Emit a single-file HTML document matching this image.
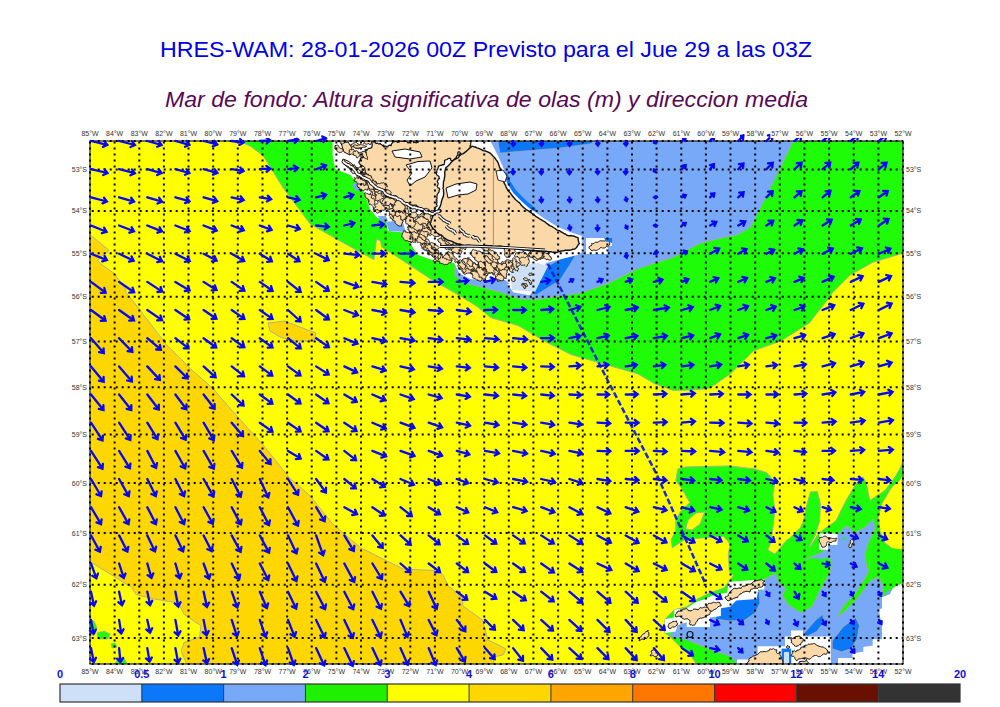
<!DOCTYPE html>
<html><head><meta charset="utf-8"><style>
html,body{margin:0;padding:0;background:#fff;width:1000px;height:707px;overflow:hidden}
svg{display:block}
</style></head><body>
<svg width="1000" height="707" viewBox="0 0 1000 707">
<defs><clipPath id="mc"><rect x="90.0" y="141.0" width="813.0" height="523.0"/></clipPath></defs>
<text x="160" y="56.6" textLength="652" lengthAdjust="spacingAndGlyphs" font-family="Liberation Sans, sans-serif" font-size="21.6" fill="#0000e8">HRES-WAM: 28-01-2026 00Z Previsto para el Jue 29 a las 03Z</text>
<text x="165" y="106.6" textLength="643" lengthAdjust="spacingAndGlyphs" font-family="Liberation Sans, sans-serif" font-style="italic" font-size="21.6" fill="#580858">Mar de fondo: Altura significativa de olas (m) y direccion media</text>
<g clip-path="url(#mc)">
<rect x="90.0" y="141.0" width="813.0" height="523.0" fill="#ffff00"/>
<polygon points="90.7,235.3 101.6,244.2 108.6,249.9 107.9,251.8 103.5,254.4 97.7,260.1 99.0,262.7 114.3,273.5 125.8,289.4 125.8,292.6 133.0,301.0 166.4,344.5 191.9,370.0 212.3,387.8 237.7,417.0 263.2,445.0 290.0,478.5 309.8,495.5 332.5,523.8 360.8,547.8 386.2,560.6 403.2,569.0 434.4,570.5 442.8,574.7 448.5,586.0 462.7,597.4 462.7,605.9 482.5,620.0 488.0,640.0 499.5,645.5 506.0,649.0 503.0,655.0 493.0,657.0 494.0,664.0 187.0,665.0 181.2,651.0 184.0,642.7 199.6,637.0 201.0,625.7 184.0,614.4 178.4,603.0 153.0,598.8 136.0,594.5 131.7,587.5 113.3,576.0 102.0,569.0 90.7,562.0 85.0,562.0 85.0,235.0" fill="#ffd700" stroke="#a8a8a8" stroke-width="0.9" stroke-linejoin="round"/><polygon points="268.0,323.0 285.0,321.0 300.0,327.0 316.0,333.0 314.0,341.0 295.0,341.0 280.0,337.0 270.0,331.0" fill="#ffd700" stroke="#a8a8a8" stroke-width="0.9" stroke-linejoin="round"/><polygon points="88.0,620.0 94.0,621.0 97.0,628.0 95.0,634.0 88.0,636.0" fill="#1efc08" stroke="#a8a8a8" stroke-width="0.8" stroke-linejoin="round"/><polygon points="97.0,633.0 104.0,631.0 110.0,634.0 108.0,639.0 98.0,639.0" fill="#1efc08" stroke="#a8a8a8" stroke-width="0.8" stroke-linejoin="round"/><polygon points="111.0,644.0 115.0,643.0 117.0,647.0 112.0,648.0" fill="#1efc08" stroke="#a8a8a8" stroke-width="0.8" stroke-linejoin="round"/><polygon points="115.0,664.0 118.0,658.0 124.0,658.0 128.0,665.0" fill="#1efc08" stroke="#a8a8a8" stroke-width="0.8" stroke-linejoin="round"/><polygon points="235.2,139.0 250.0,146.0 263.0,155.5 283.5,188.5 295.0,203.8 310.4,224.2 340.0,241.0 374.0,259.8 376.5,239.4 380.4,240.7 381.6,247.0 405.0,262.0 432.5,280.2 455.0,293.0 475.8,305.6 491.0,317.8 518.0,325.5 546.0,342.0 571.4,354.7 602.0,363.6 637.5,373.8 655.3,384.0 673.2,390.4 690.0,390.0 705.0,389.0 710.2,387.8 730.5,373.8 753.4,351.0 781.4,340.7 809.4,323.0 827.3,300.0 832.3,292.9 850.2,275.0 873.0,262.3 902.3,253.4 905.0,253.0 905.0,139.0" fill="#1efc08" stroke="#a8a8a8" stroke-width="0.9" stroke-linejoin="round"/><polygon points="455.0,139.0 792.9,139.0 792.9,141.5 778.9,170.7 756.0,216.5 750.9,226.7 738.2,234.4 715.3,239.4 700.0,243.3 673.0,257.3 637.5,268.7 609.5,282.7 581.5,292.9 538.3,299.3 520.0,299.0 500.0,292.0 465.0,283.0 455.0,276.0" fill="#78a8f8" stroke="#a8a8a8" stroke-width="0.9" stroke-linejoin="round"/><polygon points="497.5,139.0 594.0,139.0 592.0,143.5 560.0,148.0 530.0,150.5 500.0,153.0" fill="#0a78f8" stroke="#a8a8a8" stroke-width="0.6" stroke-linejoin="round"/><polygon points="545.0,268.0 577.0,249.0 574.0,258.0 560.0,280.0 536.0,295.0 533.0,293.0" fill="#0a78f8" stroke="#a8a8a8" stroke-width="0.6" stroke-linejoin="round"/><polygon points="332.6,139.0 332.6,155.0 335.2,169.0 350.5,175.0 363.2,190.3 370.0,209.0 376.8,217.5 386.0,220.9 387.8,231.0 406.5,232.7 409.9,243.0 417.5,254.8 432.0,260.0 454.2,262.9 459.6,273.7 470.4,279.0 505.5,281.8 513.6,292.6 529.8,295.3 535.2,287.2 546.0,262.9 578.4,254.8 583.0,251.0 582.0,236.0 570.0,232.0 558.0,227.0 545.0,219.0 532.0,210.0 523.0,202.0 515.0,194.0 509.0,186.0 506.0,177.0 503.0,167.0 499.0,158.0 495.0,150.0 492.0,144.1 489.3,139.0" fill="#ffffff"/><polygon points="509.0,266.0 538.0,263.0 548.0,266.0 535.0,292.0 512.0,290.0" fill="#cde0f8"/><polygon points="378.0,216.0 386.0,216.0 388.0,221.0 380.0,222.0" fill="#78a8f8"/><polygon points="352.0,185.0 360.0,181.0 364.0,189.0 356.0,191.0" fill="#78a8f8"/><polygon points="386.0,222.0 402.0,220.0 406.0,232.0 389.0,231.0" fill="#78a8f8"/><polygon points="407.0,232.0 418.0,232.0 420.0,240.0 410.0,242.0" fill="#78a8f8"/><polygon points="468.0,280.0 505.0,280.0 510.0,284.0 470.0,284.0" fill="#78a8f8"/><polygon points="372.0,141.0 372.9,141.1 373.5,141.9 374.3,142.2 375.1,142.4 375.6,143.2 376.6,143.4 377.5,143.1 378.3,143.8 379.4,144.0 380.2,143.3 380.8,144.2 381.7,144.7 382.6,145.6 383.8,145.1 383.3,146.3 384.2,147.2 384.7,146.1 385.9,146.2 386.8,146.6 387.8,147.0 388.0,145.9 389.0,145.3 390.1,145.1 391.1,145.7 391.3,144.6 391.7,143.6 392.5,142.9 392.5,141.7 393.5,141.9 394.5,141.6 395.6,141.5 396.6,141.4 397.4,142.4 398.6,142.1 399.6,141.6 399.8,140.5 400.7,140.8 401.2,141.4 402.1,141.2 403.0,141.5 403.9,141.2 404.4,140.3 405.4,140.5 406.2,141.0 406.9,141.6 407.4,142.4 408.3,143.0 409.2,142.3 410.5,141.8 410.6,140.5 411.8,140.3 412.9,140.2 413.5,141.4 413.7,142.6 415.0,142.0 416.2,142.9 417.1,142.3 418.1,142.4 418.1,141.3 419.1,140.7 420.0,140.1 419.7,139.0 420.6,138.6 421.0,137.7 421.0,136.4 421.9,135.5 421.5,134.3 421.0,133.2 421.7,132.2 422.9,132.1 424.1,132.0 425.0,131.2 425.9,130.3 427.1,130.6 427.9,129.8 428.8,129.2 430.0,128.9 431.1,129.4 431.3,130.8 432.7,131.1 433.7,131.6 434.2,132.7 435.2,132.3 436.3,132.3 436.4,133.3 436.9,134.3 438.0,134.1 438.8,135.1 440.0,134.6 441.2,135.0 441.8,136.2 442.9,136.7 443.2,135.5 444.0,134.7 444.6,133.5 445.9,133.4 446.8,133.0 447.7,133.0 448.5,132.4 449.4,132.0 450.1,132.9 450.8,133.8 451.9,133.6 452.9,133.2 453.9,132.5 455.1,132.8 455.6,133.9 456.8,134.1 457.7,133.4 458.9,133.4 458.9,132.3 459.8,131.5 459.5,132.8 460.6,133.7 459.5,134.5 459.5,135.8 460.5,136.4 461.2,137.1 462.5,137.0 463.3,138.0 464.7,138.1 465.7,139.0 466.9,138.5 467.6,137.3 468.2,138.4 469.4,138.7 469.6,139.9 470.0,141.0 470.9,141.7 470.9,142.9 470.5,143.9 470.7,145.0 470.0,145.9 470.3,147.0 470.1,148.1 470.2,149.1 469.1,149.7 469.1,150.9 468.3,151.8 467.1,151.8 466.4,152.8 465.6,153.7 464.6,154.8 463.2,154.4 461.9,154.4 460.7,154.0 460.2,152.8 459.4,151.8 458.1,151.9 457.7,153.2 457.7,154.3 458.0,155.4 457.1,155.8 456.4,156.4 456.4,157.5 455.5,158.1 454.3,159.2 454.6,160.7 453.2,160.4 451.9,160.8 450.5,160.0 450.6,158.4 449.3,158.3 448.0,158.6 447.1,159.5 445.8,159.8 444.5,160.6 444.7,162.1 444.3,163.4 444.0,164.8 442.5,164.6 441.3,165.4 440.3,165.3 439.6,165.9 438.5,166.2 438.3,167.2 437.9,168.0 438.0,168.9 437.1,169.4 437.0,170.4 436.6,171.3 436.9,172.3 436.2,173.0 436.4,174.1 436.8,174.9 437.5,175.5 438.4,176.0 439.0,176.7 439.1,177.7 439.5,178.6 438.3,178.8 438.1,180.0 437.4,180.8 437.2,181.8 437.9,182.6 438.2,183.5 438.0,184.4 437.7,185.2 437.1,186.1 437.5,187.0 438.1,187.9 439.2,188.2 439.8,189.3 439.0,190.3 439.1,191.9 438.1,193.1 437.2,194.3 437.1,195.8 436.8,197.2 437.0,198.7 436.7,199.6 436.0,200.1 436.9,200.6 436.8,201.6 437.0,202.9 436.3,204.0 437.1,205.1 436.9,206.5 435.6,206.9 434.5,207.9 434.6,209.3 434.5,210.7 433.0,211.0 431.6,210.6 430.5,211.6 430.0,213.0 428.5,212.7 427.2,213.6 426.7,212.8 425.8,212.8 425.1,213.3 424.4,213.6 423.1,212.8 422.4,211.6 421.6,211.5 420.8,211.4 420.7,210.5 420.0,210.0 419.9,209.0 420.4,208.1 419.3,207.9 418.8,207.0 418.0,206.8 417.5,206.1 416.6,205.8 416.2,205.1 414.6,205.0 413.1,205.4 411.6,205.2 410.0,205.0 409.6,204.1 409.4,203.2 408.4,203.7 407.5,203.1 406.4,203.4 406.2,204.4 405.0,204.7 404.4,203.8 403.7,202.4 402.7,201.3 401.2,201.0 400.0,200.0 399.0,200.3 398.0,200.4 396.8,200.3 396.5,199.1 396.4,198.0 397.1,197.2 396.1,196.6 396.0,195.5 395.2,195.8 394.3,196.0 393.5,196.4 392.9,197.1 392.6,196.2 391.7,195.8 391.1,194.8 390.0,195.0 389.1,195.1 388.5,194.4 387.5,194.6 387.0,193.7 386.9,192.9 386.3,192.2 385.7,191.6 385.8,190.7 384.9,190.7 384.2,191.1 383.4,190.9 382.6,190.8 382.2,190.0 381.4,189.7 380.7,189.4 380.0,189.0 380.0,188.0 379.1,187.5 379.7,186.8 379.9,185.9 379.1,185.9 378.2,185.8 377.8,185.0 377.2,184.4 375.9,183.5 375.0,182.2 373.5,182.4 372.0,183.0 372.5,182.4 373.1,181.8 373.0,180.9 372.5,180.2 371.2,179.4 370.9,177.9 370.2,176.6 368.7,176.2 367.4,175.8 366.0,176.0 365.9,174.6 364.7,173.9 365.8,172.8 365.2,171.4 365.1,170.0 364.7,168.6 363.5,167.8 362.0,168.0 362.6,166.8 362.1,165.6 360.9,165.1 360.0,164.3 359.3,163.2 358.8,162.1 359.5,161.1 360.0,160.0 360.6,159.2 360.4,158.3 361.2,157.6 362.2,157.9 362.8,157.3 363.7,157.4 363.9,156.6 364.4,155.9 364.0,155.0 364.4,154.1 365.2,153.6 365.9,153.1 366.3,152.3 365.9,151.4 365.7,150.6 365.0,150.0 366.1,149.6 366.9,150.4 367.2,149.4 368.1,148.8 368.9,148.3 369.7,148.3 370.6,148.2 371.3,147.7 372.0,147.0 371.9,146.1 372.2,145.3 372.3,144.4 371.9,143.6 371.7,142.7 372.3,141.9" fill="#fad8a8" stroke="#111111" stroke-width="1.2" stroke-linejoin="round"/><polygon points="392.0,151.0 405.0,149.0 420.0,152.0 422.0,157.0 410.0,159.0 395.0,157.0" fill="#ffffff" stroke="#111111" stroke-width="1.0" stroke-linejoin="round"/><polygon points="406.0,165.0 418.0,161.5 430.0,161.0 432.0,168.0 425.0,177.0 416.0,181.0 410.0,186.0 407.0,180.0 412.0,173.0" fill="#ffffff" stroke="#111111" stroke-width="1.0" stroke-linejoin="round"/><polygon points="343.0,159.0 348.0,161.0 356.0,167.0 363.0,172.0 362.0,175.0 354.0,172.0 346.0,166.0 342.0,162.0" fill="#fad8a8" stroke="#111111" stroke-width="1.0" stroke-linejoin="round"/><polygon points="341.0,143.0 348.0,142.0 352.0,148.0 350.0,155.0 344.0,152.0" fill="#fad8a8" stroke="#111111" stroke-width="1.0" stroke-linejoin="round"/><polygon points="371.2,178.8 371.2,179.9 370.7,180.8 370.4,181.9 369.4,182.4 368.6,182.9 367.9,183.5 367.3,182.7 366.3,182.7 365.8,183.6 364.8,183.5 363.9,183.8 363.1,183.3 362.4,183.0 361.7,182.9 360.9,182.5 360.9,181.7 360.1,181.5 359.7,180.8 359.5,180.1 359.2,179.4 359.3,178.2 360.4,177.7 359.6,176.8 360.2,175.7 361.1,175.5 361.4,174.6 361.0,173.8 361.5,173.0 362.3,172.9 363.0,173.3 363.7,172.8 364.4,172.6 365.2,172.3 365.8,172.9 366.1,173.7 367.0,173.8 367.7,174.5 368.6,174.2 368.4,175.1 369.0,175.9 370.2,175.9 371.1,176.6 371.3,177.7" fill="#fad8a8" stroke="#111111" stroke-width="0.9" stroke-linejoin="round"/><polygon points="416.6,240.0 415.4,240.2 414.2,239.8 413.8,238.7 413.0,237.7 412.2,236.6 411.0,236.0 410.6,234.7 409.6,233.7 409.5,232.4 410.0,231.1 409.6,229.9 408.8,228.9 409.3,228.2 409.3,227.4 409.9,226.8 410.7,226.6 411.1,227.4 411.8,227.9 412.7,228.3 413.5,227.8 413.1,228.7 413.7,229.4 414.2,230.1 414.9,230.6 415.8,230.9 415.8,231.8 416.4,232.3 417.1,232.8 416.9,233.5 416.9,234.3 417.2,235.2 416.6,235.8 416.7,237.2 415.5,237.9 416.6,238.7" fill="#fad8a8" stroke="#111111" stroke-width="0.9" stroke-linejoin="round"/><polygon points="438.4,252.8 437.9,253.5 437.4,254.3 436.5,254.8 436.6,255.9 435.4,255.4 434.2,255.5 433.2,256.2 432.0,256.3 431.6,255.0 430.3,254.5 429.1,254.9 427.9,254.6 427.4,253.6 427.5,252.6 428.5,252.2 429.1,251.4 430.0,251.1 430.5,250.3 431.1,249.6 431.9,249.1 433.1,248.9 434.2,249.1 435.5,248.9 436.3,250.0 436.7,250.8 436.9,251.7 437.9,251.9" fill="#fad8a8" stroke="#111111" stroke-width="0.9" stroke-linejoin="round"/><polygon points="447.6,246.5 446.4,247.0 445.3,246.4 444.0,246.1 443.3,247.2 442.1,247.0 441.1,246.4 441.5,245.1 440.7,244.1 440.7,242.9 439.6,242.5 440.1,241.6 440.3,240.7 440.2,239.6 441.1,239.0 442.2,238.9 442.6,237.9 443.7,238.7 444.7,238.0 445.1,239.0 445.8,239.8 445.4,240.9 446.1,241.8 447.2,241.8 448.1,242.3 448.4,243.4 448.7,244.5 448.5,245.7" fill="#fad8a8" stroke="#111111" stroke-width="0.9" stroke-linejoin="round"/><polygon points="383.3,196.1 383.8,197.4 383.0,198.5 381.7,198.6 380.9,199.7 380.2,200.3 379.2,200.0 378.4,200.5 378.3,201.5 377.4,201.1 376.8,200.3 375.9,200.4 375.1,201.0 374.4,200.3 373.9,199.6 372.9,199.7 372.1,200.2 371.6,199.5 370.8,199.2 371.1,198.3 370.3,197.7 369.9,196.5 369.8,195.3 369.9,194.0 370.5,193.0 371.3,192.4 371.3,191.5 371.9,190.6 372.9,190.8 373.5,191.5 374.3,192.1 375.2,192.2 376.1,191.7 376.9,191.8 377.6,192.2 378.0,192.9 378.3,193.7 379.1,193.8 379.7,193.1 380.6,193.2 381.1,192.5 381.1,193.4 381.9,193.7 381.4,194.3 381.1,194.9 381.3,195.7 381.8,196.2 382.6,196.5" fill="#fad8a8" stroke="#111111" stroke-width="0.9" stroke-linejoin="round"/><polygon points="389.6,197.3 388.9,197.6 388.1,197.4 387.3,197.8 386.6,197.2 386.3,196.0 385.1,195.8 384.1,196.0 383.1,195.5 382.4,194.8 382.0,193.8 382.1,192.8 381.9,191.8 382.5,191.1 382.4,190.3 383.3,190.2 383.7,189.4 384.8,189.0 385.8,189.6 387.0,189.5 388.0,190.0 388.7,190.2 389.4,190.6 390.0,191.0 390.6,191.5 390.9,192.2 391.2,192.9 390.7,193.6 390.9,194.4 390.0,194.7 389.5,195.5 389.0,196.4" fill="#fad8a8" stroke="#111111" stroke-width="0.9" stroke-linejoin="round"/><polygon points="455.3,245.7 454.2,245.9 453.6,244.9 452.4,244.6 452.3,243.5 452.1,242.2 452.7,241.1 451.5,240.8 450.7,239.8 450.5,238.7 449.5,238.1 449.0,237.2 449.0,236.1 449.2,234.8 449.6,233.6 449.3,232.3 448.7,231.1 449.4,230.3 450.4,230.4 451.3,230.1 452.1,230.7 452.8,231.2 453.3,231.9 453.6,232.9 454.3,233.7 453.7,234.4 453.1,235.2 453.3,236.2 454.2,236.6 454.3,237.4 454.6,238.3 453.9,239.1 454.2,240.2 455.2,240.6 455.6,241.5 454.5,242.2 454.2,243.5 454.5,244.7" fill="#fad8a8" stroke="#111111" stroke-width="0.9" stroke-linejoin="round"/><polygon points="367.8,177.2 366.7,177.4 365.7,177.9 364.8,177.8 364.0,177.7 363.2,177.2 362.4,177.0 361.5,176.8 361.1,176.1 360.8,175.4 360.3,174.8 361.0,173.9 360.5,172.8 361.6,173.1 362.4,172.3 363.1,173.1 364.0,173.5 364.7,173.2 365.4,173.1 366.2,173.3 366.3,174.2 367.6,174.3 368.6,175.0 368.1,176.1" fill="#fad8a8" stroke="#111111" stroke-width="0.9" stroke-linejoin="round"/><polygon points="404.2,213.9 403.9,212.7 403.0,211.9 402.2,210.9 400.9,211.1 399.8,210.3 398.9,209.3 398.8,208.4 398.0,208.1 397.7,207.3 398.3,206.6 398.1,205.7 398.7,205.0 398.3,204.1 398.3,203.3 399.2,203.1 399.8,202.5 400.2,203.4 401.0,203.7 401.8,204.2 402.3,204.9 403.1,204.8 403.9,205.1 404.0,205.9 404.2,206.7 403.9,207.3 403.5,207.9 403.5,208.7 403.9,209.3 404.6,210.3 405.0,211.5 404.9,212.8" fill="#fad8a8" stroke="#111111" stroke-width="0.9" stroke-linejoin="round"/><polygon points="407.0,212.7 405.8,212.6 405.0,213.5 403.9,213.6 402.9,213.3 402.5,212.2 401.9,211.2 400.7,210.5 399.6,211.3 398.3,210.9 397.1,210.1 397.0,208.8 397.3,207.4 397.1,206.1 398.1,205.3 399.3,204.9 399.8,203.7 400.5,203.9 401.2,204.2 401.7,203.7 402.4,203.4 403.7,203.6 404.8,204.4 405.6,204.3 406.3,204.6 406.6,205.4 407.5,205.5 407.9,206.3 407.2,207.0 407.3,207.8 407.9,208.4 406.9,209.2 406.1,210.3 406.6,211.5" fill="#fad8a8" stroke="#111111" stroke-width="0.9" stroke-linejoin="round"/><polygon points="514.5,252.6 513.7,253.0 512.9,252.5 512.1,253.0 512.2,253.9 511.2,254.2 510.2,254.0 509.6,253.0 508.5,253.2 507.5,252.9 506.6,252.3 506.7,251.3 506.3,250.3 506.4,249.1 507.4,248.8 506.8,248.0 506.7,247.1 507.8,247.6 509.1,247.5 509.4,246.8 509.9,246.3 510.6,246.5 511.3,246.4 512.4,247.1 513.5,247.7 514.3,248.6 514.9,249.8 514.8,250.6 515.3,251.3 514.8,252.0" fill="#fad8a8" stroke="#111111" stroke-width="0.9" stroke-linejoin="round"/><polygon points="479.9,276.7 479.4,275.8 478.6,275.2 478.5,274.3 478.1,273.4 477.2,274.0 476.3,274.3 475.5,273.5 474.4,273.6 474.1,272.7 473.8,271.8 473.0,271.2 472.5,270.4 471.4,269.8 470.6,270.7 469.9,269.9 468.9,269.6 469.1,268.4 469.7,267.3 469.0,266.3 468.9,265.1 467.7,264.8 466.4,264.8 466.2,263.5 465.3,262.6 466.3,262.6 467.0,262.0 467.3,261.0 468.3,260.7 468.7,261.7 469.5,262.4 470.5,263.1 470.3,264.3 471.2,265.0 472.4,264.6 473.4,264.5 474.4,264.7 474.9,265.7 474.7,266.7 475.5,267.5 475.8,268.5 476.2,269.5 476.9,270.3 477.8,270.7 478.7,271.3 479.0,272.2 478.4,272.9 479.2,273.2 479.6,273.9 480.4,274.4 480.7,275.2 480.2,275.9" fill="#fad8a8" stroke="#111111" stroke-width="0.9" stroke-linejoin="round"/><polygon points="387.5,186.6 386.6,186.3 385.8,186.9 385.5,187.7 385.4,188.5 384.8,189.1 384.7,189.9 383.9,190.0 383.2,190.3 382.0,190.9 380.6,190.6 379.3,190.8 378.2,191.7 377.5,191.8 376.8,191.8 376.0,192.0 375.3,191.6 374.7,191.1 374.2,190.6 374.0,189.9 373.7,189.2 373.0,188.6 372.7,187.8 372.1,187.1 372.0,186.2 371.1,186.2 370.3,185.6 369.5,185.6 368.6,185.5 369.0,184.6 368.9,183.6 368.6,182.6 368.3,181.7 368.8,182.7 370.0,182.7 371.0,182.8 372.0,182.4 373.0,182.8 373.8,181.9 374.6,181.4 375.5,181.2 375.7,182.2 376.4,182.8 377.0,183.6 377.9,184.0 378.7,183.4 379.7,183.7 380.6,183.3 381.4,183.0 382.5,183.0 383.4,182.7 384.3,183.3 385.4,183.2 385.8,184.2 386.7,184.7 387.1,185.6" fill="#fad8a8" stroke="#111111" stroke-width="0.9" stroke-linejoin="round"/><polygon points="406.6,216.9 405.7,217.1 405.4,217.9 404.8,217.5 404.1,217.3 404.3,218.6 403.5,219.7 402.8,219.8 402.1,220.2 401.9,221.0 401.0,221.1 400.4,220.5 399.5,220.7 398.8,220.3 398.8,219.4 399.3,218.2 398.5,217.1 398.4,215.9 397.7,214.9 397.3,213.8 397.5,212.6 397.2,211.9 397.4,211.1 398.0,210.7 398.7,210.5 399.6,209.5 401.0,209.1 402.1,209.8 403.3,210.3 404.5,210.4 405.4,211.0 406.3,211.8 406.7,212.8 406.5,213.8 406.4,214.9 406.2,215.9" fill="#fad8a8" stroke="#111111" stroke-width="0.9" stroke-linejoin="round"/><polygon points="422.8,226.8 422.6,227.5 422.7,228.3 422.2,228.7 421.7,229.3 421.2,230.1 420.3,230.1 419.6,229.8 418.9,229.4 419.0,230.5 418.1,231.0 417.1,231.5 416.3,230.9 415.4,231.1 414.5,231.0 414.4,229.9 413.4,229.7 412.6,229.1 411.7,229.5 411.1,228.9 410.6,228.2 410.4,227.1 409.3,227.0 408.3,226.9 407.6,227.5 407.9,226.8 407.9,226.1 408.6,225.7 409.4,225.9 408.4,224.9 408.8,223.5 409.1,222.7 409.4,221.9 410.2,221.8 411.1,221.8 411.7,221.1 412.5,220.9 413.0,221.7 414.0,221.5 414.6,220.7 415.6,220.3 416.5,220.9 417.6,220.9 418.6,220.9 419.5,221.3 420.5,221.7 420.8,222.7 422.0,223.3 421.9,224.7 422.5,225.6" fill="#fad8a8" stroke="#111111" stroke-width="0.9" stroke-linejoin="round"/><polygon points="458.1,250.3 456.7,250.5 455.8,251.4 454.6,250.9 453.3,250.8 452.4,251.0 451.7,250.3 451.0,249.7 450.1,250.1 449.3,249.7 448.5,249.3 447.7,248.9 447.5,248.0 446.8,247.3 446.1,246.6 445.1,246.7 444.2,246.5 443.8,245.6 443.3,244.7 443.7,243.8 444.2,242.9 445.2,242.6 446.0,242.1 446.7,241.2 447.8,241.4 449.0,241.5 450.0,242.1 451.2,242.5 452.2,241.7 453.1,242.2 454.0,241.9 455.0,242.0 455.7,242.6 455.6,243.6 455.6,244.7 456.6,245.1 457.5,245.7 458.2,246.8 458.8,247.9 458.4,249.1" fill="#fad8a8" stroke="#111111" stroke-width="0.9" stroke-linejoin="round"/><polygon points="506.7,271.6 506.7,272.8 505.7,273.5 504.6,273.6 503.5,273.8 502.7,273.5 502.5,272.7 502.8,271.9 502.2,271.3 501.4,271.5 500.6,271.7 500.0,271.2 499.4,270.7 499.8,270.0 499.7,269.3 499.0,269.0 498.7,268.3 499.8,267.7 500.4,266.5 501.5,266.0 501.5,264.8 502.4,264.0 502.3,262.9 502.9,263.2 503.4,263.7 504.1,263.5 504.8,263.2 505.4,264.3 506.3,265.2 506.5,266.4 507.7,266.8 508.6,267.5 508.5,268.7 508.2,269.6 507.3,270.0 507.1,270.8" fill="#fad8a8" stroke="#111111" stroke-width="0.9" stroke-linejoin="round"/><polygon points="396.0,209.0 395.3,208.0 394.6,206.9 393.4,206.8 392.1,207.2 392.0,206.3 391.3,205.8 391.5,204.8 390.7,204.3 389.9,204.3 389.1,204.1 388.2,204.4 387.5,203.9 387.1,203.0 386.7,202.1 385.7,202.0 384.7,202.1 384.3,201.4 384.1,200.6 384.0,199.7 383.4,199.1 384.0,198.4 384.9,198.0 385.6,198.5 386.5,198.4 386.8,199.2 387.4,199.8 388.0,200.5 388.9,200.4 389.0,201.3 389.9,201.5 389.9,202.7 390.6,203.7 391.8,204.2 391.8,205.6 392.9,205.8 394.0,205.8 395.2,205.8 396.1,206.4 396.1,207.3 396.9,207.8 396.1,208.2" fill="#fad8a8" stroke="#111111" stroke-width="0.9" stroke-linejoin="round"/><polygon points="375.6,198.8 375.1,199.6 375.0,200.5 374.2,201.0 373.7,201.6 372.4,201.7 371.8,202.9 370.8,202.2 369.6,202.2 368.4,201.8 368.0,200.6 368.2,199.4 367.4,198.4 368.5,198.0 369.3,197.3 369.8,196.2 369.7,195.1 370.5,195.5 371.5,195.6 371.9,194.7 372.7,194.2 373.8,193.7 374.9,193.2 375.4,193.8 375.3,194.6 376.0,194.6 376.7,194.9 376.1,196.0 375.0,196.6 376.0,197.5" fill="#fad8a8" stroke="#111111" stroke-width="0.9" stroke-linejoin="round"/><polygon points="465.4,249.9 464.7,249.6 464.4,248.9 463.7,248.6 463.0,249.0 461.9,249.2 461.2,248.4 460.8,247.5 459.9,247.1 460.0,246.1 459.3,245.4 459.7,244.5 459.2,243.6 460.3,243.2 460.7,242.1 460.8,243.2 461.4,244.1 462.6,244.0 463.5,244.8 464.5,245.4 465.5,245.7 466.2,246.7 466.3,247.8 465.7,248.8" fill="#fad8a8" stroke="#111111" stroke-width="0.9" stroke-linejoin="round"/><polygon points="376.8,187.5 377.2,188.3 376.6,188.9 375.9,189.2 375.2,189.3 374.2,189.1 373.3,188.8 372.7,187.8 371.6,187.9 370.7,187.6 370.5,186.7 369.7,186.4 369.2,185.7 369.4,184.4 370.6,184.0 370.9,183.1 371.8,183.0 372.6,183.2 373.3,183.6 373.9,184.3 374.8,184.1 374.8,185.0 375.7,185.4 376.4,186.4" fill="#fad8a8" stroke="#111111" stroke-width="0.9" stroke-linejoin="round"/><polygon points="436.9,228.7 436.1,229.2 435.2,228.8 434.4,228.5 433.5,228.2 432.9,229.1 433.3,230.1 432.7,231.1 431.6,230.9 430.9,230.0 430.5,228.9 429.3,228.7 428.2,229.1 427.1,229.3 426.3,228.6 425.3,229.2 424.4,228.6 424.2,227.8 424.3,227.0 424.1,226.1 423.1,225.9 422.7,225.2 422.6,224.4 422.0,223.7 421.1,223.7 421.3,222.7 421.9,221.9 422.7,221.2 422.9,220.1 423.9,220.3 424.5,219.5 424.7,220.4 425.7,220.6 426.5,220.7 427.1,221.1 427.9,221.2 428.5,220.8 429.0,221.3 429.4,221.9 430.0,222.3 430.7,222.6 431.5,222.5 432.0,223.2 432.5,223.8 433.3,223.6 433.3,224.6 432.8,225.4 433.8,225.8 434.1,226.8 434.4,227.7 435.3,228.0 436.3,227.9" fill="#fad8a8" stroke="#111111" stroke-width="0.9" stroke-linejoin="round"/><polygon points="414.6,221.3 413.5,221.8 412.2,221.4 411.7,222.5 411.5,223.7 410.7,223.3 409.9,223.1 409.7,224.2 408.7,224.4 408.5,223.7 407.8,223.3 407.6,222.4 406.8,222.3 406.3,221.3 406.5,220.3 405.7,219.7 404.8,219.5 405.0,218.6 405.1,217.6 404.9,216.7 404.2,216.1 405.5,215.9 406.5,216.8 407.2,216.9 407.8,217.3 408.0,216.5 408.8,216.4 409.6,217.1 410.7,217.0 411.4,217.7 412.3,218.0 412.9,218.9 413.1,220.0 414.1,220.4" fill="#fad8a8" stroke="#111111" stroke-width="0.9" stroke-linejoin="round"/><polygon points="448.7,224.1 448.5,224.9 448.1,225.5 447.4,225.9 446.8,226.4 445.9,226.9 445.0,227.0 444.1,227.4 443.1,227.6 442.2,227.6 441.8,226.7 441.4,225.9 440.5,225.6 440.2,224.5 440.5,223.3 441.3,222.7 442.2,223.0 442.4,222.0 442.9,221.3 444.1,221.5 444.7,222.6 445.6,221.8 446.8,221.8 447.2,222.4 447.6,223.1 447.9,223.8" fill="#fad8a8" stroke="#111111" stroke-width="0.9" stroke-linejoin="round"/><polygon points="492.2,271.5 491.5,271.3 490.9,270.8 490.1,270.8 489.5,271.4 489.4,270.4 490.0,269.8 489.6,269.0 489.7,268.1 489.0,267.7 488.4,267.1 487.7,266.6 487.5,265.8 488.1,264.9 487.7,263.9 488.2,263.1 488.9,262.4 489.7,261.9 489.7,261.0 490.4,260.5 490.7,259.6 491.7,260.5 492.6,261.6 492.9,262.4 493.8,262.5 493.7,263.2 493.9,264.0 493.8,265.0 494.7,265.6 494.1,266.2 493.6,267.0 494.4,267.5 494.9,268.2 494.0,268.9 494.3,269.9 493.3,270.8" fill="#fad8a8" stroke="#111111" stroke-width="0.9" stroke-linejoin="round"/><polygon points="498.9,262.4 498.0,263.0 496.9,262.7 496.3,263.7 495.2,263.6 493.8,263.6 492.4,263.7 491.6,263.6 491.0,263.0 490.6,262.2 490.9,261.4 490.0,260.8 489.5,259.7 489.2,258.5 489.8,257.5 490.1,256.6 491.0,256.1 490.6,255.1 491.3,254.3 492.0,254.0 492.8,254.1 493.5,254.6 493.4,255.4 494.6,255.5 495.7,255.2 496.4,256.3 496.7,257.4 498.1,257.4 498.9,258.5 498.0,259.3 497.6,260.5 497.6,261.8" fill="#fad8a8" stroke="#111111" stroke-width="0.9" stroke-linejoin="round"/><polygon points="381.5,211.7 380.4,212.1 379.3,211.9 378.6,212.8 377.6,213.2 376.6,212.7 376.0,211.8 375.0,210.9 373.8,211.2 374.1,210.1 373.2,209.2 373.5,208.2 373.4,207.1 374.0,206.4 374.6,205.7 375.4,205.0 376.5,205.2 377.5,204.7 378.6,205.2 379.0,203.9 380.3,203.8 381.5,204.4 381.6,205.7 381.7,207.0 382.9,207.6 382.4,208.7 381.5,209.4 381.2,210.5" fill="#fad8a8" stroke="#111111" stroke-width="0.9" stroke-linejoin="round"/><polygon points="453.5,233.7 452.7,233.3 451.9,233.0 450.9,232.9 450.6,231.9 449.8,232.3 449.0,231.8 448.4,231.3 448.1,230.5 447.5,229.8 446.7,229.4 447.2,228.6 447.1,227.7 446.0,228.0 445.1,227.4 444.5,226.5 444.5,225.4 444.3,224.3 445.1,223.6 444.4,222.9 444.2,221.9 445.5,222.1 446.8,222.4 448.1,222.4 448.8,223.5 449.8,224.0 450.5,225.0 451.4,225.9 452.0,227.1 451.9,228.5 450.9,229.5 452.0,230.1 453.3,229.9 454.4,230.6 454.8,231.8 454.5,233.0" fill="#fad8a8" stroke="#111111" stroke-width="0.9" stroke-linejoin="round"/><polygon points="449.4,249.6 448.5,249.3 447.7,248.8 447.0,249.4 446.0,249.5 445.5,248.9 445.2,248.1 444.3,247.8 444.2,246.9 443.3,247.2 442.7,246.5 442.0,246.0 441.4,245.5 440.8,244.6 441.2,243.6 440.4,243.0 439.6,242.4 438.6,242.0 438.6,240.9 437.6,240.4 437.8,239.3 438.7,239.0 439.5,238.7 440.4,238.2 441.4,238.3 441.6,239.1 442.3,239.7 442.6,240.5 443.4,240.8 444.2,240.4 444.9,240.1 445.6,240.7 446.5,240.5 447.3,241.4 447.6,242.4 447.2,243.5 446.3,244.1 446.2,245.4 447.2,246.0 448.3,246.0 449.3,246.1 449.3,247.1 448.8,247.9 449.1,248.8" fill="#fad8a8" stroke="#111111" stroke-width="0.9" stroke-linejoin="round"/><polygon points="488.6,250.4 487.6,250.6 486.7,250.9 485.6,251.2 484.9,250.3 484.0,250.3 483.3,249.6 483.2,248.7 482.6,248.1 481.7,248.3 481.0,247.6 480.1,247.3 479.8,246.4 478.9,245.8 478.2,244.9 478.2,243.7 478.4,242.6 477.3,242.1 476.3,242.7 475.4,242.0 474.6,241.3 475.6,241.0 476.5,241.4 477.3,241.1 478.2,240.9 479.4,240.6 480.5,240.6 481.4,241.7 482.8,241.4 484.0,240.9 485.3,241.0 486.1,242.1 487.2,242.8 488.0,242.8 488.8,243.0 489.5,243.6 489.3,244.5 488.6,244.9 488.2,245.7 488.4,246.5 488.9,247.2 488.7,248.2 489.4,248.9 488.7,249.5" fill="#fad8a8" stroke="#111111" stroke-width="0.9" stroke-linejoin="round"/><polygon points="385.9,206.2 386.7,206.6 386.6,207.5 386.2,208.2 385.6,208.7 384.9,209.7 383.8,210.4 382.5,210.2 381.1,210.3 380.4,210.6 379.7,210.8 378.9,210.8 378.4,210.1 377.6,210.0 377.2,209.2 376.6,210.0 375.7,209.8 374.3,209.6 373.0,209.2 373.7,208.1 374.4,207.0 374.4,206.3 374.5,205.5 374.2,204.8 373.3,204.6 374.1,204.4 374.8,204.5 375.5,204.1 376.2,204.0 377.1,203.7 377.7,203.1 378.1,202.1 377.5,201.3 378.0,200.6 378.9,200.6 379.5,201.2 380.3,201.2 380.8,202.0 380.7,202.9 381.5,203.4 382.4,203.2 382.2,203.9 382.2,204.7 382.6,205.4 383.3,205.7 384.6,206.3" fill="#fad8a8" stroke="#111111" stroke-width="0.9" stroke-linejoin="round"/><polygon points="428.5,216.5 428.1,217.6 426.9,217.6 426.0,218.3 425.0,217.7 424.5,217.2 423.9,216.8 423.1,216.8 422.4,216.8 421.6,216.8 420.8,216.8 420.0,217.4 420.2,218.3 419.4,218.0 418.7,217.5 418.4,216.7 417.5,216.4 417.0,215.5 417.6,214.7 418.5,214.7 419.5,215.0 420.6,214.8 420.9,213.7 422.2,213.5 422.9,214.6 424.0,214.2 425.1,214.8 425.5,215.8 426.4,216.4 427.5,216.0" fill="#fad8a8" stroke="#111111" stroke-width="0.9" stroke-linejoin="round"/><polygon points="526.0,266.5 525.0,265.5 524.0,264.6 523.5,265.3 522.7,265.3 522.0,265.3 521.3,265.3 520.7,264.6 520.8,263.7 521.0,262.8 520.8,262.0 520.3,261.1 519.3,260.7 519.1,259.6 519.7,258.8 518.9,258.0 519.1,256.9 519.5,256.0 520.3,255.4 520.4,254.4 520.3,253.5 520.0,252.5 519.0,252.2 519.3,252.8 519.9,253.3 520.5,253.7 521.3,253.5 522.1,252.4 523.4,251.8 523.5,252.8 524.3,253.3 524.4,254.2 524.5,255.0 525.5,255.2 526.3,254.8 527.0,255.4 527.9,255.5 528.0,256.4 528.0,257.3 528.6,258.3 527.9,259.2 529.1,259.5 529.2,260.7 529.4,261.7 528.9,262.7 528.3,263.8 527.4,264.5 527.4,265.3 527.3,266.0 526.7,266.4" fill="#fad8a8" stroke="#111111" stroke-width="0.9" stroke-linejoin="round"/><polygon points="437.9,226.9 437.8,227.9 436.8,228.2 436.4,229.0 437.0,229.8 436.2,229.9 435.5,229.5 434.8,229.2 434.1,229.0 433.3,228.6 432.6,228.2 431.9,228.8 431.1,229.1 429.7,228.9 429.1,227.6 427.8,227.5 426.6,227.8 427.1,227.2 426.9,226.4 426.5,225.8 426.3,225.1 427.7,225.3 428.6,224.4 429.3,224.6 430.1,224.4 430.5,223.8 430.8,223.2 431.5,222.9 432.3,222.9 433.1,222.7 433.8,222.4 434.0,223.2 434.1,224.1 435.1,224.1 435.7,224.8 436.4,225.2 436.9,225.8 437.3,226.4" fill="#fad8a8" stroke="#111111" stroke-width="0.9" stroke-linejoin="round"/><polygon points="432.5,224.7 431.7,224.0 430.9,223.6 429.9,223.5 428.9,223.3 428.0,222.6 428.3,221.5 427.9,220.5 427.0,220.0 426.0,219.7 425.7,218.7 425.0,217.9 424.1,217.7 423.6,216.5 424.1,215.3 424.8,214.3 425.3,213.3 424.9,212.1 425.0,210.9 424.5,209.6 423.3,209.2 424.4,208.6 425.6,208.4 426.9,208.5 427.9,209.2 429.0,209.3 429.6,210.2 429.5,211.2 430.0,212.1 430.1,213.2 431.2,213.5 432.0,213.8 432.9,214.0 433.7,214.7 433.9,215.6 433.5,216.6 434.1,217.5 435.0,218.2 435.0,219.4 434.7,220.4 433.8,221.1 433.6,222.0 433.2,222.9 432.3,223.6" fill="#fad8a8" stroke="#111111" stroke-width="0.9" stroke-linejoin="round"/><polygon points="520.3,264.6 519.8,265.2 519.1,265.5 518.4,265.9 518.1,266.6 516.9,266.1 515.8,266.7 514.6,266.4 513.8,265.5 512.8,266.0 511.8,266.5 510.6,266.3 509.5,266.5 508.3,266.6 507.2,267.2 506.6,266.0 505.3,265.8 504.4,264.8 503.2,265.1 501.9,265.2 501.3,264.2 501.2,263.4 501.7,262.8 501.7,261.9 502.5,261.5 503.5,262.1 504.5,261.4 505.3,262.0 506.4,262.0 507.6,262.1 508.2,261.1 509.2,260.9 510.1,260.7 511.3,260.7 512.5,260.8 513.7,260.6 514.9,260.4 515.8,261.3 517.1,261.2 517.4,261.9 517.9,262.3 518.7,262.7 519.3,262.1 519.2,262.8 519.4,263.5 519.9,264.0" fill="#fad8a8" stroke="#111111" stroke-width="0.9" stroke-linejoin="round"/><polygon points="445.7,231.1 444.5,231.5 443.2,231.6 442.3,232.7 442.5,234.0 441.6,233.9 440.7,233.7 439.8,233.4 438.9,233.2 438.5,232.5 438.4,231.7 437.9,231.0 437.3,230.4 437.2,229.6 437.5,228.8 438.0,228.1 437.9,227.3 439.1,227.8 440.0,227.0 440.4,226.0 441.0,225.1 441.9,225.8 443.0,225.5 443.3,226.7 444.5,227.0 444.8,228.2 446.1,228.8 445.8,229.5 445.1,229.8 445.0,230.6" fill="#fad8a8" stroke="#111111" stroke-width="0.9" stroke-linejoin="round"/><polygon points="457.1,236.7 456.2,237.6 454.9,237.1 454.3,235.9 453.7,234.6 453.2,233.9 452.4,234.0 451.6,233.7 451.0,234.1 451.0,233.3 450.4,232.7 449.6,232.5 449.3,231.7 448.8,231.1 448.9,230.3 448.5,229.6 447.8,229.3 448.5,228.7 449.3,229.2 449.8,228.7 450.3,228.1 451.3,229.0 452.1,230.1 452.8,229.8 453.3,229.1 454.2,229.2 454.8,229.9 455.1,230.6 455.1,231.4 455.9,231.5 456.4,232.2 457.0,232.7 457.8,233.0 458.1,233.8 458.0,234.6 457.9,235.8" fill="#fad8a8" stroke="#111111" stroke-width="0.9" stroke-linejoin="round"/><polygon points="453.7,249.6 452.4,249.7 451.2,249.2 450.6,248.1 449.5,247.4 449.1,246.1 449.0,244.7 448.3,244.5 447.6,244.8 447.2,244.1 446.4,244.0 445.2,243.4 445.3,242.1 444.6,241.2 444.4,240.1 445.2,239.3 446.0,238.5 446.4,237.7 447.2,237.7 447.7,238.3 448.5,238.3 448.5,239.0 448.7,239.7 449.3,240.1 449.9,240.4 450.4,241.7 450.8,242.9 451.4,243.6 452.3,243.5 452.3,244.2 452.3,245.0 452.7,246.2 452.7,247.4 453.3,248.5" fill="#fad8a8" stroke="#111111" stroke-width="0.9" stroke-linejoin="round"/><polygon points="508.3,256.9 507.7,257.5 506.8,257.4 506.1,257.0 505.7,256.3 505.1,255.6 504.4,255.0 504.7,254.2 504.8,253.2 504.8,252.4 504.8,251.6 504.7,250.7 504.1,250.1 504.5,249.0 504.7,247.9 503.8,247.0 504.2,245.8 504.5,245.0 504.5,244.2 505.2,243.8 506.0,243.5 506.0,244.5 506.2,245.3 505.7,246.1 505.5,247.0 505.7,248.0 506.5,248.7 507.5,248.2 508.5,248.8 509.5,249.2 510.0,250.2 510.1,251.4 509.2,252.1 509.5,253.1 509.1,254.0 509.4,255.0 510.5,255.3 510.2,256.1 509.9,256.8 509.1,256.9" fill="#fad8a8" stroke="#111111" stroke-width="0.9" stroke-linejoin="round"/><polygon points="402.8,215.9 402.9,216.6 402.5,217.2 401.8,217.7 401.9,218.5 401.1,218.8 400.5,218.2 399.7,218.1 399.1,218.6 398.0,219.1 397.1,218.4 396.0,218.8 395.8,219.9 394.8,219.7 394.0,219.0 393.4,220.0 392.3,220.2 392.2,219.3 391.8,218.5 391.0,218.0 390.1,218.2 390.3,217.5 390.3,216.7 389.7,216.1 389.2,215.5 389.5,214.5 390.4,214.1 390.3,213.2 390.0,212.2 390.8,211.9 391.5,212.2 391.9,213.1 392.8,213.1 393.1,212.4 393.2,211.6 393.7,211.0 394.5,210.9 395.3,211.1 396.1,210.9 396.8,211.4 397.4,211.9 398.1,211.2 399.0,211.5 399.8,211.4 400.5,211.9 401.5,212.6 402.4,213.4 402.4,214.7" fill="#fad8a8" stroke="#111111" stroke-width="0.9" stroke-linejoin="round"/><polygon points="398.9,214.2 398.2,214.7 397.4,214.3 397.3,213.5 396.7,213.1 395.4,213.0 394.3,213.7 394.2,212.5 393.4,211.6 392.3,211.3 391.3,210.7 390.7,209.5 389.4,209.5 388.4,209.0 387.3,209.4 387.1,208.6 387.0,207.9 386.3,207.7 385.6,207.5 384.5,206.9 383.5,206.2 383.7,205.5 384.1,204.9 385.1,205.5 386.2,205.6 387.3,204.8 388.5,205.4 389.2,206.2 389.4,207.3 389.7,208.4 390.6,209.0 391.7,208.4 392.9,208.7 393.4,209.8 394.6,210.1 394.5,211.0 395.0,211.7 395.3,212.5 395.8,213.1 396.7,213.0 397.5,213.3 398.2,213.6" fill="#fad8a8" stroke="#111111" stroke-width="0.9" stroke-linejoin="round"/><polygon points="498.8,274.8 497.7,274.3 497.7,273.2 496.8,273.0 496.0,272.4 496.1,271.6 496.4,271.0 496.1,270.3 496.0,269.5 495.3,269.1 495.2,268.3 494.4,268.5 493.6,268.1 493.4,267.0 493.2,265.9 494.0,265.2 494.5,264.2 495.5,263.6 496.7,263.7 497.0,264.8 496.8,265.9 497.9,266.3 498.7,267.1 499.4,267.6 500.2,267.6 500.8,268.2 500.9,269.1 500.8,269.8 500.3,270.5 500.5,271.2 500.6,272.0 500.9,273.0 500.5,273.9 499.8,274.7" fill="#fad8a8" stroke="#111111" stroke-width="0.9" stroke-linejoin="round"/><polygon points="440.6,232.7 439.3,233.1 438.0,232.6 437.2,231.7 436.7,230.5 435.9,229.5 435.0,228.7 434.8,227.9 434.0,227.6 434.7,227.1 434.6,226.3 433.9,225.8 433.1,226.2 432.9,225.5 432.3,225.0 432.4,223.7 431.8,222.5 431.5,221.6 432.0,220.7 431.9,219.8 431.2,219.1 430.6,218.4 430.4,217.6 430.7,216.6 430.0,215.9 431.3,216.1 432.5,215.9 433.5,216.3 434.4,215.7 435.5,216.2 435.4,217.4 436.2,217.9 436.7,218.7 436.7,219.6 436.5,220.5 436.5,221.8 435.4,222.6 435.5,223.8 436.6,224.6 436.9,225.8 438.1,225.9 439.3,226.1 439.7,227.2 439.8,228.1 440.6,228.5 440.6,229.4 440.0,230.0 440.3,231.3" fill="#fad8a8" stroke="#111111" stroke-width="0.9" stroke-linejoin="round"/><polygon points="402.4,222.3 402.0,221.6 401.7,220.8 400.9,220.5 400.1,220.9 399.3,220.6 398.8,220.0 398.3,220.8 397.4,220.9 397.4,219.9 396.4,219.5 395.4,219.4 394.9,218.6 394.7,217.5 395.4,216.7 394.7,216.0 394.0,215.3 393.9,214.4 393.7,213.5 393.3,212.7 392.5,212.2 392.8,211.3 392.4,210.4 392.1,209.5 391.3,209.0 392.3,209.4 393.3,208.9 394.4,209.3 395.3,208.6 396.1,208.4 396.8,208.1 397.5,208.4 398.1,208.8 399.0,208.8 399.4,209.5 399.3,210.4 399.9,211.0 400.5,211.8 401.6,211.8 402.0,212.8 401.5,213.7 401.8,214.6 402.6,215.1 402.7,216.0 402.4,216.8 402.8,217.5 403.2,218.2 402.8,218.9 402.3,219.6 402.1,220.9" fill="#fad8a8" stroke="#111111" stroke-width="0.9" stroke-linejoin="round"/><polygon points="452.2,259.8 451.8,261.0 451.3,262.3 450.0,262.8 448.7,262.8 448.2,263.6 447.6,264.4 446.6,264.5 445.7,264.3 444.9,265.0 443.9,264.5 443.2,264.0 442.4,263.6 441.5,263.7 441.0,263.0 440.3,263.2 439.6,263.5 439.6,262.8 439.7,262.0 439.5,261.1 438.5,261.0 437.4,261.1 436.2,261.3 435.2,261.9 434.0,262.2 433.5,261.6 433.3,260.9 433.6,260.2 434.1,259.6 435.2,258.9 435.6,257.6 436.5,258.2 437.6,258.3 438.9,258.2 439.3,257.0 439.9,256.3 440.6,255.6 441.3,255.0 441.7,254.1 442.5,254.3 442.8,255.1 442.2,255.7 442.5,256.5 443.8,256.8 445.0,257.1 445.6,256.7 446.4,256.9 446.9,256.4 447.0,255.7 448.1,256.6 449.4,256.3 450.0,256.8 450.4,257.5 449.9,258.1 449.8,258.9 451.1,259.0" fill="#fad8a8" stroke="#111111" stroke-width="0.9" stroke-linejoin="round"/><polygon points="472.1,238.1 471.4,239.3 470.2,240.0 469.3,240.8 468.2,241.5 466.9,241.5 466.0,240.4 464.8,239.7 464.7,238.4 463.5,238.8 462.4,238.1 462.1,237.3 462.8,236.8 463.5,236.4 463.8,235.7 465.0,235.5 465.2,234.4 466.3,234.4 467.1,235.0 468.3,235.0 468.9,236.0 470.0,236.3 471.0,235.7 470.4,236.4 470.7,237.3 471.4,237.8" fill="#fad8a8" stroke="#111111" stroke-width="0.9" stroke-linejoin="round"/><polygon points="367.7,183.1 366.7,183.2 366.3,184.0 365.6,183.3 364.7,183.4 363.3,183.1 361.9,183.1 361.2,181.9 360.3,180.8 359.5,180.8 358.9,180.2 358.4,179.6 358.7,178.8 359.4,177.6 359.5,176.3 359.7,175.4 360.2,174.7 361.0,174.6 361.9,174.6 362.2,173.8 363.0,173.7 363.7,174.0 364.4,174.3 364.9,175.4 365.8,176.3 366.0,177.5 367.3,177.9 368.0,176.8 369.3,177.2 370.1,177.7 370.3,178.8 370.1,179.7 370.1,180.6 369.2,180.9 368.5,181.5 368.2,182.4" fill="#fad8a8" stroke="#111111" stroke-width="0.9" stroke-linejoin="round"/><polygon points="415.7,238.5 414.6,237.9 413.8,237.1 412.5,236.8 411.9,235.7 412.0,235.0 412.3,234.3 412.6,233.5 412.2,232.9 411.3,233.2 410.7,232.5 410.2,232.0 409.7,231.5 408.9,230.8 409.2,229.8 408.4,229.6 407.6,229.3 408.3,228.8 408.2,227.9 408.1,227.1 408.7,226.4 409.4,226.0 410.2,226.3 411.1,226.2 411.8,226.7 412.3,227.5 413.2,228.0 414.3,228.4 414.4,229.5 415.2,229.6 416.0,229.9 416.7,230.4 417.1,231.2 417.5,232.1 418.2,232.8 417.6,233.5 417.2,234.4 416.5,235.3 416.5,236.5 415.7,237.3" fill="#fad8a8" stroke="#111111" stroke-width="0.9" stroke-linejoin="round"/><polygon points="480.4,271.9 479.4,271.5 478.4,271.5 477.7,272.2 477.3,273.2 476.1,273.0 475.4,273.9 474.5,273.3 474.0,272.5 473.1,272.1 472.4,271.4 472.6,270.3 471.8,269.6 472.3,268.7 472.6,267.8 473.2,266.9 472.8,265.9 473.8,266.4 474.6,267.3 475.8,267.2 476.9,266.8 477.8,267.2 478.4,268.0 479.3,268.1 480.2,268.5 479.8,269.3 480.2,270.2 479.8,271.1" fill="#fad8a8" stroke="#111111" stroke-width="0.9" stroke-linejoin="round"/><polygon points="400.5,213.5 399.6,213.8 399.5,214.7 399.6,215.5 398.9,216.1 397.8,216.1 396.7,215.9 395.6,216.5 395.5,217.8 394.4,217.4 393.4,217.7 393.2,216.5 392.0,216.2 392.1,215.0 391.4,214.1 390.0,214.3 389.3,213.2 389.4,212.4 389.4,211.5 388.4,211.4 387.9,210.6 388.3,209.9 388.9,209.5 389.5,209.3 390.2,209.1 390.9,208.8 391.6,208.6 392.4,208.5 393.0,209.1 393.7,209.6 393.8,210.5 394.2,211.1 394.8,211.6 395.6,211.9 396.4,211.6 397.1,211.0 397.9,211.3 398.5,211.9 399.4,212.2 400.1,212.7" fill="#fad8a8" stroke="#111111" stroke-width="0.9" stroke-linejoin="round"/><polygon points="438.8,236.7 437.8,236.2 436.8,236.7 435.8,236.3 434.8,236.9 434.6,236.2 434.0,235.8 433.3,235.5 432.7,235.1 432.0,234.4 431.1,234.6 430.6,235.3 430.0,235.9 429.7,235.2 429.4,234.5 428.6,234.7 427.9,234.2 427.4,232.9 427.6,231.5 428.4,231.1 429.0,230.6 429.2,229.7 430.0,229.2 431.1,229.2 432.3,229.3 433.3,228.9 434.5,228.7 434.6,229.6 435.2,230.3 435.9,231.1 436.9,230.7 437.4,231.4 437.9,232.0 438.4,232.7 439.3,232.8 439.3,233.8 438.7,234.7 439.2,235.7" fill="#fad8a8" stroke="#111111" stroke-width="0.9" stroke-linejoin="round"/><polygon points="499.6,259.1 498.9,258.9 498.2,258.9 497.6,259.3 497.3,260.0 496.6,259.2 495.6,259.4 495.6,258.4 494.9,257.7 494.2,257.2 493.6,256.6 493.1,255.9 492.2,255.7 491.4,255.3 490.6,255.0 489.7,255.1 488.9,254.7 489.1,253.8 488.9,252.8 488.7,251.7 487.7,251.4 488.2,250.4 488.7,249.3 489.2,250.1 490.2,249.9 491.0,250.0 491.5,250.8 492.4,250.4 493.1,251.0 494.1,251.2 494.3,252.2 495.3,252.2 496.3,252.4 496.6,253.3 497.1,254.2 497.9,254.9 497.7,256.0 498.6,256.3 499.5,256.6 499.7,257.9" fill="#fad8a8" stroke="#111111" stroke-width="0.9" stroke-linejoin="round"/><polygon points="488.9,268.8 487.8,269.2 486.8,269.9 486.8,271.1 486.8,272.3 485.7,272.2 484.6,272.1 483.5,271.7 482.4,272.1 481.4,271.4 480.6,270.5 479.3,270.9 478.3,269.9 479.1,269.0 479.9,268.2 479.2,267.1 479.5,265.9 480.2,266.1 480.7,266.8 481.5,266.7 482.0,266.0 482.6,264.9 483.2,263.8 483.7,263.2 484.5,263.2 485.1,262.8 485.9,262.7 485.7,263.7 486.3,264.4 487.1,264.8 488.0,264.7 488.7,265.5 489.0,266.6 489.1,267.7" fill="#fad8a8" stroke="#111111" stroke-width="0.9" stroke-linejoin="round"/><polygon points="470.5,242.3 470.2,243.3 469.5,244.0 468.3,243.7 467.0,243.9 466.2,243.7 465.6,243.2 465.0,243.7 464.4,244.2 463.5,243.6 462.4,243.6 461.3,244.1 460.3,243.2 460.2,242.1 459.3,241.3 459.5,240.5 460.3,240.0 461.1,240.1 461.9,240.2 462.6,240.7 463.3,240.1 463.8,240.8 464.6,240.7 465.6,241.3 466.7,241.1 467.8,241.7 468.8,241.0 469.4,242.0" fill="#fad8a8" stroke="#111111" stroke-width="0.9" stroke-linejoin="round"/><polygon points="527.9,255.4 527.4,256.2 526.5,256.5 526.0,257.2 525.2,257.7 524.4,257.8 523.9,257.2 523.1,257.0 522.5,257.4 521.7,257.1 521.1,257.5 520.6,258.1 519.8,258.2 519.0,258.1 518.4,257.6 517.6,257.1 517.6,256.2 517.2,257.0 516.3,256.8 515.6,257.2 514.9,257.1 514.8,256.4 514.5,255.8 514.9,255.1 515.4,254.6 515.6,253.3 516.8,252.7 518.1,253.1 519.2,252.3 520.0,252.8 520.7,252.3 521.5,252.8 522.3,252.5 522.9,251.6 524.0,251.7 524.6,252.5 525.4,253.0 526.4,253.4 526.4,254.4 527.1,254.9" fill="#fad8a8" stroke="#111111" stroke-width="0.9" stroke-linejoin="round"/><polygon points="457.8,242.8 456.6,243.1 455.8,242.3 454.8,242.6 453.8,242.9 453.1,243.8 452.3,244.6 451.1,244.6 450.1,244.1 449.2,243.6 448.8,242.6 447.7,242.5 447.1,241.7 446.1,241.3 446.0,240.3 445.2,239.8 444.6,239.2 443.6,238.5 442.6,239.2 441.6,238.7 441.4,237.6 441.7,236.9 441.4,236.2 441.7,235.4 442.6,235.4 443.5,234.6 444.7,235.0 445.0,236.2 446.0,236.8 446.9,237.2 447.9,237.0 448.9,236.8 449.7,237.6 449.8,238.9 450.9,239.7 452.0,238.9 453.3,239.3 454.2,238.3 455.5,238.4 456.5,239.1 457.2,240.1 457.5,240.9 457.0,241.6 457.6,242.1" fill="#fad8a8" stroke="#111111" stroke-width="0.9" stroke-linejoin="round"/><polygon points="492.9,268.0 492.1,268.1 491.2,268.2 490.5,268.4 489.6,268.5 490.0,267.2 489.8,266.0 488.6,265.7 487.7,264.7 487.0,264.4 486.2,264.4 486.4,263.6 486.0,262.9 484.9,263.4 483.6,263.5 482.6,262.7 481.5,261.8 481.5,260.5 481.2,259.1 481.6,257.8 481.7,256.4 482.0,257.4 482.8,257.9 483.3,258.6 483.8,259.4 484.8,259.7 485.8,259.9 486.7,259.5 487.4,258.7 487.4,259.7 487.0,260.7 487.7,261.5 488.6,262.0 489.6,262.7 489.3,263.9 490.4,263.6 491.4,264.2 491.2,265.3 491.0,266.5 491.6,267.7" fill="#fad8a8" stroke="#111111" stroke-width="0.9" stroke-linejoin="round"/><polygon points="499.3,281.0 498.2,281.4 497.1,280.8 497.3,279.5 496.2,278.8 495.2,278.2 495.5,277.1 495.7,276.1 495.3,275.2 494.2,274.5 493.0,275.2 492.8,274.1 492.2,273.1 491.3,272.7 490.8,271.9 491.2,271.0 490.9,270.0 491.6,269.4 492.0,268.6 491.9,267.7 491.9,266.8 492.8,266.7 493.6,267.0 494.0,266.3 494.4,265.5 495.4,265.7 496.0,266.5 495.6,267.5 496.1,268.4 496.1,269.4 496.5,270.3 497.3,271.2 498.4,270.7 498.0,271.4 498.0,272.1 498.6,272.6 499.2,273.0 498.8,273.6 498.1,273.9 498.4,274.6 498.4,275.3 499.1,275.5 499.8,275.7 500.5,275.6 501.2,276.0 501.3,276.6 501.6,277.3 501.1,278.0 501.5,278.7 501.8,279.8 500.9,280.4 500.1,280.5" fill="#fad8a8" stroke="#111111" stroke-width="0.9" stroke-linejoin="round"/><polygon points="491.7,268.1 490.8,267.7 489.8,267.6 489.1,268.3 488.0,268.5 487.3,268.9 486.5,268.5 485.7,268.2 485.0,268.7 484.4,267.9 484.7,267.0 484.2,266.2 483.3,266.2 482.9,265.1 483.2,264.0 482.4,263.1 482.9,261.9 483.8,262.0 484.4,261.5 484.9,260.8 484.7,259.9 484.3,259.4 483.7,259.0 483.6,258.3 483.5,257.6 484.5,257.4 485.2,258.0 486.1,258.2 486.9,257.8 487.0,258.8 487.8,259.3 488.7,259.8 488.7,260.8 489.3,261.8 490.5,262.2 490.7,263.4 491.3,264.3 490.7,265.2 491.1,266.3 490.9,267.4" fill="#fad8a8" stroke="#111111" stroke-width="0.9" stroke-linejoin="round"/><polygon points="363.1,179.9 361.9,180.1 361.3,179.1 361.0,178.1 361.4,177.1 360.6,177.5 359.7,177.7 358.9,177.7 358.1,177.3 357.1,177.0 356.9,175.9 357.4,174.9 356.7,174.1 356.2,173.1 355.1,173.0 354.3,173.5 353.3,173.6 352.4,173.3 352.1,172.4 351.4,172.0 350.9,171.2 351.4,170.5 351.8,169.8 351.9,169.0 352.2,168.2 352.2,167.0 352.0,165.9 353.4,165.9 354.0,164.7 354.8,165.3 355.1,166.4 356.0,167.1 355.8,168.2 356.9,168.4 357.8,167.7 358.7,168.5 359.8,168.3 359.7,169.5 360.1,170.5 361.5,170.6 362.0,171.8 362.4,173.0 361.9,174.2 362.6,174.1 363.3,174.2 363.7,174.7 364.2,175.3 363.2,176.2 362.8,177.4 363.0,178.7" fill="#fad8a8" stroke="#111111" stroke-width="0.9" stroke-linejoin="round"/><polygon points="375.1,195.9 374.3,196.0 373.7,195.5 372.9,195.3 372.5,194.6 372.7,193.4 372.2,192.2 371.9,191.5 371.5,191.0 370.8,191.0 370.1,191.0 369.2,190.3 369.0,189.2 369.1,188.1 370.0,187.4 370.9,187.0 371.9,187.3 372.7,187.8 373.6,187.9 373.5,188.8 373.9,189.6 374.0,190.4 374.2,191.2 374.4,192.0 375.0,192.6 374.6,193.4 374.7,194.3 375.3,195.0" fill="#fad8a8" stroke="#111111" stroke-width="0.9" stroke-linejoin="round"/><polygon points="418.2,217.0 417.3,217.4 416.5,216.7 415.7,217.2 415.5,218.2 414.5,218.1 413.7,218.8 413.4,217.7 412.3,217.5 411.5,216.9 410.5,216.7 409.6,216.2 409.1,215.3 409.4,214.7 410.1,214.3 410.5,213.7 410.8,213.1 411.6,212.5 412.5,212.8 413.1,212.2 414.0,212.1 415.0,212.1 416.0,212.5 416.4,213.5 417.2,214.2 417.4,215.0 417.2,215.8 418.1,216.1" fill="#fad8a8" stroke="#111111" stroke-width="0.9" stroke-linejoin="round"/><polygon points="440.7,257.9 439.8,258.9 438.6,258.4 438.6,259.6 437.7,260.4 436.8,260.5 436.1,260.1 435.5,259.4 435.5,258.6 435.2,257.8 435.3,256.9 434.4,257.0 433.8,256.3 433.8,255.5 433.0,255.1 433.1,254.3 432.9,253.6 432.1,253.0 432.2,252.0 431.3,251.7 430.5,252.1 431.6,251.9 432.1,250.9 433.2,251.2 434.1,250.5 435.3,250.8 435.7,251.9 436.8,251.9 437.8,251.6 438.7,252.4 438.9,253.6 439.9,254.1 440.9,254.6 441.1,255.4 441.1,256.3 440.3,257.0" fill="#fad8a8" stroke="#111111" stroke-width="0.9" stroke-linejoin="round"/><polygon points="503.6,280.3 502.8,280.7 501.9,280.7 501.1,280.8 500.2,280.6 499.6,280.1 498.7,280.0 497.9,279.8 497.1,279.7 496.7,278.8 495.8,278.4 495.6,277.4 496.3,276.7 497.0,276.0 497.7,275.4 497.0,274.6 497.5,273.6 498.1,274.5 499.2,274.3 500.1,274.7 501.0,274.7 501.9,275.1 502.9,275.3 503.6,275.9 504.3,276.7 504.5,277.7 503.8,278.4 503.4,279.3" fill="#fad8a8" stroke="#111111" stroke-width="0.9" stroke-linejoin="round"/><polygon points="493.7,259.7 493.0,260.2 492.4,260.8 491.8,261.4 490.9,261.5 490.3,260.5 490.3,259.4 489.3,259.0 488.2,259.0 487.2,259.0 486.2,259.0 485.3,258.5 484.9,257.5 484.0,258.2 482.9,257.7 482.0,257.3 481.2,256.6 480.3,256.2 479.9,255.2 479.1,254.5 479.2,253.5 480.4,253.6 481.0,252.6 482.1,252.6 483.1,252.7 484.2,252.7 485.1,253.3 486.2,253.5 487.2,253.2 487.8,253.9 488.7,253.8 489.5,253.7 490.4,253.6 490.6,254.6 491.5,254.8 492.2,255.4 492.0,256.4 492.5,257.3 492.3,258.3 492.8,259.2" fill="#fad8a8" stroke="#111111" stroke-width="0.9" stroke-linejoin="round"/><polygon points="401.5,226.1 400.3,226.0 399.0,226.1 398.0,225.4 397.0,224.8 396.5,224.2 395.9,223.9 395.4,223.3 394.9,222.8 395.4,221.9 394.9,221.1 394.1,220.9 393.3,220.4 392.9,219.3 393.4,218.2 393.5,217.0 393.1,215.9 394.4,215.6 395.1,214.5 395.2,213.3 395.0,212.1 395.9,212.2 396.3,213.0 396.7,213.8 397.6,214.0 398.5,213.5 399.3,214.3 400.2,214.7 400.2,215.7 400.6,216.7 401.6,217.2 401.1,218.1 400.8,219.2 401.5,219.9 402.5,220.1 403.0,220.9 403.2,221.8 402.0,222.5 402.0,223.8 401.3,224.9" fill="#fad8a8" stroke="#111111" stroke-width="0.9" stroke-linejoin="round"/><polygon points="395.9,202.9 395.7,203.9 394.9,204.7 393.8,204.7 393.1,205.6 392.8,204.5 391.8,204.2 391.0,203.4 390.0,203.5 389.9,204.7 389.0,205.4 387.9,205.6 386.9,205.5 386.4,204.8 385.6,204.5 385.0,204.0 384.2,203.9 383.4,204.3 382.6,203.7 382.0,203.1 381.5,202.5 382.3,201.8 382.2,200.7 383.3,200.3 383.4,199.2 384.6,198.7 385.6,197.8 386.8,197.2 388.2,197.5 389.0,197.8 389.4,198.6 390.3,198.7 391.1,198.4 392.1,198.7 392.9,198.1 393.0,199.1 393.9,199.5 394.9,200.0 395.3,201.0 395.7,201.9" fill="#fad8a8" stroke="#111111" stroke-width="0.9" stroke-linejoin="round"/><polygon points="551.6,259.0 551.1,259.5 550.7,260.1 549.9,260.0 549.2,260.1 548.3,259.9 547.9,259.2 546.9,259.1 546.5,260.0 546.1,259.2 545.4,258.6 544.6,258.3 543.8,257.9 542.8,258.5 541.8,257.8 541.5,258.7 540.7,259.4 539.7,259.2 539.4,258.3 538.6,257.7 538.8,256.7 538.0,256.5 537.2,256.9 536.4,257.3 535.6,256.8 536.3,256.3 536.2,255.4 536.6,254.7 537.4,254.7 538.5,254.2 539.4,253.4 539.7,254.2 540.5,254.3 541.4,254.4 541.8,253.7 542.7,252.8 543.7,252.3 544.8,252.8 545.9,253.1 546.8,253.3 547.2,254.0 547.6,253.3 548.4,253.1 548.4,253.8 548.3,254.5 548.9,254.9 549.4,255.5 549.8,256.6 551.0,256.9 551.2,258.0" fill="#fad8a8" stroke="#111111" stroke-width="0.9" stroke-linejoin="round"/><polygon points="438.3,258.2 437.4,258.1 436.7,257.6 436.1,258.4 435.3,258.7 434.9,257.9 434.0,257.8 433.4,257.3 433.0,256.6 432.9,255.5 432.9,254.4 432.1,253.6 431.2,253.0 430.7,251.9 429.6,251.4 428.3,251.1 427.3,251.8 426.8,250.7 425.8,250.2 424.7,250.1 423.7,249.7 422.6,249.1 421.9,248.1 422.1,246.9 422.5,245.7 423.1,244.8 422.7,243.8 423.3,243.1 424.3,242.8 425.3,242.9 426.4,242.9 426.9,243.9 428.0,244.3 429.1,244.5 430.3,244.6 431.2,245.4 431.2,246.7 431.7,247.8 431.9,249.0 432.6,250.1 432.7,251.3 433.7,252.1 434.8,252.7 436.0,253.1 437.2,253.3 437.6,254.1 438.5,254.1 438.7,254.9 438.4,255.6 437.9,256.3 437.5,256.9 438.2,257.4" fill="#fad8a8" stroke="#111111" stroke-width="0.9" stroke-linejoin="round"/><polygon points="415.3,242.7 414.6,242.1 413.6,242.2 412.7,241.8 411.9,242.4 410.6,242.5 410.0,241.2 410.4,240.1 409.9,239.0 409.0,238.5 409.0,237.4 409.1,236.4 409.5,235.6 410.7,235.0 411.9,234.2 412.9,234.2 413.9,234.1 414.8,234.7 415.1,235.7 416.1,236.3 416.0,237.5 416.4,238.5 416.2,239.5 415.4,240.0 414.9,240.9 415.5,241.7" fill="#fad8a8" stroke="#111111" stroke-width="0.9" stroke-linejoin="round"/><polygon points="485.5,276.3 484.9,275.3 483.7,275.3 483.1,276.3 482.0,276.5 481.3,276.9 480.5,276.7 480.5,275.8 479.7,275.4 478.8,275.5 478.4,274.8 478.2,274.1 478.2,273.4 478.1,272.2 477.9,271.0 478.9,270.3 480.1,269.8 480.7,269.2 481.4,268.8 481.9,268.1 482.1,267.3 483.1,267.6 483.8,268.4 484.6,268.9 485.3,269.7 486.0,269.5 486.8,269.7 486.7,270.5 487.4,271.0 488.0,272.2 487.9,273.5 487.6,274.5 487.5,275.6 486.4,275.6" fill="#fad8a8" stroke="#111111" stroke-width="0.9" stroke-linejoin="round"/><polygon points="460.2,254.7 459.5,253.8 458.5,253.0 457.5,253.9 456.2,253.4 455.4,253.0 454.9,252.3 454.0,252.2 453.2,251.9 452.2,251.4 451.4,250.7 451.7,249.7 451.9,248.7 452.6,248.1 453.4,248.3 453.3,247.3 454.1,246.8 453.3,246.4 453.4,245.6 453.4,244.8 453.2,244.1 453.1,243.0 453.5,242.0 454.7,242.1 455.5,241.3 454.7,242.1 455.2,243.1 455.5,244.1 456.5,244.3 457.3,243.6 458.4,243.8 458.7,244.8 459.5,245.4 458.9,246.2 459.1,247.2 459.9,247.8 460.4,248.6 459.9,249.6 460.6,250.4 461.5,250.8 462.3,251.2 461.5,252.0 461.1,252.9 461.0,254.0" fill="#fad8a8" stroke="#111111" stroke-width="0.9" stroke-linejoin="round"/><polygon points="409.1,215.1 408.2,214.7 407.3,214.8 406.3,215.0 406.1,216.0 405.6,215.2 404.9,214.5 404.0,214.7 403.1,214.8 402.8,213.8 401.9,213.8 401.9,213.0 401.9,212.2 401.6,211.4 401.4,210.6 401.9,209.9 402.5,209.3 403.3,208.7 404.3,208.7 405.3,208.6 406.2,208.9 407.4,209.0 408.3,209.7 408.4,210.8 408.8,211.9 408.6,212.7 409.2,213.4 409.2,214.2" fill="#fad8a8" stroke="#111111" stroke-width="0.9" stroke-linejoin="round"/><polygon points="448.2,233.4 448.1,234.1 448.1,234.8 447.5,235.1 446.9,235.5 445.8,236.1 444.6,236.6 444.3,235.8 443.5,235.5 442.9,234.9 442.4,234.3 441.4,234.6 441.2,235.7 440.4,235.2 439.4,235.4 439.7,234.6 439.5,233.9 439.0,233.2 438.1,233.3 438.8,232.8 438.8,231.9 438.0,231.7 437.8,230.8 438.8,230.2 439.7,229.6 440.5,228.6 439.9,227.4 441.1,227.6 442.2,227.5 443.2,226.8 444.0,226.0 445.2,226.2 445.7,227.4 446.7,228.1 446.8,229.3 447.3,230.3 447.8,231.2 448.0,232.3" fill="#fad8a8" stroke="#111111" stroke-width="0.9" stroke-linejoin="round"/><polygon points="414.5,226.4 413.5,226.7 412.9,227.6 412.0,228.0 410.9,227.9 410.3,227.2 410.1,226.4 409.6,225.7 408.7,225.3 408.3,224.6 407.6,224.0 406.6,224.1 406.0,223.3 405.6,222.2 405.8,221.1 405.6,219.9 406.6,219.0 406.6,218.0 406.9,217.1 407.3,216.1 407.6,215.2 408.2,215.7 408.9,215.9 409.3,216.6 410.0,216.9 410.6,217.6 411.4,217.4 412.2,217.5 412.9,217.4 412.9,218.5 413.9,219.0 413.4,219.9 413.6,220.8 413.6,221.9 414.6,222.3 415.5,222.5 416.2,223.0 415.6,223.7 415.2,224.6 414.7,225.4" fill="#fad8a8" stroke="#111111" stroke-width="0.9" stroke-linejoin="round"/><polygon points="375.7,185.9 374.6,186.2 373.6,187.0 373.7,188.2 373.7,189.4 372.8,189.2 372.2,189.9 371.7,189.2 370.8,189.3 370.0,189.4 369.4,188.9 369.2,188.1 368.4,187.8 368.4,186.7 368.0,185.7 367.7,184.7 367.4,183.7 367.6,183.0 367.2,182.3 366.3,182.3 366.0,181.6 366.7,180.6 367.3,179.5 368.1,179.7 369.0,179.7 369.3,179.0 369.9,178.3 370.5,178.9 370.8,179.7 371.5,179.3 372.4,179.4 373.5,180.3 374.2,181.5 375.4,182.0 376.8,182.1 376.4,183.0 376.0,183.9 375.9,184.9" fill="#fad8a8" stroke="#111111" stroke-width="0.9" stroke-linejoin="round"/><polygon points="491.0,270.2 490.3,270.7 489.7,271.2 488.9,271.9 489.4,272.8 488.5,273.0 487.8,273.4 487.2,272.7 486.3,272.8 485.2,273.4 484.1,273.0 482.7,272.8 482.4,271.5 481.3,271.4 480.2,271.0 479.7,272.2 478.5,272.4 478.2,271.5 477.3,271.1 477.5,270.2 477.0,269.4 476.1,269.6 475.2,269.4 474.2,269.3 473.8,268.3 472.8,267.4 472.1,266.3 472.2,264.9 473.1,263.8 473.9,264.4 474.9,264.7 475.9,265.1 477.0,264.9 477.9,264.1 479.0,264.3 479.6,263.3 480.7,263.3 481.7,262.9 482.7,262.7 483.6,263.5 484.7,262.9 485.7,263.6 485.6,264.7 485.9,265.9 487.1,266.1 487.0,267.0 487.7,267.5 488.5,267.5 489.0,268.2 489.7,268.6 489.8,269.4 490.6,269.6" fill="#fad8a8" stroke="#111111" stroke-width="0.9" stroke-linejoin="round"/><polygon points="455.8,223.4 456.0,224.4 455.3,224.9 455.4,225.8 455.0,226.5 453.9,226.7 453.3,225.8 452.7,226.6 451.9,227.1 451.1,227.3 450.3,227.2 449.5,227.1 448.8,227.6 447.9,227.7 447.1,227.2 446.5,227.8 445.9,228.5 445.5,227.5 445.6,226.5 444.7,226.1 443.7,226.0 442.5,226.1 442.1,227.2 441.3,226.6 440.4,226.3 439.8,225.5 440.1,224.7 440.8,224.2 441.5,223.8 440.8,223.5 440.1,223.2 439.8,222.5 439.6,221.8 440.2,221.2 440.9,220.8 441.8,221.2 442.6,220.8 443.4,220.7 444.1,220.2 445.0,220.3 445.6,219.7 446.4,219.9 447.1,220.4 448.1,220.5 448.6,219.6 449.3,219.1 450.1,219.5 451.0,219.5 451.5,220.2 452.1,219.4 453.2,219.3 453.5,220.3 454.6,220.5 454.8,221.5 455.6,221.8 455.2,222.7" fill="#fad8a8" stroke="#111111" stroke-width="0.9" stroke-linejoin="round"/><polygon points="478.7,243.2 477.6,243.0 476.9,242.0 475.7,241.9 474.9,242.8 474.0,242.3 473.3,241.4 472.2,241.8 471.2,241.2 472.1,240.5 472.5,239.4 472.0,238.4 471.9,237.3 471.9,236.3 472.7,235.6 473.6,235.0 474.6,235.3 475.6,235.4 476.4,236.1 477.3,235.4 478.4,235.6 478.4,236.7 479.1,237.5 478.2,238.3 478.6,239.4 478.3,240.5 479.0,241.3 478.3,242.2" fill="#fad8a8" stroke="#111111" stroke-width="0.9" stroke-linejoin="round"/><polygon points="429.8,222.8 428.5,222.4 427.5,223.3 427.3,224.5 426.4,225.3 426.1,224.3 425.6,223.4 424.6,223.4 423.5,223.3 422.6,223.3 421.9,223.9 420.9,224.0 420.4,224.9 419.7,224.6 419.1,224.1 418.7,223.4 417.9,223.1 417.7,222.2 417.0,221.5 416.1,221.1 415.2,221.5 415.0,220.2 416.1,219.5 417.1,218.9 417.8,218.1 418.5,217.6 419.3,217.9 419.8,217.3 419.8,216.5 421.1,216.1 422.4,216.0 422.8,216.8 423.0,217.7 424.0,217.7 424.8,218.2 425.8,218.6 426.1,219.6 426.9,219.0 427.9,219.0 428.3,220.0 428.8,220.9 429.6,221.7" fill="#fad8a8" stroke="#111111" stroke-width="0.9" stroke-linejoin="round"/><polygon points="484.8,258.9 484.1,259.4 483.4,259.9 482.5,259.9 481.8,260.4 480.4,260.3 479.1,260.0 478.2,259.8 477.5,260.4 477.2,259.6 476.4,259.2 477.1,258.2 476.5,257.2 475.5,256.9 474.8,256.1 474.3,255.2 473.3,255.0 474.0,254.2 473.9,253.2 475.2,253.2 476.4,253.9 477.5,253.2 478.7,252.9 479.3,252.1 480.4,252.1 481.4,252.3 481.8,253.2 482.4,254.1 481.8,255.0 482.7,255.2 483.4,255.9 484.1,256.6 483.8,257.5 484.6,258.0" fill="#fad8a8" stroke="#111111" stroke-width="0.9" stroke-linejoin="round"/><polygon points="486.6,263.6 485.3,264.0 484.2,263.4 483.0,263.1 481.7,263.3 480.4,263.2 479.1,263.7 478.7,263.0 478.6,262.3 478.0,261.7 477.2,261.9 477.0,261.2 476.4,260.6 475.9,260.0 475.0,260.2 474.7,259.5 474.7,258.8 474.6,258.0 475.3,257.5 474.1,257.4 472.9,257.2 472.3,256.2 471.8,255.1 471.0,255.1 470.6,254.4 470.5,253.7 470.8,253.0 471.1,251.8 471.9,250.9 472.4,249.8 473.5,249.2 474.4,250.1 475.6,250.1 476.1,250.8 476.9,250.7 477.6,251.1 478.3,251.0 479.1,251.0 479.8,251.1 480.2,251.9 481.0,251.9 481.9,252.8 483.2,252.6 484.4,253.2 484.3,254.5 484.8,255.8 486.1,256.1 486.5,257.4 485.8,258.5 486.2,259.2 486.1,260.0 486.6,260.7 487.4,260.9 486.9,261.6 487.4,262.4 487.2,263.1" fill="#fad8a8" stroke="#111111" stroke-width="0.9" stroke-linejoin="round"/><polygon points="506.4,278.4 505.1,278.4 503.9,278.0 503.9,277.2 503.8,276.5 503.1,276.1 502.4,276.1 501.8,275.3 501.7,274.3 501.0,273.8 500.1,273.5 500.1,272.5 499.1,272.0 499.7,271.1 499.2,270.2 498.4,269.1 498.4,267.8 498.5,266.5 498.2,265.2 499.0,264.1 500.3,263.7 500.4,264.4 500.8,265.1 501.5,265.5 502.4,265.5 503.0,265.8 503.7,266.2 504.1,266.9 504.0,267.7 504.6,268.6 504.5,269.7 505.5,269.6 506.5,270.1 507.1,270.8 507.1,271.8 507.1,272.8 506.5,273.6 506.6,274.4 505.9,274.8 506.4,275.3 506.7,276.0 506.0,277.2" fill="#fad8a8" stroke="#111111" stroke-width="0.9" stroke-linejoin="round"/><polygon points="480.0,272.6 479.7,273.4 479.9,274.3 479.8,275.1 479.6,275.9 478.5,276.4 477.7,277.3 476.6,276.9 475.5,276.3 474.9,275.3 473.7,275.3 472.8,274.8 471.8,274.5 472.5,273.8 473.1,273.0 472.9,272.0 472.7,271.0 473.5,270.6 474.1,270.0 475.0,270.4 475.8,269.9 476.9,269.8 477.4,270.8 478.2,270.3 479.1,269.9 478.9,270.6 479.4,271.3 479.4,272.1" fill="#fad8a8" stroke="#111111" stroke-width="0.9" stroke-linejoin="round"/><polygon points="496.7,270.6 496.2,269.5 495.0,268.9 493.8,268.6 492.6,268.7 491.6,268.4 490.5,268.3 490.6,267.1 490.0,266.1 489.0,265.9 488.4,265.1 488.0,264.1 486.9,264.0 486.8,262.8 486.6,261.6 486.1,260.4 485.3,259.5 484.6,258.8 484.5,257.9 485.1,257.2 485.0,256.2 486.1,255.5 487.1,256.2 488.1,256.8 488.3,257.9 489.1,258.5 489.5,259.4 490.5,259.6 490.8,260.6 491.7,260.9 492.4,261.6 492.4,262.5 492.2,263.4 492.7,264.1 492.7,265.0 493.6,265.0 494.1,265.8 494.8,266.2 495.3,266.9 495.2,267.7 494.9,268.5 494.9,269.3 495.2,270.0 495.9,270.4" fill="#fad8a8" stroke="#111111" stroke-width="0.9" stroke-linejoin="round"/><polygon points="430.8,233.5 429.6,233.7 428.7,234.6 427.4,234.8 426.7,235.9 425.8,236.0 425.0,235.6 424.5,236.2 424.0,236.9 423.2,236.6 422.6,236.1 421.8,235.8 421.1,236.3 420.5,235.8 420.3,235.0 419.5,235.3 418.7,235.1 417.6,234.4 416.7,233.3 417.2,232.3 418.2,231.9 418.1,230.9 417.9,229.9 418.6,230.4 419.0,231.2 419.7,230.6 420.6,230.7 421.4,230.5 422.0,230.0 422.4,229.3 422.5,228.5 423.4,228.4 424.2,228.7 425.1,228.4 425.7,227.7 426.6,227.8 427.4,228.2 427.8,229.0 428.5,229.5 429.1,230.0 429.9,229.9 430.2,230.6 431.1,230.7 431.1,231.5 430.8,232.1 431.1,232.8" fill="#fad8a8" stroke="#111111" stroke-width="0.9" stroke-linejoin="round"/><polygon points="544.5,256.2 544.0,256.9 543.1,256.7 543.0,257.5 542.9,258.2 541.5,257.9 540.3,258.5 539.4,259.2 538.3,259.1 537.7,260.0 537.0,260.8 535.9,260.5 535.2,259.9 534.2,259.4 533.3,259.1 533.2,258.4 533.0,257.6 532.3,257.4 531.7,257.2 530.5,256.5 529.2,256.8 528.8,256.2 528.1,255.8 528.3,255.1 528.3,254.3 528.4,253.5 529.0,252.8 530.0,252.7 530.3,251.8 531.1,251.4 532.0,251.3 532.7,251.7 533.4,252.3 534.4,251.7 535.4,252.3 536.3,251.9 537.3,251.7 537.3,253.0 538.5,253.5 539.7,253.6 540.8,253.4 541.1,254.7 542.1,255.5 543.3,255.9" fill="#fad8a8" stroke="#111111" stroke-width="0.9" stroke-linejoin="round"/><polygon points="428.3,250.7 427.3,250.4 426.4,249.8 425.2,249.9 424.3,249.1 423.8,248.5 424.0,247.6 423.1,248.0 422.5,247.3 421.4,246.5 420.8,245.3 420.8,244.6 420.9,243.9 421.1,243.2 421.1,242.5 420.5,242.0 420.1,241.4 419.9,240.6 420.2,239.8 421.0,239.1 421.6,238.2 422.7,238.0 423.5,237.4 423.9,238.2 424.7,238.4 425.3,238.9 426.1,239.0 427.0,239.1 427.9,239.0 428.2,239.8 428.8,240.5 429.5,241.3 429.9,242.2 429.4,243.2 429.6,244.3 429.9,245.2 430.1,246.2 430.5,247.3 431.6,247.6 431.3,248.8 430.6,249.8 429.4,250.0" fill="#fad8a8" stroke="#111111" stroke-width="0.9" stroke-linejoin="round"/><polygon points="513.1,272.9 512.3,272.0 511.1,272.1 510.3,271.3 509.4,270.7 509.6,269.7 510.0,268.7 509.1,267.9 509.0,266.8 507.8,266.9 506.7,266.7 506.0,265.8 505.6,264.7 505.3,263.5 505.7,262.4 506.1,261.2 505.9,260.0 507.0,260.0 508.1,259.9 509.2,260.1 510.2,260.6 510.4,261.7 511.3,262.4 512.5,263.2 512.5,264.6 511.3,265.2 510.8,266.4 511.1,267.6 511.7,268.6 512.8,269.3 514.0,268.9 513.3,269.8 512.5,270.6 512.9,271.7" fill="#fad8a8" stroke="#111111" stroke-width="0.9" stroke-linejoin="round"/><polygon points="477.0,246.2 476.1,245.5 475.0,246.1 474.1,246.6 473.7,247.6 473.7,246.5 472.8,246.0 471.9,245.7 471.0,245.4 470.1,245.5 469.3,245.4 468.4,245.6 467.6,245.8 466.8,245.3 465.8,245.0 465.3,244.1 464.8,243.3 463.9,243.2 463.3,242.4 463.3,241.5 463.4,240.5 464.4,240.2 465.4,240.6 465.4,241.7 466.2,242.5 466.3,241.5 467.3,241.1 468.2,241.2 469.0,240.6 469.4,241.3 470.1,241.6 470.3,242.3 470.9,242.9 471.5,243.2 472.3,243.4 473.0,243.1 473.8,243.3 474.9,243.7 476.0,244.1 476.1,244.8 475.8,245.5 476.2,246.1" fill="#fad8a8" stroke="#111111" stroke-width="0.9" stroke-linejoin="round"/><polygon points="472.4,274.1 471.8,273.6 471.1,273.6 470.3,273.6 469.9,272.9 468.5,273.1 467.1,273.2 465.9,273.6 465.2,274.6 464.2,274.0 463.2,273.3 463.3,272.2 462.5,271.4 462.3,270.3 461.3,269.9 460.4,269.7 460.0,268.9 459.2,268.8 458.4,268.6 458.5,267.8 458.1,267.0 457.9,266.3 457.9,265.5 458.5,264.5 457.8,263.6 458.4,262.7 457.9,261.8 458.9,262.4 459.2,263.5 460.3,263.8 461.3,263.1 462.5,263.7 462.5,265.0 463.6,264.9 464.7,264.7 465.4,265.6 465.6,266.7 465.9,267.8 466.6,268.7 467.8,268.7 468.8,269.4 469.9,268.9 471.0,269.6 471.1,270.3 471.6,270.9 471.0,271.4 470.7,272.1 471.3,273.3" fill="#fad8a8" stroke="#111111" stroke-width="0.9" stroke-linejoin="round"/><polygon points="431.1,230.4 430.0,229.7 429.3,228.6 429.7,227.5 428.8,226.8 428.2,226.1 427.7,225.3 427.9,224.3 428.3,223.3 428.4,222.2 427.9,221.3 428.7,222.3 430.0,222.2 430.6,222.8 430.6,223.6 431.2,224.1 431.9,224.3 432.3,225.5 433.2,226.2 432.8,227.3 432.2,228.3 431.9,229.5" fill="#fad8a8" stroke="#111111" stroke-width="0.9" stroke-linejoin="round"/><polygon points="542.2,256.0 541.9,257.0 540.9,257.4 540.0,258.0 539.2,258.4 538.4,259.0 537.4,258.8 536.4,258.6 536.0,257.6 535.4,257.1 534.5,256.7 533.5,256.4 532.8,257.3 532.1,256.9 531.3,257.3 530.4,257.3 529.9,256.5 529.3,255.9 529.5,255.1 528.8,254.5 529.1,253.6 529.6,252.8 530.5,252.4 530.6,251.4 530.2,250.5 531.1,250.4 531.6,251.2 532.4,251.2 533.2,251.1 533.8,250.6 534.3,250.0 535.2,249.6 535.1,248.6 536.3,248.2 537.5,247.9 538.7,248.0 539.9,248.2 540.5,249.4 540.8,250.7 542.0,251.1 543.3,251.6 543.5,252.4 544.3,252.6 543.9,253.3 544.1,254.1 543.4,254.8 542.5,254.4 542.2,255.2" fill="#fad8a8" stroke="#111111" stroke-width="0.9" stroke-linejoin="round"/><polygon points="481.9,278.7 482.1,279.7 481.4,280.4 480.8,281.2 479.8,281.0 478.6,280.9 478.0,279.8 476.8,280.3 475.9,279.3 475.2,278.5 474.0,278.4 473.1,277.9 472.3,277.2 472.7,276.5 472.8,275.8 472.8,275.1 472.5,274.5 472.3,273.8 471.8,273.2 471.1,272.9 470.4,272.7 471.2,271.9 472.2,271.2 473.3,271.5 474.4,271.0 475.4,271.7 476.4,272.0 477.4,271.4 478.2,272.1 479.1,272.6 479.1,273.6 480.1,273.5 480.9,273.9 481.0,274.8 481.4,275.7 481.9,276.5 481.4,277.3 482.0,277.9" fill="#fad8a8" stroke="#111111" stroke-width="0.9" stroke-linejoin="round"/><polygon points="367.6,190.2 366.4,189.8 365.2,189.3 364.1,190.1 363.2,191.0 362.3,190.2 361.5,189.2 360.6,189.4 360.5,190.2 359.8,189.9 359.0,189.9 359.8,188.7 359.2,187.5 357.8,187.2 357.3,185.9 356.9,184.9 357.6,184.1 358.1,183.3 359.1,183.3 358.8,182.3 359.2,181.4 358.1,181.5 357.6,180.5 358.5,179.7 359.5,179.6 360.4,178.7 359.9,177.6 360.4,178.2 361.2,178.4 362.0,178.3 362.8,178.3 363.2,179.0 364.0,179.2 364.5,179.8 365.0,180.3 365.7,180.8 365.9,181.6 366.6,182.2 366.3,183.1 365.9,184.0 366.3,184.9 367.3,184.8 367.9,185.7 368.5,186.7 368.3,188.0 367.7,189.0" fill="#fad8a8" stroke="#111111" stroke-width="0.9" stroke-linejoin="round"/><polygon points="405.7,218.2 404.3,218.0 403.1,217.2 402.3,216.4 402.5,215.3 401.4,215.3 400.7,214.3 401.2,213.5 400.9,212.6 401.0,211.8 400.9,211.0 401.5,210.5 402.2,210.1 402.4,209.4 402.7,208.7 403.4,209.6 404.5,210.1 405.5,211.0 405.3,212.4 406.1,212.4 406.5,213.1 407.1,213.7 407.9,213.5 408.7,214.0 408.6,215.0 408.0,215.5 407.8,216.4 406.9,216.4 406.6,217.2 406.1,217.7" fill="#fad8a8" stroke="#111111" stroke-width="0.9" stroke-linejoin="round"/><polygon points="375.7,207.3 374.6,208.1 373.3,207.6 372.9,206.3 372.0,205.3 371.3,204.8 370.8,204.2 369.8,204.0 369.3,204.8 369.1,203.6 368.6,202.5 369.2,201.3 368.7,200.0 368.1,199.0 366.9,198.8 366.4,197.8 365.4,197.3 365.2,196.2 365.1,195.1 364.8,194.1 364.5,193.0 365.2,192.8 365.9,192.9 366.5,193.4 367.2,193.5 368.1,193.8 368.9,194.3 369.8,194.6 370.7,194.4 371.4,195.3 372.1,196.0 371.3,196.8 371.4,198.0 372.4,198.5 373.4,198.0 374.1,198.8 374.4,199.8 374.9,200.6 374.5,201.5 374.9,202.4 374.5,203.3 374.2,204.4 374.9,205.4 375.7,206.2" fill="#fad8a8" stroke="#111111" stroke-width="0.9" stroke-linejoin="round"/><polygon points="373.6,179.9 373.2,180.8 372.2,180.8 372.1,181.8 371.2,182.1 370.3,182.7 369.5,182.0 368.5,182.3 367.8,181.5 367.4,180.5 366.3,180.3 365.4,180.8 364.4,180.7 363.4,180.8 362.5,181.0 361.8,180.5 361.0,179.8 360.2,179.3 359.5,178.7 359.0,177.8 359.3,176.9 359.3,175.9 359.5,175.0 360.6,174.9 361.1,174.0 362.0,173.5 362.8,174.1 363.1,175.0 363.9,175.3 364.8,175.0 365.2,174.1 366.2,173.9 366.9,174.6 368.2,174.9 369.4,175.5 370.2,176.0 371.0,175.6 371.3,176.3 371.6,177.0 371.6,178.0 372.3,178.6 372.7,179.5" fill="#fad8a8" stroke="#111111" stroke-width="0.9" stroke-linejoin="round"/><polygon points="517.7,271.3 516.6,270.5 515.3,270.3 515.2,269.4 514.3,269.0 514.5,268.1 513.9,267.4 513.7,266.3 512.8,265.9 512.9,265.0 513.2,264.1 512.7,263.2 512.1,262.2 512.6,261.2 512.8,260.1 512.9,259.4 512.7,258.6 513.3,258.2 513.8,257.6 514.2,258.3 514.8,258.9 515.6,259.2 516.3,259.6 516.0,260.5 515.6,261.3 515.8,262.3 516.6,262.8 516.9,263.6 516.4,264.2 516.3,264.9 516.1,265.6 516.7,266.4 516.2,267.2 517.0,267.6 517.8,267.8 518.5,268.5 518.4,269.5 517.6,270.2" fill="#fad8a8" stroke="#111111" stroke-width="0.9" stroke-linejoin="round"/><polygon points="427.4,236.8 426.6,236.8 426.0,237.5 425.2,237.3 424.5,237.6 423.7,238.3 422.7,238.5 422.3,237.4 421.1,237.3 420.2,236.7 420.2,235.7 419.5,234.9 419.5,233.9 420.1,232.8 419.6,231.8 420.8,231.8 421.4,230.8 422.5,230.6 423.1,231.5 424.1,232.0 425.0,231.5 426.1,231.7 427.1,231.6 428.3,232.3 428.0,233.5 427.5,234.3 427.7,235.2 427.5,236.0" fill="#fad8a8" stroke="#111111" stroke-width="0.9" stroke-linejoin="round"/><polygon points="453.3,233.4 452.7,233.0 452.0,232.7 451.9,231.9 451.3,231.4 451.3,230.1 451.0,228.9 450.6,227.6 449.7,226.6 450.3,225.5 450.4,224.3 449.7,223.3 449.3,222.1 450.0,221.0 450.6,219.9 451.2,220.4 451.5,221.2 451.3,222.0 451.8,222.8 451.1,223.6 451.3,224.6 451.7,225.5 452.7,225.8 453.3,226.5 454.2,226.4 454.4,227.2 454.9,227.8 454.6,228.8 455.3,229.6 454.9,230.6 453.8,230.5 453.6,231.3 453.3,231.9 452.9,232.7" fill="#fad8a8" stroke="#111111" stroke-width="0.9" stroke-linejoin="round"/><polygon points="366.1,183.7 365.4,184.2 365.3,185.1 364.7,185.8 363.8,185.6 363.8,184.7 363.6,183.7 362.5,184.1 361.7,183.2 360.9,183.6 360.4,184.4 359.5,184.0 358.6,184.0 357.9,183.8 357.3,183.3 356.7,182.7 356.8,181.8 356.1,181.6 355.4,181.5 354.8,181.1 354.0,181.1 354.1,180.0 355.2,179.5 354.9,178.5 354.4,177.6 355.0,178.2 355.8,178.4 356.5,177.8 357.5,178.1 358.3,178.5 359.1,177.9 360.0,177.9 360.5,178.7 361.2,179.1 362.1,179.0 362.1,179.9 363.0,180.3 363.8,180.6 364.4,181.1 365.1,180.7 365.9,180.6 365.5,181.3 365.5,182.1 365.8,182.9" fill="#fad8a8" stroke="#111111" stroke-width="0.9" stroke-linejoin="round"/><polygon points="402.5,212.5 401.9,211.9 401.5,211.1 400.7,210.9 399.8,211.2 399.3,211.8 398.5,211.8 397.7,212.1 397.0,211.9 396.1,211.8 395.1,211.5 394.7,210.7 394.2,209.9 393.4,209.3 392.7,208.6 393.1,207.7 392.8,206.7 393.7,206.3 393.7,205.3 394.5,204.8 395.3,205.2 394.8,204.5 394.3,203.8 394.5,203.0 395.0,202.3 396.1,201.8 396.2,200.7 396.6,199.6 397.7,199.2 398.2,199.9 399.0,199.6 399.7,199.8 400.4,200.0 401.1,200.0 401.9,200.0 402.8,200.2 403.0,201.1 402.2,201.9 402.6,203.0 402.7,204.0 403.6,204.5 404.2,205.3 404.9,205.8 405.3,206.7 405.2,207.7 404.9,208.3 404.9,209.1 404.6,209.8 404.1,210.2 403.2,210.4 403.1,211.3 402.8,211.9" fill="#fad8a8" stroke="#111111" stroke-width="0.9" stroke-linejoin="round"/><polygon points="405.1,219.2 403.9,219.8 402.5,220.1 401.4,219.8 400.8,218.7 400.9,217.7 400.9,216.6 400.2,215.6 399.0,215.6 398.2,216.4 397.1,216.5 396.0,216.0 395.1,215.1 395.5,213.9 395.6,212.7 396.6,212.0 396.6,210.8 397.7,211.6 398.8,212.4 399.5,212.9 400.4,212.5 400.7,211.8 401.1,211.0 402.0,212.0 402.6,213.1 404.0,213.1 405.2,212.5 405.8,213.5 405.4,214.7 406.0,215.6 406.4,216.7 405.8,217.1 405.3,217.7 405.0,218.4" fill="#fad8a8" stroke="#111111" stroke-width="0.9" stroke-linejoin="round"/><polygon points="506.6,265.9 505.9,266.7 506.2,267.8 505.1,267.5 504.5,268.5 503.9,269.3 503.0,269.5 501.9,269.6 501.5,270.5 500.5,270.5 499.8,269.7 499.4,268.8 498.4,268.5 497.6,267.7 497.4,266.5 496.3,267.1 495.1,266.6 494.7,267.7 493.6,268.2 492.4,268.6 491.5,267.7 492.5,267.4 493.4,266.8 493.1,265.8 493.4,264.7 494.0,265.4 494.9,265.2 495.7,264.9 496.3,265.5 497.0,265.0 497.0,264.1 497.7,263.9 498.4,263.4 499.4,263.6 500.4,263.7 501.6,264.0 501.9,265.2 502.4,264.1 502.9,263.1 504.1,263.4 505.2,263.0 505.8,263.8 506.6,264.1 506.4,265.0" fill="#fad8a8" stroke="#111111" stroke-width="0.9" stroke-linejoin="round"/><polygon points="452.1,258.2 451.9,259.1 451.2,259.4 451.1,260.2 451.4,260.9 450.2,260.0 448.9,260.4 448.5,259.8 447.9,259.4 447.2,259.4 446.5,259.6 446.6,258.9 446.0,258.3 445.3,258.7 444.6,258.3 443.5,257.8 442.3,257.7 443.1,257.4 443.3,256.6 443.8,256.0 444.2,255.5 445.3,254.9 445.3,253.8 446.3,253.6 447.3,253.6 448.1,254.1 448.0,255.1 448.8,255.3 449.5,255.8 450.3,255.9 451.1,256.0 452.0,256.2 452.5,255.5 452.5,256.4 453.2,257.0 452.4,257.4" fill="#fad8a8" stroke="#111111" stroke-width="0.9" stroke-linejoin="round"/><polygon points="482.9,267.8 482.5,268.6 482.2,269.5 481.5,270.1 480.9,270.8 480.0,270.4 479.2,270.9 478.5,270.3 478.2,269.4 477.4,269.6 476.7,270.1 476.0,269.8 475.2,269.8 474.7,269.1 474.2,268.4 473.3,268.2 472.9,267.4 471.9,267.8 471.1,267.1 470.0,267.1 469.6,268.1 470.0,267.0 471.1,266.5 470.1,265.8 470.2,264.5 471.0,264.7 471.8,264.7 472.6,265.1 473.2,265.7 473.6,264.8 474.5,264.8 475.1,264.2 475.8,263.7 475.9,264.5 476.6,264.9 477.3,264.4 478.1,264.9 479.4,264.7 480.7,265.0 481.4,265.7 482.5,265.9 483.3,266.7" fill="#fad8a8" stroke="#111111" stroke-width="0.9" stroke-linejoin="round"/><polygon points="413.0,240.4 412.6,241.5 411.4,241.9 410.3,241.6 409.2,241.5 408.2,241.4 407.6,240.7 406.6,240.5 405.9,241.1 405.2,240.6 404.6,240.0 404.0,239.5 403.6,238.8 403.5,238.0 402.9,237.4 402.4,236.8 401.5,236.9 401.8,235.6 402.4,234.3 402.3,233.3 403.1,232.7 403.8,231.9 403.4,230.9 404.2,230.8 405.0,230.9 405.9,231.4 405.8,232.4 406.6,232.1 407.3,232.5 408.1,232.6 408.7,232.1 409.5,232.6 410.4,232.3 411.2,232.6 411.9,233.2 412.7,233.8 412.6,234.7 412.9,235.6 413.2,236.4 412.2,237.2 412.6,238.3 412.3,239.5" fill="#fad8a8" stroke="#111111" stroke-width="0.9" stroke-linejoin="round"/><polygon points="427.3,242.2 426.4,243.0 426.0,244.1 425.0,243.2 423.8,243.6 423.0,243.7 422.5,243.0 421.9,243.4 421.5,244.0 421.2,242.7 420.0,242.2 419.5,241.4 419.5,240.5 418.7,240.2 418.2,239.4 417.3,238.7 417.3,237.6 417.3,236.6 417.9,235.7 418.4,235.1 419.2,235.0 419.8,234.5 420.2,233.9 420.9,234.0 421.5,234.5 422.2,234.8 422.7,235.4 423.9,236.0 425.1,236.2 424.7,236.9 425.1,237.6 426.0,237.8 426.2,238.6 425.6,239.5 425.7,240.7 426.2,241.7" fill="#fad8a8" stroke="#111111" stroke-width="0.9" stroke-linejoin="round"/><polygon points="478.1,267.8 477.3,267.9 476.6,268.4 476.2,269.1 476.1,270.0 475.3,269.9 474.5,269.9 474.0,269.1 473.1,269.2 471.9,268.8 471.0,269.8 469.7,270.2 468.8,269.2 468.2,268.4 467.7,267.4 466.9,266.7 466.4,265.7 465.9,265.0 465.7,264.1 465.2,263.4 464.5,262.9 464.3,261.9 463.8,261.1 462.8,261.0 461.8,260.8 462.2,259.9 462.9,259.0 463.9,258.8 464.8,258.3 466.2,258.6 467.5,259.0 468.1,259.6 468.9,259.5 469.6,259.4 470.3,259.2 470.6,259.9 471.2,260.3 471.6,261.0 472.2,261.5 472.8,261.9 473.4,262.3 474.1,262.6 474.8,262.8 475.0,263.6 475.3,264.3 476.0,264.6 476.6,265.2 476.6,266.0 477.0,266.7 477.6,267.2" fill="#fad8a8" stroke="#111111" stroke-width="0.9" stroke-linejoin="round"/><polygon points="434.7,245.6 434.8,246.9 433.7,247.7 432.7,247.8 431.8,247.8 430.9,248.5 430.8,249.5 430.8,248.4 429.8,247.9 428.9,248.5 427.8,248.1 427.0,247.3 426.1,246.5 425.7,247.2 424.8,247.1 424.1,246.9 423.7,246.2 424.1,245.2 424.5,244.1 425.5,244.2 426.6,244.1 427.6,243.8 428.5,243.3 428.6,244.3 429.4,244.8 430.4,244.5 431.2,245.0 432.0,244.8 432.8,244.5 433.6,244.1 434.0,243.3 435.0,244.2" fill="#fad8a8" stroke="#111111" stroke-width="0.9" stroke-linejoin="round"/><polygon points="491.3,272.6 490.5,273.1 489.6,273.2 488.7,273.7 487.8,273.9 486.8,273.5 486.2,272.5 486.6,271.4 485.9,270.4 484.7,270.0 483.9,271.0 482.9,270.4 481.9,270.2 481.3,269.5 480.5,269.7 479.9,269.2 479.2,269.0 478.3,268.7 478.1,267.8 478.1,267.0 478.0,266.2 478.8,265.8 478.7,264.9 479.3,264.4 480.1,264.4 480.8,264.7 481.5,264.4 481.9,265.0 482.4,265.5 482.5,264.6 483.4,264.3 484.2,264.1 484.8,264.6 485.5,265.2 486.4,265.0 487.3,265.0 487.7,265.8 487.7,266.7 487.3,267.5 487.7,268.5 488.6,268.8 488.4,270.1 489.3,271.2 490.0,270.8 490.8,271.2 491.3,271.8" fill="#fad8a8" stroke="#111111" stroke-width="0.9" stroke-linejoin="round"/><polygon points="418.8,237.0 418.5,237.8 417.8,238.3 417.3,239.1 416.4,239.1 415.3,239.0 414.8,238.0 413.8,238.0 412.9,238.5 413.0,237.4 411.9,237.0 411.0,236.7 410.1,237.0 410.1,235.8 410.8,234.7 411.3,234.0 412.2,234.1 412.7,233.5 413.5,233.4 414.1,234.1 414.7,234.7 415.6,234.7 416.5,234.7 417.1,235.5 417.1,236.4 417.9,236.8" fill="#fad8a8" stroke="#111111" stroke-width="0.9" stroke-linejoin="round"/><polygon points="424.0,243.3 423.1,243.2 422.4,243.7 422.5,244.7 421.7,245.2 422.1,244.3 421.6,243.5 420.8,243.1 420.0,242.8 419.4,242.2 418.6,242.4 417.8,242.3 417.1,242.5 417.0,241.3 416.8,240.1 416.2,239.6 415.4,239.5 415.7,238.8 415.4,238.0 415.9,237.3 416.5,236.7 417.3,236.3 417.6,235.4 418.4,235.6 419.0,236.1 419.0,236.8 419.1,237.6 419.7,236.9 420.5,237.1 420.9,237.8 421.7,238.0 421.9,239.2 423.0,239.8 423.9,240.4 425.0,240.7 425.2,241.4 424.9,242.1 424.6,242.8" fill="#fad8a8" stroke="#111111" stroke-width="0.9" stroke-linejoin="round"/><polygon points="458.3,262.8 457.2,262.7 456.9,261.7 456.1,262.1 455.3,262.5 454.9,261.8 454.6,261.1 454.9,260.5 455.5,260.0 454.5,259.3 453.4,258.8 452.5,258.2 451.5,257.9 450.4,258.3 449.4,257.6 449.8,256.4 449.1,255.3 448.7,254.1 447.7,253.4 447.6,252.2 448.1,251.1 448.8,251.6 448.9,252.5 449.8,252.5 450.4,253.1 451.2,252.6 452.2,252.9 452.6,253.7 453.1,254.5 453.4,255.4 453.4,256.3 454.4,256.5 454.9,257.4 455.5,258.1 456.1,258.7 457.0,258.8 457.6,259.6 458.3,260.3 457.9,261.2 457.6,262.1" fill="#fad8a8" stroke="#111111" stroke-width="0.9" stroke-linejoin="round"/><polygon points="417.5,239.0 416.5,239.1 415.7,238.5 414.9,238.9 414.2,239.5 413.3,239.1 413.0,238.1 412.7,237.2 412.6,236.3 412.0,235.5 412.4,234.5 411.7,233.8 411.6,232.9 412.2,232.3 412.9,231.9 413.7,231.8 414.5,231.5 414.9,232.4 415.9,232.7 416.8,233.3 417.7,232.8 418.6,233.4 418.5,234.4 418.8,235.3 418.8,236.2 417.8,236.3 417.5,237.3 417.7,238.2" fill="#fad8a8" stroke="#111111" stroke-width="0.9" stroke-linejoin="round"/><polygon points="487.8,268.0 487.1,267.3 486.1,267.6 485.2,267.9 485.1,268.9 484.3,268.7 483.6,268.4 483.0,268.9 482.2,269.0 481.4,268.7 480.5,268.7 479.7,268.2 479.8,267.2 479.4,266.2 478.4,266.0 479.0,265.1 478.6,264.1 478.4,263.0 478.5,261.9 479.8,261.8 480.8,261.1 481.8,261.7 482.6,262.6 483.6,262.4 484.3,263.2 484.6,264.1 484.3,265.0 485.0,265.5 485.8,265.0 486.6,264.7 487.2,265.3 487.5,266.0 487.3,266.7 487.6,267.3" fill="#fad8a8" stroke="#111111" stroke-width="0.9" stroke-linejoin="round"/><polygon points="494.5,273.8 493.4,273.2 492.4,272.5 491.2,272.6 490.1,273.2 489.4,272.8 488.5,272.8 488.1,272.1 487.3,271.8 486.5,271.3 486.6,270.3 486.5,269.4 485.7,269.0 485.2,268.0 485.2,266.9 485.7,265.9 485.3,264.8 485.3,263.6 484.8,262.6 485.8,262.1 486.5,261.2 487.4,261.4 487.5,262.3 488.3,262.5 488.6,263.3 489.4,263.1 490.3,263.2 490.6,264.1 491.2,264.7 492.0,265.2 492.9,264.9 493.4,265.6 493.8,266.4 493.6,267.2 493.8,267.9 493.9,268.8 494.6,269.3 493.8,270.3 493.9,271.5 494.9,272.5" fill="#fad8a8" stroke="#111111" stroke-width="0.9" stroke-linejoin="round"/><polygon points="438.0,249.2 437.0,249.6 436.0,249.6 435.7,249.0 435.6,248.2 435.2,247.6 434.5,247.2 433.6,247.3 433.1,246.5 432.5,247.0 431.8,247.4 430.8,246.7 430.4,245.6 430.3,244.5 429.7,243.5 430.8,243.2 431.6,242.4 432.5,242.9 433.5,243.2 434.4,243.6 435.1,244.3 436.2,245.1 437.3,245.9 438.4,246.6 439.4,247.5 438.5,248.2" fill="#fad8a8" stroke="#111111" stroke-width="0.9" stroke-linejoin="round"/><polygon points="438.3,253.8 437.5,252.8 436.2,252.5 435.0,252.8 433.9,253.4 433.1,253.3 432.5,252.9 431.7,252.5 431.0,252.9 430.7,252.1 430.2,251.5 429.8,250.7 428.9,250.7 428.7,250.0 428.2,249.4 427.7,248.9 427.7,248.1 426.9,248.4 426.2,247.9 425.7,247.4 425.1,247.0 425.4,245.6 426.7,245.2 427.4,245.6 428.1,245.1 428.7,244.6 429.4,244.6 430.2,244.7 431.0,245.0 431.6,245.7 431.4,246.6 431.2,247.8 431.7,248.9 433.0,249.0 433.7,250.2 434.7,250.8 435.8,251.3 436.8,250.6 437.9,250.2 438.7,250.9 438.6,251.9 437.9,252.8" fill="#fad8a8" stroke="#111111" stroke-width="0.9" stroke-linejoin="round"/><polygon points="498.1,264.4 497.5,265.1 496.6,265.3 496.7,266.1 496.6,267.0 495.7,267.4 494.8,267.9 493.6,268.0 493.0,267.0 491.9,266.3 491.0,265.4 491.3,264.7 491.3,263.9 490.4,263.9 490.1,263.1 490.9,263.3 491.8,263.2 492.2,262.3 493.1,262.1 493.8,261.9 494.6,262.0 495.3,262.6 496.1,262.3 496.3,263.2 497.1,263.3 497.5,264.0" fill="#fad8a8" stroke="#111111" stroke-width="0.9" stroke-linejoin="round"/><polygon points="485.9,271.0 484.5,271.2 483.7,272.3 482.4,272.6 481.1,272.1 480.1,271.2 478.7,271.3 477.3,271.4 476.0,271.0 475.3,270.9 474.5,270.8 474.0,270.3 473.8,269.5 474.1,268.5 474.1,267.4 475.5,267.6 476.7,268.3 477.3,267.8 477.6,267.2 478.4,267.6 479.1,267.1 479.6,268.0 479.7,269.0 480.6,269.4 481.6,269.5 482.5,269.5 483.4,269.6 484.0,268.7 485.1,268.9 486.0,269.7" fill="#fad8a8" stroke="#111111" stroke-width="0.9" stroke-linejoin="round"/><polygon points="478.3,271.4 477.6,271.4 476.9,271.6 476.1,271.3 475.9,270.5 474.9,269.9 474.6,268.8 474.0,267.9 473.7,267.0 472.4,266.6 472.1,265.3 472.9,264.3 472.7,263.1 473.8,263.1 474.9,263.1 475.3,263.7 475.7,264.5 476.6,264.4 477.1,265.2 477.5,266.3 478.5,266.7 478.0,267.7 478.6,268.6 478.4,269.4 478.9,270.1 478.4,270.6" fill="#fad8a8" stroke="#111111" stroke-width="0.9" stroke-linejoin="round"/><polygon points="471.2,266.5 470.4,266.6 469.7,266.5 469.7,265.6 469.0,265.2 468.3,264.3 467.2,263.9 466.9,262.8 467.1,261.7 468.2,261.2 468.1,259.9 468.3,258.6 467.2,258.0 468.2,258.0 469.2,257.7 469.1,258.7 469.7,259.5 470.3,260.2 471.0,260.7 472.2,261.2 472.8,262.3 472.7,263.4 472.6,264.6 472.3,265.8" fill="#fad8a8" stroke="#111111" stroke-width="0.9" stroke-linejoin="round"/><polygon points="485.8,280.6 485.5,279.4 484.5,278.7 483.2,279.2 482.2,278.3 481.8,277.3 480.9,276.8 480.0,277.5 479.0,277.0 479.1,276.1 479.0,275.2 478.8,274.4 478.3,273.6 477.7,273.1 477.5,272.3 477.2,271.6 476.9,270.9 476.7,270.0 476.0,269.5 476.5,268.8 476.7,267.9 477.5,267.7 478.2,267.2 478.7,268.0 479.6,268.3 480.0,267.5 480.9,267.5 481.8,267.5 482.1,268.3 481.7,269.0 482.0,269.8 482.6,270.3 483.2,270.6 484.3,270.6 484.9,271.5 484.5,272.6 485.3,273.5 485.5,274.4 486.2,275.1 485.9,276.0 486.2,276.9 485.7,277.7 485.4,278.7 485.5,279.7" fill="#fad8a8" stroke="#111111" stroke-width="0.9" stroke-linejoin="round"/><polygon points="464.8,273.1 464.3,272.5 463.8,271.8 463.0,272.0 462.2,272.1 462.0,271.2 462.3,270.3 463.1,269.7 462.9,268.7 461.9,268.3 460.9,268.2 460.9,267.2 460.5,266.2 459.6,265.8 458.7,265.3 458.3,264.4 458.7,263.4 458.2,262.6 458.4,261.7 458.9,261.0 459.1,260.1 460.0,260.3 460.6,259.6 461.1,260.2 461.7,260.7 461.8,262.0 463.0,262.6 463.4,263.9 464.6,264.4 465.0,265.1 465.6,265.8 465.5,266.7 465.0,267.5 464.7,268.3 464.8,269.2 465.8,269.5 466.1,270.5 465.9,271.2 465.3,271.7 464.6,272.3" fill="#fad8a8" stroke="#111111" stroke-width="0.9" stroke-linejoin="round"/><polygon points="528.5,280.0 527.7,280.1 527.1,280.4 525.9,280.8 524.7,280.2 524.0,279.9 523.5,279.2 523.6,278.5 524.2,277.8 525.1,278.0 526.5,278.1 527.6,278.9 527.9,279.6" fill="#fad8a8" stroke="#111111" stroke-width="0.9" stroke-linejoin="round"/><polygon points="525.2,288.6 523.9,288.2 523.6,286.9 522.5,286.2 521.7,285.1 521.8,283.8 523.0,284.0 523.5,284.8 524.5,285.0 525.5,285.8 525.3,287.1 525.5,287.9" fill="#fad8a8" stroke="#111111" stroke-width="0.9" stroke-linejoin="round"/><polygon points="527.5,286.2 526.8,286.5 526.1,286.2 525.4,285.2 524.1,285.1 523.9,283.9 522.8,283.5 523.8,283.1 524.4,283.7 525.3,283.5 526.4,283.6 526.8,284.8 527.5,285.3" fill="#fad8a8" stroke="#111111" stroke-width="0.9" stroke-linejoin="round"/><polygon points="532.7,274.3 532.2,275.2 531.1,274.9 530.2,275.5 529.3,275.5 528.9,274.7 528.9,273.9 529.5,273.3 530.3,273.3 531.2,272.9 532.0,273.5" fill="#fad8a8" stroke="#111111" stroke-width="0.9" stroke-linejoin="round"/><polygon points="531.3,284.5 529.9,284.2 530.1,282.8 528.8,282.1 528.3,281.3 528.3,280.3 529.0,279.4 530.0,280.0 530.6,281.0 531.6,281.9 531.8,283.2" fill="#fad8a8" stroke="#111111" stroke-width="0.9" stroke-linejoin="round"/><polygon points="514.8,281.2 513.9,281.4 512.9,281.3 512.0,280.8 511.2,280.0 511.7,279.2 511.5,278.2 512.4,277.7 512.6,276.7 513.6,277.1 514.5,277.5 514.5,278.5 515.0,279.3 515.1,280.2" fill="#fad8a8" stroke="#111111" stroke-width="0.9" stroke-linejoin="round"/><polygon points="355.5,151.7 355.4,152.4 355.5,153.1 355.5,153.9 354.8,154.3 354.0,154.7 353.1,155.0 352.6,154.2 351.6,154.0 350.9,154.3 350.1,154.2 349.5,153.8 349.0,153.2 349.0,152.3 349.7,151.9 349.6,151.0 348.8,150.7 349.6,150.3 349.9,149.4 350.7,149.4 351.5,149.8 352.7,149.5 354.0,149.7 354.9,150.6" fill="#fad8a8" stroke="#111111" stroke-width="0.9" stroke-linejoin="round"/><polygon points="365.0,155.3 364.7,156.2 363.8,156.3 362.5,156.4 361.3,156.8 360.3,156.1 359.1,155.7 358.5,155.0 357.8,154.4 357.1,153.7 356.1,153.5 356.6,152.7 356.2,151.8 357.2,152.2 358.3,152.4 359.4,152.7 360.4,152.3 361.0,152.8 361.6,153.1 362.3,153.6 362.2,154.5 363.0,154.5 363.5,154.0 364.3,153.9 364.9,153.6 364.7,154.5" fill="#fad8a8" stroke="#111111" stroke-width="0.9" stroke-linejoin="round"/><polygon points="342.2,151.5 341.4,152.2 340.2,152.4 339.2,152.6 338.4,152.0 337.5,151.6 336.8,150.8 336.8,149.9 336.0,149.4 335.2,149.0 334.8,148.2 334.9,147.3 335.7,147.0 334.9,146.6 334.9,145.7 336.2,145.3 337.4,145.1 338.1,145.4 338.7,145.8 338.8,146.5 339.0,147.1 339.8,148.1 341.0,148.4 342.0,149.0 343.2,149.3 343.2,150.6" fill="#fad8a8" stroke="#111111" stroke-width="0.9" stroke-linejoin="round"/><polygon points="371.5,142.5 371.0,143.5 370.7,144.6 369.3,144.6 368.8,143.4 367.8,143.8 366.8,144.4 366.1,144.0 365.3,143.9 364.5,143.3 363.7,143.7 364.1,142.8 364.5,141.9 365.3,140.8 366.5,140.3 367.6,140.2 368.6,140.6 369.6,140.7 370.6,140.4 371.5,141.3" fill="#fad8a8" stroke="#111111" stroke-width="0.9" stroke-linejoin="round"/><polygon points="345.1,141.2 344.2,141.9 344.6,143.0 343.7,142.9 343.2,143.5 342.5,144.0 341.7,144.0 341.0,143.5 341.1,142.7 340.3,142.9 339.7,142.3 340.1,141.3 339.7,140.4 339.8,139.7 340.3,139.1 340.9,138.7 341.7,138.9 342.3,138.2 343.1,138.6 343.9,139.0 344.1,139.8 344.7,140.4" fill="#fad8a8" stroke="#111111" stroke-width="0.9" stroke-linejoin="round"/><polygon points="361.4,146.1 360.6,146.6 360.7,147.5 360.3,148.2 359.6,148.5 358.5,148.8 357.5,148.3 356.5,148.6 355.5,148.3 354.7,148.0 354.2,147.3 353.5,146.7 352.6,147.0 352.2,146.3 351.5,145.8 350.8,145.2 351.1,144.3 352.4,144.3 353.1,143.2 354.2,142.9 355.2,142.4 356.3,142.4 357.1,143.1 357.8,144.0 358.9,144.2 358.9,145.2 359.7,145.8 360.4,146.5" fill="#fad8a8" stroke="#111111" stroke-width="0.9" stroke-linejoin="round"/><polygon points="364.6,168.6 363.4,169.3 363.6,170.7 362.7,170.5 361.9,171.1 361.1,171.3 360.2,171.0 359.6,170.4 359.1,169.7 358.2,169.2 357.3,169.7 357.9,168.7 358.5,167.7 359.5,167.2 360.4,166.4 361.2,166.6 362.1,166.3 363.0,166.2 363.9,166.4 364.6,167.3" fill="#fad8a8" stroke="#111111" stroke-width="0.9" stroke-linejoin="round"/><polygon points="359.0,156.3 358.2,157.4 357.0,158.1 356.2,157.2 356.3,156.1 355.3,155.4 354.2,155.4 353.5,154.7 353.9,153.9 353.4,153.3 353.1,152.5 353.7,151.3 355.0,151.1 355.9,151.3 356.5,150.6 357.1,151.1 357.9,151.4 358.1,152.3 358.3,153.2 359.2,153.5 359.8,154.2 359.8,155.4" fill="#fad8a8" stroke="#111111" stroke-width="0.9" stroke-linejoin="round"/><polygon points="367.6,159.5 366.6,158.8 365.4,158.4 364.4,158.0 363.6,157.1 363.3,156.0 362.2,155.5 362.6,154.7 362.6,153.8 361.9,153.1 361.8,152.2 362.2,151.4 363.1,151.4 364.1,151.6 365.1,151.3 365.2,152.3 365.9,153.1 366.6,154.1 366.6,155.2 366.8,156.4 367.7,157.1 367.2,158.3" fill="#fad8a8" stroke="#111111" stroke-width="0.9" stroke-linejoin="round"/><polygon points="366.5,146.1 365.8,147.0 364.7,147.3 363.6,147.3 362.6,147.2 361.7,148.1 360.6,148.8 360.1,148.2 359.6,147.7 358.9,148.0 358.2,148.2 356.9,148.0 355.7,148.0 354.6,147.4 353.5,146.9 353.4,145.6 354.5,145.0 355.7,144.9 356.7,145.6 358.0,145.5 358.8,144.6 359.8,145.1 360.6,144.3 361.5,144.7 362.4,144.9 363.5,145.1 364.4,145.6 365.4,146.0" fill="#fad8a8" stroke="#111111" stroke-width="0.9" stroke-linejoin="round"/><polygon points="506.9,172.2 510.3,181.3 516.0,190.3 525.0,199.4 534.1,207.3 538.0,212.0 531.4,210.0 522.3,202.1 513.3,193.0 507.6,184.0 504.2,174.9" fill="#0a78f8"/><polygon points="471.9,146.2 473.6,146.7 475.4,147.0 477.0,147.8 478.7,148.4 481.0,149.3 483.0,150.6 485.4,151.0 487.7,151.8 489.7,152.9 491.4,154.3 492.8,156.0 494.5,157.5 495.8,159.4 497.2,161.2 498.3,163.2 499.0,165.4 499.4,166.8 500.1,168.1 500.5,169.6 501.1,170.9 501.7,172.3 502.2,173.7 502.5,175.2 502.4,176.7 502.7,179.1 503.6,181.5 504.5,183.7 505.8,185.8 506.1,187.1 506.8,188.3 507.4,189.5 508.2,190.6 509.0,191.7 510.0,192.6 510.8,193.7 511.5,194.8 512.5,196.0 513.5,197.3 514.6,198.5 515.6,199.7 516.9,200.7 518.1,201.8 519.4,202.7 520.5,203.9 521.2,205.2 522.4,206.3 523.4,207.4 524.6,208.3 525.8,209.3 527.1,210.1 528.4,210.8 529.6,211.8 531.4,212.8 532.9,214.2 534.6,215.3 536.1,216.7 537.9,217.6 539.6,218.8 541.4,219.8 543.1,220.9 544.9,221.8 546.5,223.2 548.1,224.4 549.7,225.6 551.7,226.4 553.4,227.5 555.2,228.5 556.7,229.9 558.2,230.4 559.8,230.8 561.0,231.9 562.5,232.5 563.8,233.3 565.3,234.0 566.5,235.0 568.0,235.6 569.3,235.7 570.7,235.5 571.9,235.9 573.3,236.0 574.5,236.3 575.7,237.0 577.0,237.4 578.2,237.8 578.1,239.3 578.4,240.7 578.7,242.2 579.3,243.5 578.1,244.9 577.3,246.5 576.1,247.9 574.8,249.1 572.5,249.3 570.3,250.2 568.0,250.1 565.6,250.2 563.4,250.8 561.1,251.0 558.9,251.7 556.7,252.5 555.2,252.2 553.6,252.2 552.0,252.0 550.5,251.6 548.9,251.7 547.4,251.5 545.8,251.2 544.3,251.1 542.7,251.5 541.2,251.5 539.6,251.4 538.0,251.5 536.5,251.1 534.9,250.8 533.3,250.8 531.8,250.3 530.1,250.7 528.4,250.6 526.7,250.0 525.0,249.9 523.2,250.0 521.5,249.8 519.8,249.5 518.2,248.9 516.5,248.8 514.8,248.7 513.1,248.3 511.5,247.7 509.8,247.6 508.1,246.9 506.4,247.0 504.7,246.9 503.4,246.7 502.2,246.4 500.9,246.1 499.6,245.9 498.4,246.3 497.1,246.4 495.8,246.4 494.5,246.5 493.2,246.2 492.0,245.8 490.7,245.6 489.4,245.6 488.1,245.6 486.8,245.5 485.6,245.7 484.3,246.0 482.5,246.3 480.7,246.3 478.9,246.4 477.1,246.1 475.3,246.3 473.6,246.0 471.8,245.8 470.0,245.5 468.5,245.3 466.9,245.3 465.4,245.6 463.9,245.5 462.4,245.2 461.0,244.5 459.5,244.3 458.0,244.0 456.4,243.5 455.0,242.9 453.5,242.2 452.0,241.4 450.5,240.8 448.9,240.5 447.3,240.0 446.0,239.0 444.7,238.2 443.5,237.2 442.4,236.1 441.4,235.0 439.8,234.6 438.5,233.9 437.2,233.0 436.0,232.0 435.5,230.8 434.7,229.8 433.7,229.1 432.9,228.1 432.1,227.1 431.5,226.0 430.8,224.9 430.0,224.0 430.9,222.0 431.3,219.9 432.2,218.0 433.0,216.0 433.8,214.2 435.1,212.7 436.5,211.2 438.0,210.0 438.8,208.5 439.9,207.1 440.4,205.5 441.0,203.9 441.4,201.6 442.1,199.3 443.1,197.1 443.6,194.8 443.7,193.1 443.5,191.4 443.5,189.7 443.0,188.1 443.4,186.4 443.3,184.7 443.4,183.0 443.6,181.3 444.2,179.7 444.4,177.9 444.8,176.3 444.9,174.5 444.7,172.8 444.9,171.1 445.4,169.4 445.8,167.7 447.7,166.2 449.5,164.6 450.9,162.7 452.6,160.9 453.7,160.0 455.0,159.4 456.3,158.6 457.7,158.2 458.6,157.1 459.4,155.8 460.4,154.8 461.7,154.1 463.3,153.6 464.6,152.6 465.9,151.7 467.1,150.5 468.3,149.4 469.4,148.3 470.8,147.4" fill="#fad8a8" stroke="#111111" stroke-width="1.4" stroke-linejoin="round"/><polygon points="446.0,188.0 456.0,184.0 470.0,182.0 477.0,184.0 476.0,190.0 468.0,194.0 458.0,195.0 448.0,198.0" fill="#ffffff" stroke="#111111" stroke-width="1.0" stroke-linejoin="round"/><polygon points="496.0,171.0 503.0,170.0 507.0,176.0 505.0,182.0 498.0,180.0" fill="#ffffff" stroke="#111111" stroke-width="0.9" stroke-linejoin="round"/><polyline points="438.0,216.0 439.0,215.9 440.0,216.1 440.3,217.2 441.2,217.9 441.8,218.5 442.5,219.1 443.3,219.7 443.6,220.6 444.6,220.5 445.4,221.1 446.3,221.4 446.9,222.1 447.8,222.6 448.9,222.4 449.4,223.2 450.0,224.0" fill="none" stroke="#111" stroke-width="3.2" stroke-linejoin="round"/><polyline points="438.0,216.0 439.0,215.9 440.0,216.1 440.3,217.2 441.2,217.9 441.8,218.5 442.5,219.1 443.3,219.7 443.6,220.6 444.6,220.5 445.4,221.1 446.3,221.4 446.9,222.1 447.8,222.6 448.9,222.4 449.4,223.2 450.0,224.0" fill="none" stroke="#fff" stroke-width="1.4" stroke-linejoin="round"/><polyline points="446.0,226.0 446.6,226.6 447.1,227.3 447.8,227.8 448.2,228.6 449.0,228.7 449.7,229.3 450.5,229.8 451.4,229.5 452.2,230.0 452.5,231.0 453.4,231.0 454.3,231.2 454.3,232.1 455.1,232.6 455.3,233.5 456.0,234.0" fill="none" stroke="#111" stroke-width="3.2" stroke-linejoin="round"/><polyline points="446.0,226.0 446.6,226.6 447.1,227.3 447.8,227.8 448.2,228.6 449.0,228.7 449.7,229.3 450.5,229.8 451.4,229.5 452.2,230.0 452.5,231.0 453.4,231.0 454.3,231.2 454.3,232.1 455.1,232.6 455.3,233.5 456.0,234.0" fill="none" stroke="#fff" stroke-width="1.4" stroke-linejoin="round"/><polyline points="460.0,229.0 460.5,229.6 460.9,230.3 461.6,230.7 462.0,231.4 462.8,231.7 463.6,232.1 463.9,232.9 464.1,233.7 464.7,234.5 465.6,234.5 466.4,234.9 466.8,235.7 467.7,235.5 468.4,236.1 469.2,235.8 470.0,236.0" fill="none" stroke="#111" stroke-width="3.2" stroke-linejoin="round"/><polyline points="460.0,229.0 460.5,229.6 460.9,230.3 461.6,230.7 462.0,231.4 462.8,231.7 463.6,232.1 463.9,232.9 464.1,233.7 464.7,234.5 465.6,234.5 466.4,234.9 466.8,235.7 467.7,235.5 468.4,236.1 469.2,235.8 470.0,236.0" fill="none" stroke="#fff" stroke-width="1.4" stroke-linejoin="round"/><polyline points="472.0,236.0 472.5,236.7 473.3,236.7 473.4,237.5 474.0,238.0 475.4,237.6 476.9,237.8 477.8,238.8 478.4,239.9 479.3,240.9 480.0,242.0" fill="none" stroke="#111" stroke-width="3.2" stroke-linejoin="round"/><polyline points="472.0,236.0 472.5,236.7 473.3,236.7 473.4,237.5 474.0,238.0 475.4,237.6 476.9,237.8 477.8,238.8 478.4,239.9 479.3,240.9 480.0,242.0" fill="none" stroke="#fff" stroke-width="1.4" stroke-linejoin="round"/><polyline points="343.0,161.0 344.0,162.5 345.5,163.6 346.9,164.6 348.7,165.0 349.8,166.4 351.5,167.1 353.0,168.0 354.0,169.5 355.3,170.7 356.1,172.3 357.1,173.9 358.8,174.7 360.5,175.3 361.7,176.7 363.3,177.6 365.0,178.0 365.7,178.8 366.7,179.0 367.6,179.6 368.7,179.7 369.2,180.5 369.9,181.3 370.6,182.1 370.8,183.1 372.5,184.1 373.8,185.6 375.3,186.8 376.8,188.0 378.7,188.6 380.4,189.4 382.3,189.9 384.0,191.0 384.4,191.9 384.8,192.9 385.5,193.7 386.4,194.2 387.2,194.8 388.2,195.2 389.1,195.5 390.0,196.0 391.4,196.4 392.7,196.7 394.0,197.4 395.5,197.4 396.7,198.1 397.8,199.1 399.2,199.4 400.5,199.9 401.8,200.7 402.5,202.0 403.7,202.7 404.9,203.5 406.3,203.9 407.8,204.0 408.6,205.3 410.0,206.0 411.4,206.6 412.6,207.6 414.1,207.2 415.6,207.7 417.0,208.1 418.5,208.4 419.9,208.8 421.4,208.9 422.6,209.8 423.9,210.5 424.8,211.8 426.2,212.5 427.7,212.2 429.2,212.7 430.6,213.4 432.0,214.0 433.3,213.9 434.3,213.2 435.3,212.5 436.2,211.6 437.4,211.7 438.6,211.5 439.7,210.9 441.0,211.0" fill="none" stroke="#111" stroke-width="3.6" stroke-linejoin="round"/><polyline points="343.0,161.0 344.0,162.5 345.5,163.6 346.9,164.6 348.7,165.0 349.8,166.4 351.5,167.1 353.0,168.0 354.0,169.5 355.3,170.7 356.1,172.3 357.1,173.9 358.8,174.7 360.5,175.3 361.7,176.7 363.3,177.6 365.0,178.0 365.7,178.8 366.7,179.0 367.6,179.6 368.7,179.7 369.2,180.5 369.9,181.3 370.6,182.1 370.8,183.1 372.5,184.1 373.8,185.6 375.3,186.8 376.8,188.0 378.7,188.6 380.4,189.4 382.3,189.9 384.0,191.0 384.4,191.9 384.8,192.9 385.5,193.7 386.4,194.2 387.2,194.8 388.2,195.2 389.1,195.5 390.0,196.0 391.4,196.4 392.7,196.7 394.0,197.4 395.5,197.4 396.7,198.1 397.8,199.1 399.2,199.4 400.5,199.9 401.8,200.7 402.5,202.0 403.7,202.7 404.9,203.5 406.3,203.9 407.8,204.0 408.6,205.3 410.0,206.0 411.4,206.6 412.6,207.6 414.1,207.2 415.6,207.7 417.0,208.1 418.5,208.4 419.9,208.8 421.4,208.9 422.6,209.8 423.9,210.5 424.8,211.8 426.2,212.5 427.7,212.2 429.2,212.7 430.6,213.4 432.0,214.0 433.3,213.9 434.3,213.2 435.3,212.5 436.2,211.6 437.4,211.7 438.6,211.5 439.7,210.9 441.0,211.0" fill="none" stroke="#fff" stroke-width="1.8" stroke-linejoin="round"/><polyline points="440,246.5 470,246 505,247.5 545,250" fill="none" stroke="#111" stroke-width="3"/><polyline points="440,246.5 470,246 505,247.5 545,250" fill="none" stroke="#fff" stroke-width="1.2"/><line x1="493.4" y1="158" x2="493.4" y2="247" stroke="#8a7a6a" stroke-width="0.8"/><polygon points="586.0,238.0 612.0,238.0 612.0,246.0 608.0,246.0 608.0,254.0 586.0,254.0" fill="#ffffff"/><polygon points="589.0,247.0 589.9,245.9 591.3,245.9 591.8,244.6 591.6,243.3 592.8,243.8 594.1,243.5 594.9,242.5 596.0,242.0 597.1,242.5 598.1,241.9 599.1,241.5 599.9,240.8 600.9,240.8 602.0,241.0 603.0,240.9 604.0,241.0 604.9,240.9 605.9,240.8 606.8,241.0 607.8,240.9 608.5,240.1 609.5,240.2 610.1,239.4 611.0,239.0 610.3,240.1 609.9,241.4 609.4,242.7 610.0,244.0 609.2,245.2 608.3,246.4 607.6,246.7 606.8,246.5 606.0,246.7 605.6,247.4 604.3,248.0 602.8,248.0 602.0,248.1 601.4,247.4 600.6,247.4 600.0,248.0 599.5,249.0 598.4,249.5 597.4,250.0 596.3,250.4 595.1,250.5 594.0,249.8 593.0,250.3 592.0,251.0 591.0,250.2 590.4,249.1 589.2,248.4" fill="#fad8a8" stroke="#111111" stroke-width="0.9" stroke-linejoin="round"/><polygon points="604.0,238.0 612.0,238.0 612.0,243.0 606.0,241.0" fill="#0a78f8"/><polygon points="677.8,468.9 685.7,466.9 729.3,465.9 755.0,468.9 767.0,472.8 774.9,482.7 772.9,494.6 774.9,510.4 772.9,528.3 770.9,542.1 767.9,550.0 774.9,554.0 786.7,540.1 790.0,537.9 800.2,527.7 803.6,521.0 807.0,504.0 810.4,492.0 817.2,491.2 820.5,504.0 819.7,521.0 815.5,534.5 810.4,544.7 809.5,548.0 818.9,532.8 835.8,521.0 846.0,500.5 856.2,483.6 863.0,476.8 866.4,483.6 869.8,500.5 885.0,490.4 895.2,476.8 900.3,468.0 904.0,458.0 905.0,458.0 905.0,666.0 697.6,666.0 691.3,656.4 680.4,647.1 669.6,636.2 664.9,633.1 664.9,619.1 671.9,548.1 670.9,540.1 675.8,530.2 675.8,520.3 679.8,512.4 689.7,502.5 681.8,488.7 675.8,480.7" fill="#1efc08"/><polyline points="677.8,468.9 685.7,466.9 729.3,465.9 755.0,468.9 767.0,472.8 774.9,482.7 772.9,494.6 774.9,510.4 772.9,528.3 770.9,542.1 767.9,550.0 774.9,554.0 786.7,540.1 790.0,537.9 800.2,527.7 803.6,521.0 807.0,504.0 810.4,492.0 817.2,491.2 820.5,504.0 819.7,521.0 815.5,534.5 810.4,544.7 809.5,548.0 818.9,532.8 835.8,521.0 846.0,500.5 856.2,483.6 863.0,476.8 866.4,483.6 869.8,500.5 885.0,490.4 895.2,476.8 900.3,468.0 904.0,458.0" fill="none" stroke="#a8a8a8" stroke-width="0.9" stroke-linejoin="round"/><polygon points="677.8,468.9 685.7,466.9 729.3,465.9 755.0,468.9 767.0,472.8 774.9,482.7 772.9,494.6 774.9,510.4 772.9,528.3 770.9,542.1 767.9,550.0 774.9,554.0 786.7,540.1 790.0,537.9 800.2,527.7 803.6,521.0 807.0,504.0 810.4,492.0 817.2,491.2 820.5,504.0 819.7,521.0 815.5,534.5 810.4,544.7 809.5,548.0 818.9,532.8 835.8,521.0 846.0,500.5 856.2,483.6 863.0,476.8 866.4,483.6 869.8,500.5 885.0,490.4 895.2,476.8 900.3,468.0 904.0,458.0 905.0,458.0 905.0,666.0 697.6,666.0 691.3,656.4 680.4,647.1 669.6,636.2 664.9,633.1 664.9,619.1 671.9,548.1 670.9,540.1 675.8,530.2 675.8,520.3 679.8,512.4 689.7,502.5 681.8,488.7 675.8,480.7" fill="none"/><polyline points="697.6,666.0 691.3,656.4 680.4,647.1 669.6,636.2 664.9,633.1 664.9,619.1" fill="none" stroke="#a8a8a8" stroke-width="0.9" stroke-linejoin="round"/><polygon points="670.9,540.1 675.8,530.2 675.8,520.3 679.8,512.4 689.7,502.5 681.8,488.7 675.8,480.7 677.8,468.9" fill="none"/><polyline points="670.9,540.1 675.8,530.2 675.8,520.3 679.8,512.4 689.7,502.5 681.8,488.7 675.8,480.7 677.8,468.9" fill="none" stroke="#a8a8a8" stroke-width="0.9" stroke-linejoin="round"/><polygon points="704.6,512.0 700.0,524.0 692.0,530.0 685.7,529.0 688.0,520.0 696.0,513.0" fill="#ffff00" stroke="#a8a8a8" stroke-width="0.9" stroke-linejoin="round"/><polygon points="905.0,470.0 900.0,480.0 891.8,487.0 881.6,504.0 878.3,517.5 880.0,531.0 885.0,543.0 891.8,548.0 905.0,549.8" fill="#ffff00"/><polyline points="900.0,480.0 891.8,487.0 881.6,504.0 878.3,517.5 880.0,531.0 885.0,543.0 891.8,548.0" fill="none" stroke="#a8a8a8" stroke-width="0.9" stroke-linejoin="round"/><polygon points="671.9,548.1 683.8,540.1 699.6,538.2 723.4,536.2 730.3,544.1 728.3,554.0 729.3,571.8 733.3,575.6 724.0,588.0 710.0,592.7 697.6,598.9 686.7,606.7 674.2,609.8 664.9,619.1 658.0,619.0 658.0,548.0" fill="#ffff00"/><polyline points="671.9,548.1 683.8,540.1 699.6,538.2 723.4,536.2 730.3,544.1 728.3,554.0 729.3,571.8 733.3,575.6 724.0,588.0 710.0,592.7 697.6,598.9 686.7,606.7 674.2,609.8 664.9,619.1" fill="none" stroke="#a8a8a8" stroke-width="0.9" stroke-linejoin="round"/><polygon points="669.5,636.0 677.3,625.3 686.7,622.2 710.0,617.6 720.9,608.2 736.4,600.4 756.7,598.9 764.4,579.4 778.8,571.8 795.0,566.0 805.0,560.0 812.0,556.6 824.0,551.5 829.0,544.7 846.0,526.0 849.4,527.7 854.5,532.8 864.7,527.7 873.2,519.2 874.9,529.4 868.0,543.0 864.7,554.9 866.4,565.0 869.8,575.2 878.3,578.6 883.0,585.0 905.0,583.0 905.0,666.0 740.0,666.0 730.0,656.0 712.0,650.0 690.0,641.0" fill="#78a8f8"/><polyline points="669.5,636.0 677.3,625.3 686.7,622.2 710.0,617.6 720.9,608.2 736.4,600.4 756.7,598.9 764.4,579.4 778.8,571.8 795.0,566.0 805.0,560.0 812.0,556.6 824.0,551.5 829.0,544.7 846.0,526.0 849.4,527.7 854.5,532.8 864.7,527.7 873.2,519.2 874.9,529.4 868.0,543.0 864.7,554.9 866.4,565.0 869.8,575.2 878.3,578.6 883.0,585.0 905.0,583.0 905.0,666.0 740.0,666.0 730.0,656.0 712.0,650.0 690.0,641.0" fill="none" stroke="#a8a8a8" stroke-width="0.9" stroke-linejoin="round"/><polygon points="774.7,572.4 779.3,583.3 785.6,588.0 782.4,595.8 788.7,605.1 801.1,612.9 812.0,606.7 819.8,591.1 829.1,574.0 832.2,563.1 829.0,558.0 820.0,559.0 812.0,558.0 800.0,562.0 785.0,566.0" fill="#1efc08"/><polyline points="774.7,572.4 779.3,583.3 785.6,588.0 782.4,595.8 788.7,605.1 801.1,612.9 812.0,606.7 819.8,591.1 829.1,574.0 832.2,563.1 829.0,558.0" fill="none" stroke="#a8a8a8" stroke-width="0.9" stroke-linejoin="round"/><polygon points="836.9,617.6 843.1,606.7 857.1,591.1 866.4,575.6 869.6,567.8 869.6,560.0 905.0,560.0 905.0,583.3 894.4,588.0 888.2,591.1 882.0,597.3 883.6,580.2 877.3,577.1 869.6,581.8 857.1,598.9 844.7,611.3" fill="#1efc08"/><polyline points="836.9,617.6 843.1,606.7 857.1,591.1 866.4,575.6 869.6,567.8 869.6,560.0" fill="none" stroke="#a8a8a8" stroke-width="0.9" stroke-linejoin="round"/><polygon points="882.0,597.3 883.6,580.2 877.3,577.1 869.6,581.8 857.1,598.9 844.7,611.3 836.9,617.6" fill="none"/><polyline points="882.0,597.3 883.6,580.2 877.3,577.1 869.6,581.8 857.1,598.9 844.7,611.3 836.9,617.6" fill="none" stroke="#a8a8a8" stroke-width="0.9" stroke-linejoin="round"/><polygon points="720.9,608.2 730.0,600.0 750.0,592.0 759.0,591.0 760.0,603.0 755.0,613.0 745.0,620.0 730.0,621.0 715.0,619.0" fill="#0a78f8" stroke="#a8a8a8" stroke-width="0.8" stroke-linejoin="round"/><polygon points="804.2,633.1 816.7,619.1 822.9,614.4 823.7,622.2 816.7,631.6 807.3,636.2" fill="#0a78f8" stroke="#a8a8a8" stroke-width="0.8" stroke-linejoin="round"/><polygon points="832.2,640.9 843.1,626.9 855.6,617.6 859.4,625.3 857.1,639.3 850.9,648.7 841.6,651.8 832.2,648.7" fill="#0a78f8" stroke="#a8a8a8" stroke-width="0.8" stroke-linejoin="round"/><polygon points="905.0,583.3 902.2,583.3 892.9,588.0 889.8,594.2 882.0,597.3 882.0,608.2 878.9,609.8 880.4,619.1 882.0,622.2 882.0,639.3 872.7,639.3 872.7,645.6 863.3,647.1 863.3,651.8 852.4,653.3 852.4,658.0 838.4,659.6 838.4,666.0 905.0,666.0" fill="#ffffff"/><polygon points="728.7,581.8 764.4,579.4 764.4,589.6 758.2,589.6 756.7,598.9 736.4,600.4 730.2,606.7 720.9,608.2 720.9,616.0 710.0,617.6 710.0,626.9 686.7,626.9 686.7,622.2 677.3,625.3 675.8,631.6 664.9,633.1 664.9,619.1 674.2,617.6 674.2,609.8 686.7,608.2 696.0,602.0 705.3,598.9 711.6,595.8 717.8,594.2 727.1,592.7" fill="#ffffff"/><polygon points="737.0,659.4 757.6,659.4 757.6,646.2 785.0,646.2 785.0,636.6 791.0,636.6 791.0,630.6 803.0,630.6 803.0,636.6 830.8,636.6 830.8,666.0 737.0,666.0" fill="#ffffff"/><polygon points="819.0,533.6 837.5,533.6 837.5,545.0 828.0,545.0 828.0,549.8 819.0,549.8" fill="#ffffff"/><polygon points="819.5,537.5 821.0,537.3 822.4,537.4 823.6,536.4 825.0,536.0 826.4,536.5 827.2,537.6 828.6,537.8 830.0,538.0 830.9,537.9 831.7,538.4 832.6,538.5 833.5,538.4 834.4,538.7 835.2,538.5 836.1,538.1 837.0,538.5 836.0,539.6 836.0,541.0 834.9,541.1 833.9,541.1 832.8,541.4 832.1,542.2 831.0,542.5 829.9,542.4 828.8,542.3 828.0,541.5 827.2,542.5 826.5,543.5 826.5,544.8 826.0,546.0 825.2,546.8 824.1,547.0 823.1,547.3 822.0,547.0 821.4,545.7 820.9,544.4 820.4,543.1 819.5,542.0 819.4,540.8 818.7,539.8 819.6,538.8" fill="#fad8a8" stroke="#111111" stroke-width="0.9" stroke-linejoin="round"/><polygon points="848.5,546.0 849.1,545.3 849.1,544.3 849.9,544.0 850.5,543.3 850.4,542.5 850.4,541.6 850.4,540.7 851.0,540.0 851.6,539.4 852.0,538.6 852.9,538.5 853.6,538.0 853.6,539.3 853.9,540.6 853.6,541.8 853.0,543.0 852.0,544.0 851.7,545.5 851.3,546.8 850.5,548.0 849.2,547.3" fill="#fad8a8" stroke="#111111" stroke-width="0.9" stroke-linejoin="round"/><polygon points="843.0,537.0 846.0,537.0 846.0,540.0 843.0,540.0" fill="#1efc08"/><polygon points="838.0,658.0 850.0,658.0 850.0,666.0 838.0,666.0" fill="#ffffff"/><polygon points="781.6,648.6 791.2,648.6 791.2,666.0 781.6,666.0" fill="#0a78f8"/><polygon points="784.0,652.0 789.0,652.0 789.0,666.0 784.0,666.0" fill="#cde0f8"/><polygon points="668.0,626.0 668.5,625.4 668.6,624.6 669.1,624.0 669.3,623.3 670.0,623.1 670.8,623.0 671.5,622.7 672.0,622.0 673.2,621.3 674.5,621.6 675.7,621.2 677.0,621.0 676.5,621.7 676.7,622.5 677.3,623.0 677.6,623.7 677.0,625.0 676.0,626.0 675.3,626.7 674.4,626.9 673.5,627.1 672.6,626.7 672.0,627.3 671.5,628.0 670.5,628.2 670.0,629.0 669.6,628.1 668.6,627.8 668.3,626.9" fill="#fad8a8" stroke="#111111" stroke-width="1.0" stroke-linejoin="round"/><polygon points="677.0,612.0 678.1,611.8 678.6,610.8 679.6,611.2 680.6,610.8 681.5,610.4 682.3,609.8 683.0,609.2 684.0,609.0 684.9,609.0 685.7,608.7 686.5,608.7 687.3,609.2 688.1,609.7 688.2,610.7 689.1,610.6 690.0,611.0 691.1,610.6 692.2,610.5 693.0,609.7 693.8,609.0 694.9,609.2 696.0,609.1 697.0,609.5 698.0,610.0 698.5,609.2 699.2,608.7 699.7,607.9 700.6,607.6 701.5,607.9 702.4,607.9 703.3,607.6 704.0,607.0 704.8,607.0 705.6,607.2 706.4,607.3 707.2,607.6 707.9,607.3 708.5,606.7 709.1,606.0 710.0,606.0 710.5,607.0 711.1,608.0 711.7,608.9 712.0,610.0 711.7,611.2 710.6,611.6 710.2,612.6 710.0,613.7 709.4,614.7 708.2,615.0 707.1,615.4 706.0,615.0 705.5,615.8 705.3,616.8 704.4,617.1 703.7,617.8 702.7,617.8 701.8,618.2 700.9,618.1 700.0,618.0 699.2,618.7 698.2,619.0 697.5,619.9 697.5,621.0 696.6,621.5 696.0,622.3 695.9,623.4 695.0,624.0 694.7,624.7 694.2,625.3 693.4,625.1 692.7,625.5 691.5,624.8 690.0,625.0 689.9,624.1 689.4,623.3 689.9,622.6 690.0,621.7 690.0,620.8 689.4,620.0 688.5,619.8 688.0,619.0 687.2,618.7 686.4,618.8 685.5,618.8 684.8,619.5 684.2,618.9 683.4,618.8 682.5,618.7 682.0,618.0 681.4,617.3 681.0,616.5 680.0,616.7 679.2,616.1 678.4,616.2 677.6,616.5 676.8,616.9 676.0,617.0 675.4,615.7 675.4,614.3 676.6,613.4" fill="#fad8a8" stroke="#111111" stroke-width="1.0" stroke-linejoin="round"/><polygon points="706.0,606.0 706.5,605.2 707.4,604.9 708.1,604.3 708.5,603.4 709.4,603.3 710.3,603.4 711.2,603.3 712.0,603.0 712.9,602.6 713.7,602.1 714.6,602.5 715.5,602.7 716.5,602.9 717.3,602.4 718.2,602.4 719.0,602.0 719.9,602.8 720.2,603.9 721.0,604.8 721.0,606.0 720.2,606.0 719.4,606.1 718.8,606.4 718.0,606.7 717.7,607.4 717.0,607.9 716.5,608.4 716.0,609.0 715.1,609.2 714.2,609.7 713.4,610.1 712.7,610.7 711.7,611.2 710.7,610.8 709.8,610.6 709.0,610.0 708.4,608.9 707.9,607.7 707.2,606.6" fill="#fad8a8" stroke="#111111" stroke-width="1.0" stroke-linejoin="round"/><polygon points="725.0,597.0 726.0,596.8 726.7,596.2 727.7,596.1 728.6,595.6 728.2,594.5 728.8,593.6 729.5,592.9 730.0,592.0 731.0,591.5 731.3,590.4 732.3,590.1 732.9,589.2 733.8,588.3 734.9,588.3 736.1,588.4 737.0,589.0 737.8,588.2 738.9,587.9 740.1,587.9 741.0,588.6 741.5,587.7 742.0,586.8 742.9,586.1 744.0,586.0 745.1,586.0 746.1,585.5 746.9,584.8 747.9,584.1 749.0,584.2 750.1,584.2 751.2,583.9 752.0,583.0 752.9,582.3 753.6,581.5 754.9,581.4 755.6,580.5 756.7,580.5 757.8,580.5 758.9,580.0 760.0,580.0 761.3,579.6 762.6,580.0 763.6,581.1 765.0,581.0 764.3,581.3 763.6,581.7 763.2,582.3 763.0,583.1 763.3,584.6 763.0,586.0 762.3,586.6 761.4,587.1 760.5,587.3 759.5,587.1 758.5,587.3 757.9,588.2 756.9,588.5 756.0,588.0 755.1,588.5 754.1,588.2 753.2,588.6 752.4,589.1 751.2,589.0 750.5,589.9 750.2,591.0 750.0,592.0 748.9,591.8 748.0,591.3 746.9,591.3 745.9,591.4 744.9,591.8 743.9,592.0 742.8,592.2 742.0,593.0 741.2,593.9 740.0,593.9 739.4,594.8 738.6,595.7 737.8,596.6 737.3,597.7 736.1,597.4 735.0,598.0 734.1,598.2 733.2,598.6 732.4,599.2 731.4,599.3 730.6,599.8 729.8,600.4 728.9,600.6 728.0,601.0 727.1,600.1 726.3,599.2 725.4,598.2" fill="#fad8a8" stroke="#111111" stroke-width="1.0" stroke-linejoin="round"/><polygon points="742.0,666.0 742.9,665.8 743.8,666.1 744.6,665.6 745.5,665.4 746.4,665.0 747.0,664.2 747.0,663.2 747.8,662.6 748.1,661.6 749.0,661.1 749.0,660.1 748.8,659.2 749.5,658.6 750.0,657.8 751.0,657.7 751.6,657.0 752.4,656.4 753.4,656.0 754.4,655.9 755.3,655.5 756.2,655.0 757.2,654.7 758.0,654.0 758.8,653.4 759.3,652.8 759.8,652.2 760.5,651.7 761.3,651.8 762.8,651.8 764.3,651.5 765.1,651.5 765.8,651.8 766.5,651.4 767.3,651.2 768.0,650.8 768.9,650.7 769.6,650.1 769.6,649.2 770.6,648.9 771.6,649.4 772.5,649.1 773.3,648.4 774.0,649.1 774.8,649.6 775.8,649.9 776.8,649.8 776.8,650.9 776.2,651.8 776.7,652.7 777.4,653.5 778.4,653.6 779.4,654.0 780.2,654.7 780.4,655.8 781.3,656.9 781.1,658.4 782.2,659.3 782.5,660.7 782.7,661.5 782.5,662.3 783.2,662.7 783.3,663.6 782.7,664.0 782.3,664.7 781.9,665.3 781.6,666.0 780.4,665.4 779.0,665.7 778.0,664.9 776.7,664.5 775.5,663.7 774.1,663.9 772.7,664.2 771.7,665.2 770.5,664.8 769.2,665.1 768.0,664.9 766.8,665.0 765.3,665.1 764.3,666.2 762.9,666.0 761.8,665.1 760.6,665.6 759.4,666.3 758.2,665.9 756.9,665.6 755.7,665.1 754.4,664.9 753.2,665.5 751.9,665.7 750.8,664.9 749.5,664.5 748.0,664.6 746.9,665.5 745.6,666.0 744.6,667.0 743.2,666.9" fill="#fad8a8" stroke="#111111" stroke-width="1.0" stroke-linejoin="round"/><polygon points="790.0,637.8 790.8,638.0 791.7,637.8 792.3,638.4 793.2,638.3 794.0,637.9 794.5,637.1 795.2,636.7 796.0,636.5 797.0,636.6 798.0,636.2 799.1,636.0 800.0,636.5 800.8,637.2 801.4,638.0 802.5,638.2 803.2,639.0 803.1,639.8 802.9,640.6 802.3,641.2 802.2,642.1 801.7,642.8 800.9,643.2 800.4,644.1 800.8,645.0 799.4,644.7 798.3,645.6 797.0,645.9 796.0,646.8 795.4,646.1 794.6,646.0 794.4,645.1 793.7,644.6 792.9,644.3 792.6,643.5 792.0,642.8 791.2,642.6 791.7,641.3 791.2,640.0 791.2,638.6" fill="#fad8a8" stroke="#111111" stroke-width="1.0" stroke-linejoin="round"/><polygon points="792.4,651.0 793.5,651.2 794.3,650.5 794.9,651.4 795.9,651.7 796.7,651.1 797.0,650.1 798.0,650.3 798.9,649.9 799.7,649.3 800.6,649.0 800.8,648.1 801.1,647.2 802.0,647.2 802.8,646.9 803.7,646.8 804.4,646.2 804.9,645.5 805.7,645.2 806.5,645.2 807.3,645.2 807.9,644.5 808.6,644.1 809.4,644.4 810.3,644.3 811.0,643.7 811.8,643.9 812.7,643.9 813.5,643.6 814.3,643.4 815.2,643.7 815.6,644.5 816.4,645.0 817.7,645.7 819.1,646.2 820.5,646.6 821.9,647.1 822.7,646.9 823.5,647.2 824.2,647.5 824.7,648.2 825.4,648.3 826.1,648.7 826.5,649.5 827.2,649.8 827.7,651.1 827.3,652.4 826.9,653.6 826.0,654.6 825.3,654.0 824.3,653.9 823.4,653.9 822.7,654.7 822.1,655.2 821.4,655.6 820.8,656.2 820.1,656.7 819.3,656.6 818.5,656.6 817.8,656.3 817.1,655.8 816.4,655.4 815.6,655.5 814.8,655.5 814.0,655.8 813.0,656.2 812.3,656.9 811.5,657.6 810.8,658.3 810.0,659.1 808.8,659.1 807.8,658.6 806.8,658.2 805.5,658.0 804.3,658.3 803.0,658.3 801.7,658.4 800.5,658.9 799.1,658.7 797.8,659.4 797.2,660.6 796.1,660.3 795.4,659.5 794.9,658.5 794.8,657.5 794.1,656.7 793.2,656.1 792.1,656.4 791.2,655.8 791.6,654.6 792.4,653.5 792.8,652.3" fill="#fad8a8" stroke="#111111" stroke-width="1.0" stroke-linejoin="round"/><polygon points="798.4,666.0 798.4,665.0 798.2,663.9 799.1,663.2 799.0,662.0 800.0,661.6 801.0,661.6 802.0,661.1 803.1,661.3 804.3,661.6 805.4,661.3 805.9,660.2 806.8,659.4 806.6,660.4 807.2,661.3 807.9,662.0 808.3,662.9 809.2,663.3 809.6,664.2 809.9,665.2 810.4,666.0 809.5,666.0 808.7,665.8 807.9,665.4 807.6,664.5 806.8,664.8 806.0,665.1 805.1,665.1 804.4,664.5 803.8,665.1 803.2,665.6 802.3,665.5 801.6,665.9 800.8,666.1 800.0,666.4 799.2,666.3" fill="#fad8a8" stroke="#111111" stroke-width="1.0" stroke-linejoin="round"/><polygon points="786.4,647.5 786.8,646.3 788.0,645.6 788.8,646.6 790.0,647.0 788.9,647.5 788.5,648.6 787.4,648.2" fill="#fad8a8" stroke="#111111" stroke-width="1.0" stroke-linejoin="round"/><polygon points="639.0,641.0 639.3,640.0 639.5,639.0 639.5,637.9 640.2,637.1 641.3,636.6 641.6,635.5 642.4,634.8 643.0,634.0 643.8,633.7 644.6,633.4 644.9,632.6 645.5,632.0 646.2,631.5 647.1,631.4 647.8,630.9 648.0,630.0 647.9,630.8 647.9,631.7 648.5,632.4 649.0,633.0 648.7,634.2 649.1,635.4 648.2,636.2 647.7,637.4 646.9,638.3 645.7,638.5 644.7,639.0 644.0,640.0 643.5,639.5 642.8,639.1 642.0,639.2 641.3,639.3 640.2,640.2" fill="#fad8a8" stroke="#111111" stroke-width="1.0" stroke-linejoin="round"/><polygon points="650.0,656.0 650.7,654.8 651.6,653.7 651.7,652.3 651.0,651.0 651.9,650.5 652.9,650.0 653.9,649.8 655.0,650.0 656.1,650.7 656.4,652.1 657.3,653.0 658.0,654.0 658.0,655.0 657.3,655.7 656.4,656.1 656.0,657.0 655.2,656.7 654.3,656.6 653.8,655.9 653.2,655.3 652.4,655.4 651.6,655.8 650.8,655.7" fill="#fad8a8" stroke="#111111" stroke-width="1.0" stroke-linejoin="round"/><circle cx="690" cy="634.5" r="3" fill="none" stroke="#111" stroke-width="1.2"/><polyline points="548,264 566.5,300 607.5,380 657,475 706,585" fill="none" stroke="#1a2ad8" stroke-width="2.5" stroke-dasharray="6 2.5"/>
<g stroke="#000" stroke-width="2" stroke-dasharray="2 4" stroke-dashoffset="-0.6"><line x1="114.6" y1="141.0" x2="114.6" y2="664.0"/><line x1="139.3" y1="141.0" x2="139.3" y2="664.0"/><line x1="163.9" y1="141.0" x2="163.9" y2="664.0"/><line x1="188.5" y1="141.0" x2="188.5" y2="664.0"/><line x1="213.2" y1="141.0" x2="213.2" y2="664.0"/><line x1="237.8" y1="141.0" x2="237.8" y2="664.0"/><line x1="262.5" y1="141.0" x2="262.5" y2="664.0"/><line x1="287.1" y1="141.0" x2="287.1" y2="664.0"/><line x1="311.7" y1="141.0" x2="311.7" y2="664.0"/><line x1="336.4" y1="141.0" x2="336.4" y2="664.0"/><line x1="361.0" y1="141.0" x2="361.0" y2="664.0"/><line x1="385.6" y1="141.0" x2="385.6" y2="664.0"/><line x1="410.3" y1="141.0" x2="410.3" y2="664.0"/><line x1="434.9" y1="141.0" x2="434.9" y2="664.0"/><line x1="459.5" y1="141.0" x2="459.5" y2="664.0"/><line x1="484.2" y1="141.0" x2="484.2" y2="664.0"/><line x1="508.8" y1="141.0" x2="508.8" y2="664.0"/><line x1="533.4" y1="141.0" x2="533.4" y2="664.0"/><line x1="558.1" y1="141.0" x2="558.1" y2="664.0"/><line x1="582.7" y1="141.0" x2="582.7" y2="664.0"/><line x1="607.4" y1="141.0" x2="607.4" y2="664.0"/><line x1="632.0" y1="141.0" x2="632.0" y2="664.0"/><line x1="656.6" y1="141.0" x2="656.6" y2="664.0"/><line x1="681.3" y1="141.0" x2="681.3" y2="664.0"/><line x1="705.9" y1="141.0" x2="705.9" y2="664.0"/><line x1="730.5" y1="141.0" x2="730.5" y2="664.0"/><line x1="755.2" y1="141.0" x2="755.2" y2="664.0"/><line x1="779.8" y1="141.0" x2="779.8" y2="664.0"/><line x1="804.4" y1="141.0" x2="804.4" y2="664.0"/><line x1="829.1" y1="141.0" x2="829.1" y2="664.0"/><line x1="853.7" y1="141.0" x2="853.7" y2="664.0"/><line x1="878.4" y1="141.0" x2="878.4" y2="664.0"/></g><g stroke="#000" stroke-width="2" stroke-dasharray="2 4" stroke-dashoffset="-1.7"><line x1="90.0" y1="169.5" x2="903.0" y2="169.5"/><line x1="90.0" y1="210.9" x2="903.0" y2="210.9"/><line x1="90.0" y1="253.3" x2="903.0" y2="253.3"/><line x1="90.0" y1="296.8" x2="903.0" y2="296.8"/><line x1="90.0" y1="341.5" x2="903.0" y2="341.5"/><line x1="90.0" y1="387.3" x2="903.0" y2="387.3"/><line x1="90.0" y1="434.5" x2="903.0" y2="434.5"/><line x1="90.0" y1="483.0" x2="903.0" y2="483.0"/><line x1="90.0" y1="533.1" x2="903.0" y2="533.1"/><line x1="90.0" y1="584.7" x2="903.0" y2="584.7"/><line x1="90.0" y1="638.1" x2="903.0" y2="638.1"/></g>
</g>
<rect x="90.0" y="141.0" width="813.0" height="523.0" fill="none" stroke="#222" stroke-width="1.2"/>
<g stroke="#000" stroke-width="2" stroke-dasharray="2 4" stroke-dashoffset="-1.7"><line x1="90.0" y1="141.0" x2="903.0" y2="141.0"/><line x1="90.0" y1="664.0" x2="903.0" y2="664.0"/></g><g stroke="#000" stroke-width="2" stroke-dasharray="2 4" stroke-dashoffset="-0.6"><line x1="90.0" y1="141.0" x2="90.0" y2="664.0"/><line x1="903.0" y1="141.0" x2="903.0" y2="664.0"/></g>
<path d="M91.0 141.0L107.3 144.9M104.3 141.1L107.3 144.9L103.0 146.9M119.1 141.0L134.9 145.0M132.0 141.2L134.9 145.0L130.5 147.0M147.3 141.0L161.6 145.0M158.8 141.1L161.6 145.0L157.2 146.8M175.4 141.0L189.4 144.8M186.5 141.0L189.4 144.8L185.0 146.7M203.6 141.0L217.2 144.5M214.3 140.7L217.2 144.5L212.8 146.4M231.7 141.0L243.5 142.5M240.1 139.1L243.5 142.5L239.4 144.9M259.8 141.0L270.3 140.3M266.3 137.6L270.3 140.3L266.7 143.5M288.0 141.0L298.1 139.5M293.9 137.1L298.1 139.5L294.8 143.0M316.1 141.0L326.2 138.2M321.8 136.4L326.2 138.2L323.4 142.1M513.1 141.0L513.3 145.9M515.0 143.5L513.3 145.9L511.4 143.7M541.2 141.0L541.5 145.8M543.2 143.4L541.5 145.8L539.6 143.6M569.4 141.0L569.6 145.8M571.3 143.4L569.6 145.8L567.7 143.6M597.5 141.0L597.9 145.6M599.4 143.2L597.9 145.6L596.1 143.6M625.7 141.0L626.0 145.6M627.5 143.3L626.0 145.6L624.1 143.5M653.8 141.0L655.5 143.2M655.5 141.5L655.5 143.2L653.9 142.8M681.9 141.0L685.7 137.6M682.6 137.8L685.7 137.6L685.2 140.6M710.1 141.0L714.0 136.2M710.4 137.0L714.0 136.2L713.9 139.9M738.2 141.0L743.4 135.5M738.9 136.2L743.4 135.5L743.0 140.0M766.4 141.0L772.7 134.8M767.9 135.3L772.7 134.8L772.1 139.5M794.5 141.0L801.5 134.8M796.8 135.1L801.5 134.8L800.7 139.5M822.6 141.0L830.2 134.6M825.4 134.8L830.2 134.6L829.2 139.3M850.8 141.0L858.4 134.7M853.6 134.8L858.4 134.7L857.4 139.4M878.9 141.0L886.6 134.6M881.8 134.8L886.6 134.6L885.5 139.3M91.0 169.2L107.5 173.0M104.5 169.2L107.5 173.0L103.2 175.0M119.1 169.2L134.8 173.2M131.9 169.4L134.8 173.2L130.4 175.2M147.3 169.2L161.5 173.1M158.7 169.3L161.5 173.1L157.1 175.0M175.4 169.2L189.4 173.0M186.5 169.1L189.4 173.0L185.0 174.8M203.6 169.2L217.4 172.9M214.6 169.1L217.4 172.9L213.0 174.8M231.7 169.2L243.6 171.0M240.3 167.5L243.6 171.0L239.4 173.3M259.8 169.2L270.3 168.7M266.4 165.9L270.3 168.7L266.6 171.8M288.0 169.2L298.0 167.9M293.8 165.4L298.0 167.9L294.6 171.3M316.1 169.2L326.1 165.4M321.5 164.0L326.1 165.4L323.6 169.5M513.1 169.2L513.1 174.2M514.9 171.8L513.1 174.2L511.3 171.8M541.2 169.2L541.3 174.1M543.1 171.8L541.3 174.1L539.4 171.8M569.4 169.2L569.4 174.2M571.2 171.8L569.4 174.2L567.5 171.8M597.5 169.2L597.7 174.0M599.4 171.7L597.7 174.0L595.8 171.8M625.7 169.2L625.7 174.2M627.5 171.8L625.7 174.2L623.8 171.8M653.8 169.2L655.2 171.8M655.5 170.0L655.2 171.8L653.6 171.1M681.9 169.2L685.7 165.2M682.5 165.7L685.7 165.2L685.4 168.5M710.1 169.2L713.9 164.2M710.2 165.1L713.9 164.2L713.9 167.9M738.2 169.2L743.5 163.5M738.9 164.2L743.5 163.5L743.1 168.1M766.4 169.2L772.8 162.8M768.0 163.4L772.8 162.8L772.2 167.5M794.5 169.2L801.6 162.8M796.8 163.1L801.6 162.8L800.8 167.6M822.6 169.2L830.2 162.8M825.4 162.9L830.2 162.8L829.3 167.5M850.8 169.2L858.4 162.8M853.6 162.9L858.4 162.8L857.4 167.5M878.9 169.2L886.5 162.8M881.7 162.9L886.5 162.8L885.5 167.5M91.0 197.3L106.9 201.5M104.0 197.7L106.9 201.5L102.5 203.4M119.1 197.3L134.0 201.6M131.2 197.8L134.0 201.6L129.6 203.4M147.3 197.3L162.0 201.7M159.2 197.8L162.0 201.7L157.5 203.5M175.4 197.3L189.4 201.2M186.6 197.4L189.4 201.2L185.0 203.1M203.6 197.3L217.2 201.2M214.4 197.3L217.2 201.2L212.8 203.0M231.7 197.3L243.7 200.1M240.6 196.3L243.7 200.1L239.3 202.1M259.8 197.3L271.1 199.1M267.8 195.6L271.1 199.1L266.9 201.4M288.0 197.3L299.5 199.8M296.4 196.1L299.5 199.8L295.2 201.9M316.1 197.3L326.1 194.8M321.7 192.9L326.1 194.8L323.2 198.6M344.3 197.3L353.3 194.8M348.8 193.0L353.3 194.8L350.4 198.7M541.2 197.3L541.4 202.2M543.1 199.8L541.4 202.2L539.5 200.0M569.4 197.3L569.8 202.0M571.3 199.6L569.8 202.0L567.9 199.9M597.5 197.3L597.9 201.9M599.4 199.6L597.9 201.9L596.0 199.9M625.7 197.3L626.6 201.0M627.5 198.9L626.6 201.0L624.8 199.6M653.8 197.3L656.8 197.3M655.4 196.2L656.8 197.3L655.4 198.4M681.9 197.3L685.8 195.1M683.1 194.7L685.8 195.1L684.8 197.6M710.1 197.3L714.3 193.4M710.8 193.7L714.3 193.4L713.8 196.8M738.2 197.3L743.6 192.3M739.2 192.7L743.6 192.3L742.9 196.7M766.4 197.3L772.7 191.2M768.0 191.7L772.7 191.2L772.1 196.0M794.5 197.3L801.6 191.2M796.8 191.4L801.6 191.2L800.7 195.9M822.6 197.3L830.4 191.0M825.6 191.1L830.4 191.0L829.3 195.7M850.8 197.3L859.4 191.1M854.6 190.9L859.4 191.1L858.0 195.7M878.9 197.3L887.8 191.0M883.1 190.8L887.8 191.0L886.5 195.6M91.0 225.5L106.5 231.8M104.1 227.6L106.5 231.8L101.9 233.1M119.1 225.5L134.0 231.3M131.6 227.2L134.0 231.3L129.4 232.7M147.3 225.5L162.0 231.4M159.6 227.2L162.0 231.4L157.4 232.7M175.4 225.5L189.6 231.0M187.1 226.8L189.6 231.0L185.0 232.4M203.6 225.5L216.7 230.6M214.3 226.5L216.7 230.6L212.2 232.0M231.7 225.5L243.8 230.3M241.4 226.2L243.8 230.3L239.2 231.7M259.8 225.5L271.6 229.8M269.0 225.7L271.6 229.8L267.0 231.3M288.0 225.5L299.8 228.9M297.0 225.0L299.8 228.9L295.4 230.7M316.1 225.5L328.8 226.8M325.4 223.5L328.8 226.8L324.8 229.4M344.3 225.5L354.3 223.0M349.9 221.1L354.3 223.0L351.3 226.8M372.4 225.5L383.9 224.2M379.8 221.7L383.9 224.2L380.5 227.6M569.4 225.5L570.2 229.6M571.3 227.4L570.2 229.6L568.3 228.0M597.5 225.5L597.5 230.5M599.4 228.1L597.5 230.5L595.7 228.1M625.7 225.5L627.2 228.5M627.6 226.5L627.2 228.5L625.4 227.6M653.8 225.5L656.8 225.5M655.4 224.4L656.8 225.5L655.4 226.6M681.9 225.5L685.7 223.0M683.0 222.8L685.7 223.0L684.9 225.6M710.1 225.5L716.3 222.0M712.1 221.4L716.3 222.0L714.6 226.0M738.2 225.5L745.3 221.4M740.5 220.8L745.3 221.4L743.5 225.9M766.4 225.5L773.3 220.9M768.5 220.6L773.3 220.9L771.7 225.5M794.5 225.5L802.2 220.3M797.4 220.0L802.2 220.3L800.7 224.8M822.6 225.5L831.7 219.8M826.9 219.3L831.7 219.8L830.0 224.3M850.8 225.5L860.7 219.4M855.9 218.9L860.7 219.4L859.0 223.9M878.9 225.5L888.5 219.1M883.7 218.7L888.5 219.1L887.0 223.7M91.0 253.7L106.9 260.1M104.5 255.9L106.9 260.1L102.3 261.4M119.1 253.7L133.7 260.7M131.6 256.4L133.7 260.7L129.1 261.7M147.3 253.7L162.0 261.2M159.9 256.8L162.0 261.2L157.3 262.1M175.4 253.7L189.7 261.0M187.7 256.6L189.7 261.0L184.9 261.9M203.6 253.7L216.6 260.6M214.6 256.2L216.6 260.6L211.9 261.4M231.7 253.7L244.2 261.1M242.4 256.7L244.2 261.1L239.4 261.7M259.8 253.7L271.9 261.3M270.3 256.8L271.9 261.3L267.2 261.8M288.0 253.7L299.5 261.3M298.0 256.7L299.5 261.3L294.7 261.7M316.1 253.7L328.8 260.1M326.8 255.7L328.8 260.1L324.1 261.0M344.3 253.7L359.3 255.0M355.7 251.7L359.3 255.0L355.2 257.6M372.4 253.7L385.1 253.7M381.3 250.7L385.1 253.7L381.3 256.6M400.5 253.7L414.5 253.7M410.8 250.7L414.5 253.7L410.8 256.6M625.7 253.7L626.7 257.6M627.7 255.4L626.7 257.6L624.8 256.1M653.8 253.7L657.6 252.4M655.3 251.6L657.6 252.4L656.3 254.4M681.9 253.7L686.9 251.2M683.7 250.5L686.9 251.2L685.5 254.2M710.1 253.7L719.1 248.7M714.3 247.9L719.1 248.7L717.2 253.1M738.2 253.7L746.6 249.2M741.9 248.4L746.6 249.2L744.7 253.6M766.4 253.7L774.2 249.8M769.5 248.8L774.2 249.8L772.1 254.1M794.5 253.7L803.0 249.3M798.3 248.4L803.0 249.3L801.0 253.6M822.6 253.7L832.8 248.5M828.1 247.6L832.8 248.5L830.8 252.8M850.8 253.7L861.9 248.4M857.2 247.4L861.9 248.4L859.8 252.7M878.9 253.7L890.4 248.7M885.8 247.5L890.4 248.7L888.1 252.9M91.0 281.9L105.6 292.6M104.3 288.0L105.6 292.6L100.8 292.8M119.1 281.9L134.1 292.3M132.7 287.8L134.1 292.3L129.3 292.6M147.3 281.9L162.2 291.6M160.6 287.0L162.2 291.6L157.4 292.0M175.4 281.9L189.6 290.4M187.9 285.9L189.6 290.4L184.8 291.0M203.6 281.9L216.5 290.0M214.9 285.4L216.5 290.0L211.7 290.4M231.7 281.9L244.4 290.6M242.9 286.0L244.4 290.6L239.6 290.9M259.8 281.9L272.5 290.8M271.1 286.2L272.5 290.8L267.7 291.0M288.0 281.9L300.7 291.8M299.5 287.2L300.7 291.8L295.9 291.8M316.1 281.9L328.8 290.8M327.4 286.3L328.8 290.8L324.0 291.1M344.3 281.9L358.3 286.8M355.7 282.8L358.3 286.8L353.7 288.4M372.4 281.9L386.4 284.3M383.2 280.8L386.4 284.3L382.2 286.6M400.5 281.9L414.5 283.1M411.0 279.9L414.5 283.1L410.5 285.7M428.7 281.9L442.7 281.9M438.9 278.9L442.7 281.9L438.9 284.8M456.8 281.9L468.3 280.6M464.2 278.0L468.3 280.6L464.9 283.9M485.0 281.9L495.0 279.4M490.6 277.4L495.0 279.4L492.0 283.1M541.2 281.9L550.0 280.3M545.8 278.1L550.0 280.3L546.8 283.9M569.4 281.9L573.2 279.4M570.5 279.1L573.2 279.4L572.3 281.9M597.5 281.9L602.5 279.4M599.2 278.7L602.5 279.4L601.1 282.4M625.7 281.9L632.1 279.4M628.1 278.2L632.1 279.4L630.0 282.9M653.8 281.9L662.5 279.7M658.2 277.7L662.5 279.7L659.6 283.5M681.9 281.9L688.3 279.3M684.4 278.2L688.3 279.3L686.2 282.9M710.1 281.9L718.3 278.3M713.6 277.1L718.3 278.3L715.9 282.5M738.2 281.9L747.0 278.0M742.3 276.8L747.0 278.0L744.7 282.2M766.4 281.9L774.9 278.3M770.3 277.0L774.9 278.3L772.5 282.5M794.5 281.9L803.8 277.9M799.2 276.7L803.8 277.9L801.5 282.1M822.6 281.9L833.6 276.8M828.9 275.7L833.6 276.8L831.4 281.1M850.8 281.9L862.6 276.2M858.0 275.2L862.6 276.2L860.5 280.5M878.9 281.9L891.0 276.1M886.3 275.0L891.0 276.1L888.9 280.4M91.0 310.0L105.6 320.7M104.3 316.1L105.6 320.7L100.8 320.9M119.1 310.0L134.0 320.5M132.6 315.9L134.0 320.5L129.2 320.7M147.3 310.0L162.0 320.1M160.5 315.5L162.0 320.1L157.2 320.4M175.4 310.0L189.2 319.2M187.7 314.7L189.2 319.2L184.5 319.6M203.6 310.0L216.4 318.7M214.9 314.1L216.4 318.7L211.6 319.0M231.7 310.0L244.4 318.9M243.0 314.3L244.4 318.9L239.6 319.2M259.8 310.0L272.5 318.9M271.1 314.3L272.5 318.9L267.7 319.2M288.0 310.0L300.7 321.5M299.9 316.8L300.7 321.5L295.9 321.2M316.1 310.0L328.9 319.3M327.6 314.7L328.9 319.3L324.1 319.5M344.3 310.0L357.9 315.2M355.4 311.1L357.9 315.2L353.3 316.6M372.4 310.0L386.3 312.7M383.1 309.1L386.3 312.7L382.0 314.9M400.5 310.0L414.5 312.5M411.3 308.9L414.5 312.5L410.3 314.8M428.7 310.0L442.4 311.1M438.9 307.9L442.4 311.1L438.4 313.8M456.8 310.0L470.8 311.8M467.4 308.4L470.8 311.8L466.7 314.3M485.0 310.0L497.0 309.7M493.2 306.9L497.0 309.7L493.3 312.8M513.1 310.0L525.8 310.1M522.0 307.1L525.8 310.1L522.0 313.0M541.2 310.0L553.2 309.0M549.2 306.4L553.2 309.0L549.7 312.3M569.4 310.0L580.4 307.0M576.0 305.2L580.4 307.0L577.5 310.9M597.5 310.0L609.5 307.0M605.1 305.1L609.5 307.0L606.6 310.8M625.7 310.0L637.7 307.5M633.4 305.4L637.7 307.5L634.6 311.2M653.8 310.0L668.8 307.5M664.6 305.2L668.8 307.5L665.6 311.1M681.9 310.0L692.7 307.1M688.3 305.3L692.7 307.1L689.8 311.0M710.1 310.0L720.1 306.0M715.5 304.7L720.1 306.0L717.7 310.2M738.2 310.0L748.0 306.2M743.4 304.8L748.0 306.2L745.5 310.3M766.4 310.0L775.6 306.7M771.1 305.2L775.6 306.7L773.1 310.8M794.5 310.0L804.5 306.5M800.0 304.9L804.5 306.5L802.0 310.5M822.6 310.0L834.3 305.1M829.7 303.8L834.3 305.1L832.0 309.3M850.8 310.0L863.4 303.8M858.7 302.9L863.4 303.8L861.3 308.2M878.9 310.0L891.6 303.6M886.9 302.7L891.6 303.6L889.6 308.0M91.0 338.2L103.8 353.1M103.6 348.3L103.8 353.1L99.1 352.2M119.1 338.2L132.4 351.9M131.9 347.1L132.4 351.9L127.6 351.2M147.3 338.2L160.9 349.7M159.9 345.0L160.9 349.7L156.1 349.5M175.4 338.2L188.5 348.4M187.4 343.7L188.5 348.4L183.7 348.4M203.6 338.2L216.2 347.5M214.9 342.8L216.2 347.5L211.4 347.6M231.7 338.2L244.3 347.2M243.0 342.6L244.3 347.2L239.5 347.4M259.8 338.2L272.5 347.4M271.2 342.8L272.5 347.4L267.7 347.6M288.0 338.2L300.7 348.3M299.6 343.6L300.7 348.3L295.9 348.3M316.1 338.2L328.9 347.1M327.5 342.5L328.9 347.1L324.1 347.3M344.3 338.2L357.5 343.6M355.1 339.5L357.5 343.6L352.8 344.9M372.4 338.2L386.0 341.2M383.0 337.5L386.0 341.2L381.7 343.3M400.5 338.2L414.4 340.6M411.1 337.0L414.4 340.6L410.1 342.8M428.7 338.2L442.2 339.9M438.8 336.5L442.2 339.9L438.1 342.3M456.8 338.2L470.4 339.6M466.9 336.3L470.4 339.6L466.3 342.1M485.0 338.2L498.5 339.3M494.9 336.0L498.5 339.3L494.4 341.9M513.1 338.2L527.1 339.5M523.6 336.2L527.1 339.5L523.1 342.1M541.2 338.2L553.8 338.0M549.9 335.1L553.8 338.0L550.0 341.0M569.4 338.2L580.3 335.9M576.0 333.8L580.3 335.9L577.2 339.6M597.5 338.2L608.7 335.6M604.3 333.6L608.7 335.6L605.7 339.3M625.7 338.2L637.3 335.8M633.0 333.6L637.3 335.8L634.2 339.4M653.8 338.2L666.8 335.8M662.6 333.6L666.8 335.8L663.6 339.4M681.9 338.2L693.2 335.4M688.8 333.5L693.2 335.4L690.2 339.2M710.1 338.2L720.0 334.5M715.5 333.1L720.0 334.5L717.5 338.6M738.2 338.2L748.0 334.8M743.5 333.2L748.0 334.8L745.4 338.8M766.4 338.2L776.2 335.5M771.7 333.6L776.2 335.5L773.3 339.3M794.5 338.2L805.2 335.2M800.8 333.4L805.2 335.2L802.4 339.1M822.6 338.2L834.7 334.1M830.2 332.5L834.7 334.1L832.1 338.1M850.8 338.2L863.4 333.5M858.8 332.0L863.4 333.5L860.9 337.6M878.9 338.2L891.6 333.5M887.0 332.1L891.6 333.5L889.1 337.6M91.0 366.4L103.7 381.7M103.6 376.9L103.7 381.7L99.0 380.6M119.1 366.4L131.9 381.5M131.7 376.7L131.9 381.5L127.2 380.5M147.3 366.4L159.9 379.9M159.5 375.1L159.9 379.9L155.1 379.1M175.4 366.4L187.6 378.4M187.0 373.7L187.6 378.4L182.8 377.9M203.6 366.4L215.6 377.3M214.8 372.6L215.6 377.3L210.8 376.9M231.7 366.4L244.0 376.2M242.9 371.5L244.0 376.2L239.2 376.1M259.8 366.4L272.3 375.6M271.0 371.0L272.3 375.6L267.5 375.7M288.0 366.4L300.5 375.4M299.2 370.8L300.5 375.4L295.7 375.6M316.1 366.4L328.7 374.4M327.1 369.9L328.7 374.4L323.9 374.8M344.3 366.4L357.1 372.4M354.9 368.1L357.1 372.4L352.4 373.4M372.4 366.4L385.5 370.4M382.8 366.5L385.5 370.4L381.0 372.1M400.5 366.4L413.8 369.3M410.7 365.6L413.8 369.3L409.4 371.4M428.7 366.4L441.8 368.6M438.5 365.0L441.8 368.6L437.5 370.9M456.8 366.4L469.8 367.9M466.4 364.5L469.8 367.9L465.7 370.4M485.0 366.4L498.0 367.6M494.5 364.3L498.0 367.6L494.0 370.2M513.1 366.4L526.3 367.6M522.8 364.3L526.3 367.6L522.3 370.2M541.2 366.4L553.8 366.9M550.2 363.8L553.8 366.9L549.9 369.7M569.4 366.4L580.6 365.5M576.6 362.8L580.6 365.5L577.0 368.7M597.5 366.4L608.4 364.8M604.2 362.4L608.4 364.8L605.0 368.3M625.7 366.4L636.8 364.8M632.6 362.4L636.8 364.8L633.5 368.2M653.8 366.4L665.4 364.8M661.2 362.4L665.4 364.8L662.0 368.2M681.9 366.4L693.4 364.8M689.3 362.4L693.4 364.8L690.1 368.2M710.1 366.4L721.1 364.6M716.9 362.3L721.1 364.6L717.8 368.1M738.2 366.4L748.9 364.7M744.7 362.4L748.9 364.7L745.6 368.2M766.4 366.4L777.0 364.9M772.9 362.5L777.0 364.9L773.7 368.3M794.5 366.4L805.8 364.3M801.6 362.1L805.8 364.3L802.6 367.9M822.6 366.4L835.0 363.2M830.6 361.3L835.0 363.2L832.1 367.0M850.8 366.4L863.5 362.6M859.0 360.8L863.5 362.6L860.7 366.5M878.9 366.4L891.6 362.6M887.1 360.8L891.6 362.6L888.8 366.5M91.0 394.5L103.5 410.0M103.4 405.2L103.5 410.0L98.8 408.9M119.1 394.5L131.3 410.0M131.3 405.2L131.3 410.0L126.7 408.8M147.3 394.5L158.8 409.5M158.8 404.7L158.8 409.5L154.1 408.3M175.4 394.5L186.4 409.3M186.5 404.5L186.4 409.3L181.7 408.1M203.6 394.5L214.6 408.8M214.6 404.0L214.6 408.8L209.9 407.6M231.7 394.5L243.6 405.5M242.9 400.7L243.6 405.5L238.9 405.1M259.8 394.5L272.4 403.6M271.1 399.0L272.4 403.6L267.6 403.8M288.0 394.5L300.5 403.5M299.2 398.9L300.5 403.5L295.7 403.7M316.1 394.5L328.5 403.1M327.0 398.5L328.5 403.1L323.7 403.4M344.3 394.5L356.7 401.8M354.9 397.3L356.7 401.8L351.9 402.4M372.4 394.5L385.3 400.1M383.0 395.9L385.3 400.1L380.6 401.3M400.5 394.5L413.7 399.1M411.0 395.1L413.7 399.1L409.1 400.6M428.7 394.5L441.6 398.1M438.8 394.2L441.6 398.1L437.2 399.9M456.8 394.5L469.8 396.6M466.5 393.1L469.8 396.6L465.6 398.9M485.0 394.5L498.0 395.8M494.5 392.5L498.0 395.8L493.9 398.4M513.1 394.5L526.1 395.8M522.6 392.5L526.1 395.8L522.0 398.4M541.2 394.5L553.9 395.8M550.4 392.5L553.9 395.8L549.8 398.4M569.4 394.5L581.2 395.2M577.5 392.0L581.2 395.2L577.2 397.9M597.5 394.5L609.2 394.6M605.4 391.6L609.2 394.6L605.4 397.5M625.7 394.5L637.7 394.3M633.8 391.4L637.7 394.3L633.9 397.4M653.8 394.5L666.4 393.8M662.4 391.0L666.4 393.8L662.8 396.9M681.9 394.5L694.8 393.4M690.8 390.8L694.8 393.4L691.3 396.7M710.1 394.5L722.8 393.9M718.9 391.1L722.8 393.9L719.2 397.0M738.2 394.5L750.5 394.5M746.7 391.6L750.5 394.5L746.7 397.5M766.4 394.5L778.0 394.5M774.2 391.5L778.0 394.5L774.2 397.4M794.5 394.5L806.3 393.6M802.3 391.0L806.3 393.6L802.8 396.9M822.6 394.5L835.4 392.4M831.2 390.1L835.4 392.4L832.2 396.0M850.8 394.5L864.2 391.8M859.9 389.7L864.2 391.8L861.1 395.5M878.9 394.5L892.6 391.8M888.3 389.7L892.6 391.8L889.5 395.5M91.0 422.7L102.5 440.4M102.9 435.6L102.5 440.4L97.9 438.8M119.1 422.7L130.3 439.9M130.7 435.1L130.3 439.9L125.8 438.4M147.3 422.7L157.5 439.2M158.0 434.4L157.5 439.2L153.0 437.5M175.4 422.7L185.6 439.7M186.2 435.0L185.6 439.7L181.1 438.0M203.6 422.7L213.8 440.2M214.4 435.4L213.8 440.2L209.3 438.4M231.7 422.7L243.0 436.0M242.8 431.2L243.0 436.0L238.3 435.1M259.8 422.7L272.5 431.6M271.1 427.0L272.5 431.6L267.7 431.9M288.0 422.7L300.6 431.4M299.2 426.8L300.6 431.4L295.8 431.7M316.1 422.7L328.5 431.3M327.0 426.7L328.5 431.3L323.7 431.6M344.3 422.7L356.5 430.9M355.0 426.3L356.5 430.9L351.7 431.3M372.4 422.7L385.8 428.4M383.5 424.2L385.8 428.4L381.2 429.6M400.5 422.7L414.4 427.8M411.9 423.7L414.4 427.8L409.8 429.2M428.7 422.7L442.1 427.4M439.5 423.3L442.1 427.4L437.5 428.9M456.8 422.7L470.0 425.7M467.0 422.0L470.0 425.7L465.7 427.8M485.0 422.7L498.5 425.0M495.3 421.5L498.5 425.0L494.3 427.3M513.1 422.7L526.4 424.7M523.0 421.2L526.4 424.7L522.2 427.0M541.2 422.7L554.1 424.9M550.9 421.3L554.1 424.9L549.9 427.2M569.4 422.7L581.8 424.5M578.4 421.0L581.8 424.5L577.6 426.8M597.5 422.7L610.2 423.3M606.5 420.1L610.2 423.3L606.3 426.0M625.7 422.7L638.6 422.8M634.8 419.8L638.6 422.8L634.7 425.7M653.8 422.7L666.7 422.1M662.8 419.3L666.7 422.1L663.1 425.2M681.9 422.7L694.9 421.4M690.9 418.8L694.9 421.4L691.5 424.7M710.1 422.7L723.5 423.0M719.8 419.9L723.5 423.0L719.7 425.8M738.2 422.7L751.4 423.7M747.9 420.4L751.4 423.7L747.5 426.3M766.4 422.7L778.6 423.7M775.0 420.4L778.6 423.7L774.6 426.3M794.5 422.7L806.4 422.8M802.7 419.8L806.4 422.8L802.6 425.8M822.6 422.7L835.6 421.5M831.5 418.9L835.6 421.5L832.1 424.8M850.8 422.7L864.6 420.6M860.4 418.3L864.6 420.6L861.3 424.1M878.9 422.7L892.9 420.2M888.7 418.0L892.9 420.2L889.7 423.8M91.0 450.9L102.5 468.7M102.9 463.9L102.5 468.7L98.0 467.1M119.1 450.9L129.9 468.3M130.4 463.6L129.9 468.3L125.4 466.7M147.3 450.9L156.1 467.8M157.0 463.1L156.1 467.8L151.7 465.9M175.4 450.9L185.2 468.3M185.9 463.5L185.2 468.3L180.7 466.4M203.6 450.9L213.8 468.7M214.4 463.9L213.8 468.7L209.3 466.9M231.7 450.9L241.9 467.7M242.4 462.9L241.9 467.7L237.4 466.0M259.8 450.9L270.6 464.0M270.4 459.2L270.6 464.0L265.9 462.9M288.0 450.9L300.7 458.5M299.0 454.0L300.7 458.5L295.9 459.1M316.1 450.9L328.4 459.5M327.0 454.9L328.4 459.5L323.6 459.7M344.3 450.9L356.0 460.2M354.9 455.5L356.0 460.2L351.2 460.2M372.4 450.9L386.1 456.4M383.7 452.2L386.1 456.4L381.4 457.7M400.5 450.9L414.5 455.9M412.0 451.8L414.5 455.9L410.0 457.4M428.7 450.9L442.1 455.7M439.5 451.7L442.1 455.7L437.5 457.2M456.8 450.9L469.3 454.4M466.5 450.6L469.3 454.4L464.9 456.2M485.0 450.9L499.0 453.4M495.8 449.8L499.0 453.4L494.7 455.6M513.1 450.9L527.0 453.6M523.8 450.0L527.0 453.6L522.7 455.8M541.2 450.9L554.7 453.9M551.7 450.2L554.7 453.9L550.4 455.9M569.4 450.9L582.1 453.5M579.0 449.8L582.1 453.5L577.8 455.6M597.5 450.9L610.4 451.3M606.7 448.2L610.4 451.3L606.5 454.1M625.7 450.9L638.7 450.9M634.9 447.9L638.7 450.9L634.9 453.8M653.8 450.9L666.6 451.6M663.0 448.5L666.6 451.6L662.7 454.4M681.9 450.9L695.1 451.5M691.4 448.4L695.1 451.5L691.1 454.3M710.1 450.9L724.1 452.2M720.6 448.9L724.1 452.2L720.0 454.8M738.2 450.9L751.4 452.2M747.9 448.9L751.4 452.2L747.3 454.8M766.4 450.9L778.4 452.5M775.0 449.1L778.4 452.5L774.3 454.9M794.5 450.9L805.9 452.1M802.4 448.7L805.9 452.1L801.8 454.6M822.6 450.9L835.0 450.7M831.2 447.8L835.0 450.7L831.3 453.7M850.8 450.9L864.2 449.9M860.2 447.2L864.2 449.9L860.7 453.1M878.9 450.9L892.9 449.6M888.9 447.0L892.9 449.6L889.4 452.9M91.0 479.0L101.0 496.0M101.6 491.3L101.0 496.0L96.5 494.3M119.1 479.0L128.7 496.1M129.5 491.3L128.7 496.1L124.3 494.2M147.3 479.0L155.8 496.0M156.7 491.3L155.8 496.0L151.4 494.0M175.4 479.0L184.1 496.0M185.0 491.3L184.1 496.0L179.8 494.0M203.6 479.0L213.5 496.4M214.2 491.7L213.5 496.4L209.1 494.6M231.7 479.0L240.7 496.7M241.6 492.0L240.7 496.7L236.4 494.7M259.8 479.0L268.3 497.4M269.4 492.8L268.3 497.4L264.1 495.2M288.0 479.0L298.0 494.7M298.5 489.9L298.0 494.7L293.5 493.1M316.1 479.0L325.9 492.5M326.0 487.7L325.9 492.5L321.3 491.2M344.3 479.0L355.8 488.3M354.7 483.7L355.8 488.3L351.0 488.3M372.4 479.0L384.8 486.7M383.1 482.2L384.8 486.7L380.0 487.3M400.5 479.0L413.9 484.7M411.6 480.5L413.9 484.7L409.3 485.9M428.7 479.0L440.6 483.9M438.2 479.7L440.6 483.9L436.0 485.2M456.8 479.0L468.1 483.2M465.6 479.2L468.1 483.2L463.5 484.7M485.0 479.0L497.7 482.5M494.8 478.7L497.7 482.5L493.3 484.4M513.1 479.0L527.1 481.8M524.0 478.2L527.1 481.8L522.8 484.0M541.2 479.0L555.0 482.2M552.0 478.4L555.0 482.2L550.7 484.2M569.4 479.0L582.2 483.2M579.5 479.2L582.2 483.2L577.7 484.8M597.5 479.0L610.3 481.2M607.0 477.6L610.3 481.2L606.1 483.5M625.7 479.0L638.5 480.1M634.9 476.9L638.5 480.1L634.4 482.8M653.8 479.0L666.5 480.4M663.1 477.1L666.5 480.4L662.4 483.0M681.9 479.0L694.2 480.6M690.8 477.2L694.2 480.6L690.0 483.0M710.1 479.0L721.4 480.4M718.0 477.0L721.4 480.4L717.3 482.9M738.2 479.0L749.9 480.6M746.5 477.2L749.9 480.6L745.7 483.0M766.4 479.0L777.4 481.5M774.4 477.8L777.4 481.5L773.1 483.6M794.5 479.0L804.6 481.6M801.6 477.8L804.6 481.6L800.2 483.5M822.6 479.0L833.5 480.3M830.1 476.9L833.5 480.3L829.4 482.8M850.8 479.0L862.5 479.9M858.9 476.7L862.5 479.9L858.5 482.6M878.9 479.0L890.2 480.4M886.8 477.0L890.2 480.4L886.1 482.9M91.0 507.2L101.0 524.2M101.6 519.4L101.0 524.2L96.5 522.4M119.1 507.2L128.5 524.1M129.3 519.4L128.5 524.1L124.1 522.2M147.3 507.2L155.9 524.1M156.8 519.4L155.9 524.1L151.5 522.1M175.4 507.2L184.1 524.0M185.0 519.3L184.1 524.0L179.8 522.0M203.6 507.2L212.8 523.8M213.5 519.0L212.8 523.8L208.4 521.9M231.7 507.2L240.8 524.4M241.6 519.7L240.8 524.4L236.4 522.5M259.8 507.2L269.0 525.1M269.9 520.4L269.0 525.1L264.7 523.1M288.0 507.2L297.9 525.6M298.7 520.9L297.9 525.6L293.5 523.7M316.1 507.2L324.6 521.2M325.2 516.4L324.6 521.2L320.1 519.5M344.3 507.2L357.0 514.2M355.1 509.8L357.0 514.2L352.2 515.0M372.4 507.2L384.5 515.5M383.0 510.9L384.5 515.5L379.7 515.8M400.5 507.2L411.8 516.1M410.6 511.4L411.8 516.1L407.0 516.0M428.7 507.2L440.0 514.2M438.3 509.7L440.0 514.2L435.2 514.7M456.8 507.2L468.2 512.4M466.0 508.1L468.2 512.4L463.6 513.5M485.0 507.2L497.2 512.2M494.8 508.0L497.2 512.2L492.6 513.5M513.1 507.2L526.6 511.0M523.7 507.1L526.6 511.0L522.2 512.8M541.2 507.2L554.4 512.2M551.9 508.1L554.4 512.2L549.8 513.6M569.4 507.2L582.1 513.9M580.2 509.5L582.1 513.9L577.4 514.8M597.5 507.2L610.3 513.4M608.1 509.1L610.3 513.4L605.6 514.4M625.7 507.2L638.3 511.6M635.7 507.6L638.3 511.6L633.8 513.2M653.8 507.2L666.4 510.2M663.4 506.5L666.4 510.2L662.0 512.2M681.9 507.2L694.1 510.7M691.2 506.8L694.1 510.7L689.6 512.5M710.1 507.2L721.5 509.7M718.5 506.0L721.5 509.7L717.2 511.8M738.2 507.2L749.1 510.5M746.3 506.5L749.1 510.5L744.6 512.2M766.4 507.2L775.5 511.7M773.4 507.4L775.5 511.7L770.9 512.7M794.5 507.2L802.6 511.2M800.5 506.8L802.6 511.2L797.9 512.2M822.6 507.2L830.9 509.9M828.2 505.9L830.9 509.9L826.4 511.5M850.8 507.2L860.7 509.1M857.5 505.5L860.7 509.1L856.4 511.3M878.9 507.2L889.8 508.8M886.5 505.3L889.8 508.8L885.6 511.2M91.0 535.4L99.9 551.7M100.7 547.0L99.9 551.7L95.5 549.8M119.1 535.4L127.4 551.5M128.3 546.8L127.4 551.5L123.0 549.5M147.3 535.4L155.0 551.4M156.1 546.7L155.0 551.4L150.7 549.3M175.4 535.4L183.1 551.2M184.1 546.5L183.1 551.2L178.8 549.1M203.6 535.4L211.7 551.2M212.6 546.5L211.7 551.2L207.4 549.2M231.7 535.4L240.6 551.8M241.4 547.0L240.6 551.8L236.2 549.8M259.8 535.4L269.0 552.6M269.8 547.8L269.0 552.6L264.6 550.6M288.0 535.4L296.5 553.4M297.6 548.7L296.5 553.4L292.2 551.2M316.1 535.4L323.1 555.2M324.6 550.6L323.1 555.2L319.1 552.6M344.3 535.4L353.8 550.8M354.3 546.0L353.8 550.8L349.3 549.1M372.4 535.4L382.7 547.9M382.6 543.1L382.7 547.9L378.1 546.9M400.5 535.4L410.7 544.7M409.9 540.0L410.7 544.7L405.9 544.3M428.7 535.4L439.6 544.3M438.5 539.6L439.6 544.3L434.8 544.2M456.8 535.4L468.0 543.9M466.8 539.3L468.0 543.9L463.2 544.0M485.0 535.4L496.3 543.7M495.0 539.1L496.3 543.7L491.5 543.9M513.1 535.4L524.8 543.4M523.4 538.8L524.8 543.4L520.1 543.7M541.2 535.4L553.8 543.5M552.2 539.0L553.8 543.5L549.0 543.9M569.4 535.4L582.3 543.5M580.7 539.0L582.3 543.5L577.5 544.0M597.5 535.4L610.8 542.7M608.9 538.3L610.8 542.7L606.0 543.5M625.7 535.4L638.5 542.8M636.7 538.4L638.5 542.8L633.8 543.5M653.8 535.4L666.5 542.4M664.6 538.0L666.5 542.4L661.8 543.1M681.9 535.4L694.5 542.4M692.6 538.0L694.5 542.4L689.7 543.1M710.1 535.4L721.5 541.4M719.5 537.0L721.5 541.4L716.8 542.3M738.2 535.4L747.8 541.3M746.1 536.8L747.8 541.3L743.0 541.8M766.4 535.4L774.5 541.9M773.4 537.2L774.5 541.9L769.7 541.8M794.5 535.4L801.5 539.9M800.0 535.4L801.5 539.9L796.8 540.4M850.8 535.4L857.8 538.3M855.6 534.3L857.8 538.3L853.4 539.5M878.9 535.4L887.1 539.3M884.9 535.0L887.1 539.3L882.4 540.3M91.0 563.5L96.4 578.3M97.9 573.7L96.4 578.3L92.3 575.7M119.1 563.5L123.8 578.0M125.5 573.5L123.8 578.0L119.9 575.3M147.3 563.5L151.5 577.9M153.3 573.4L151.5 577.9L147.6 575.1M175.4 563.5L179.8 578.3M181.6 573.8L179.8 578.3L175.9 575.5M203.6 563.5L209.1 578.7M210.6 574.1L209.1 578.7L205.1 576.2M231.7 563.5L239.2 579.3M240.2 574.6L239.2 579.3L234.9 577.1M259.8 563.5L268.3 580.1M269.2 575.3L268.3 580.1L263.9 578.0M288.0 563.5L296.4 581.1M297.4 576.4L296.4 581.1L292.1 578.9M316.1 563.5L324.8 581.8M325.9 577.1L324.8 581.8L320.5 579.6M344.3 563.5L354.2 581.9M355.0 577.2L354.2 581.9L349.8 580.0M372.4 563.5L381.9 579.0M382.4 574.2L381.9 579.0L377.4 577.3M400.5 563.5L410.4 572.1M409.5 567.3L410.4 572.1L405.6 571.8M428.7 563.5L440.0 572.1M438.7 567.4L440.0 572.1L435.2 572.1M456.8 563.5L468.1 572.1M466.9 567.4L468.1 572.1L463.3 572.1M485.0 563.5L496.3 572.0M495.0 567.4L496.3 572.0L491.5 572.1M513.1 563.5L525.0 572.0M523.6 567.4L525.0 572.0L520.2 572.2M541.2 563.5L553.9 572.4M552.5 567.8L553.9 572.4L549.1 572.6M569.4 563.5L582.3 571.8M580.7 567.3L582.3 571.8L577.5 572.3M597.5 563.5L611.3 569.9M609.1 565.7L611.3 569.9L606.6 571.0M625.7 563.5L638.6 571.0M636.7 566.5L638.6 571.0L633.8 571.6M653.8 563.5L666.7 569.9M664.6 565.6L666.7 569.9L662.0 570.9M681.9 563.5L694.8 571.0M693.0 566.5L694.8 571.0L690.1 571.6M710.1 563.5L721.4 569.3M719.3 564.9L721.4 569.3L716.7 570.2M738.2 563.5L747.3 569.6M745.8 565.1L747.3 569.6L742.5 570.0M766.4 563.5L774.9 570.5M773.8 565.9L774.9 570.5L770.1 570.4M794.5 563.5L800.4 568.9M799.6 564.2L800.4 568.9L795.6 568.5M822.6 563.5L829.6 565.0M826.8 561.7L829.6 565.0L825.8 566.9M850.8 563.5L856.5 566.6M854.9 563.1L856.5 566.6L852.7 567.3M878.9 563.5L887.4 567.7M885.3 563.4L887.4 567.7L882.7 568.7M91.0 591.7L94.0 605.7M96.1 601.3L94.0 605.7L90.3 602.6M119.1 591.7L122.0 605.2M124.1 600.9L122.0 605.2L118.3 602.2M147.3 591.7L150.1 605.1M152.2 600.8L150.1 605.1L146.5 602.0M175.4 591.7L178.3 606.6M180.5 602.3L178.3 606.6L174.7 603.5M203.6 591.7L207.0 606.9M209.1 602.6L207.0 606.9L203.3 603.9M231.7 591.7L237.3 607.4M238.8 602.9L237.3 607.4L233.3 604.8M259.8 591.7L266.9 608.0M268.1 603.4L266.9 608.0L262.7 605.7M288.0 591.7L296.1 608.5M297.1 603.8L296.1 608.5L291.8 606.4M316.1 591.7L325.1 609.1M326.0 604.4L325.1 609.1L320.7 607.1M344.3 591.7L353.3 609.2M354.2 604.5L353.3 609.2L348.9 607.2M372.4 591.7L380.9 608.7M381.9 604.0L380.9 608.7L376.6 606.7M400.5 591.7L409.2 606.2M409.8 601.4L409.2 606.2L404.8 604.5M428.7 591.7L436.7 608.7M437.7 604.0L436.7 608.7L432.4 606.6M456.8 591.7L467.3 599.7M466.1 595.1L467.3 599.7L462.5 599.8M485.0 591.7L496.3 598.7M494.6 594.2L496.3 598.7L491.5 599.2M513.1 591.7L525.8 600.2M524.3 595.7L525.8 600.2L521.0 600.6M541.2 591.7L553.7 601.4M552.6 596.7L553.7 601.4L548.9 601.4M569.4 591.7L582.3 602.7M581.3 598.0L582.3 602.7L577.5 602.5M597.5 591.7L610.4 602.7M609.5 598.0L610.4 602.7L605.6 602.5M625.7 591.7L637.7 602.7M636.9 598.0L637.7 602.7L632.9 602.3M653.8 591.7L666.6 601.7M665.4 597.1L666.6 601.7L661.8 601.7M681.9 591.7L694.8 600.9M693.5 596.3L694.8 600.9L690.0 601.1M710.1 591.7L721.4 598.7M719.7 594.2L721.4 598.7L716.6 599.2M766.4 591.7L769.2 595.9M769.4 592.9L769.2 595.9L766.3 595.0M794.5 591.7L798.7 598.7M799.3 594.0L798.7 598.7L794.2 597.0M822.6 591.7L825.5 595.9M825.7 592.9L825.5 595.9L822.6 595.0M850.8 591.7L852.8 595.7M853.3 593.1L852.8 595.7L850.4 594.6M878.9 591.7L880.9 595.7M881.5 593.1L880.9 595.7L878.5 594.6M91.0 619.9L93.6 633.9M95.8 629.6L93.6 633.9L90.0 630.7M119.1 619.9L121.3 633.5M123.6 629.3L121.3 633.5L117.8 630.2M147.3 619.9L150.1 632.6M152.2 628.3L150.1 632.6L146.4 629.5M175.4 619.9L178.2 635.5M180.5 631.2L178.2 635.5L174.6 632.3M203.6 619.9L206.6 635.3M208.7 631.0L206.6 635.3L202.9 632.2M231.7 619.9L237.0 636.3M238.7 631.8L237.0 636.3L233.0 633.6M259.8 619.9L265.6 636.8M267.2 632.3L265.6 636.8L261.6 634.2M288.0 619.9L294.6 636.7M296.0 632.1L294.6 636.7L290.5 634.3M316.1 619.9L324.6 637.6M325.6 632.9L324.6 637.6L320.3 635.4M344.3 619.9L352.8 637.9M353.8 633.2L352.8 637.9L348.5 635.7M372.4 619.9L380.6 637.0M381.7 632.4L380.6 637.0L376.3 634.9M400.5 619.9L407.5 636.9M408.8 632.3L407.5 636.9L403.4 634.5M428.7 619.9L436.5 635.2M437.4 630.5L436.5 635.2L432.2 633.2M456.8 619.9L465.3 631.2M465.4 626.4L465.3 631.2L460.7 629.9M485.0 619.9L494.9 629.8M494.3 625.0L494.9 629.8L490.1 629.2M513.1 619.9L523.7 630.1M523.0 625.3L523.7 630.1L518.9 629.6M541.2 619.9L553.0 630.6M552.2 625.9L553.0 630.6L548.2 630.3M569.4 619.9L581.4 630.9M580.6 626.2L581.4 630.9L576.6 630.5M597.5 619.9L609.5 631.9M608.9 627.1L609.5 631.9L604.8 631.3M625.7 619.9L636.7 631.9M636.3 627.1L636.7 631.9L631.9 631.1M653.8 619.9L664.8 630.0M664.0 625.3L664.8 630.0L660.0 629.6M710.1 619.9L719.0 624.4M717.0 620.1L719.0 624.4L714.3 625.3M738.2 619.9L743.1 624.2M742.4 620.3L743.1 624.2L739.2 624.0M766.4 619.9L768.4 623.9M768.9 621.3L768.4 623.9L765.9 622.7M794.5 619.9L797.3 625.6M798.1 621.9L797.3 625.6L793.9 623.9M822.6 619.9L825.6 625.0M826.1 621.5L825.6 625.0L822.3 623.7M850.8 619.9L853.4 624.0M853.7 621.1L853.4 624.0L850.6 623.0M878.9 619.9L881.4 623.9M881.7 621.1L881.4 623.9L878.7 622.9M91.0 648.1L93.8 662.1M96.0 657.8L93.8 662.1L90.2 658.9M119.1 648.1L120.5 662.1M123.1 658.0L120.5 662.1L117.2 658.6M147.3 648.1L149.6 661.6M151.8 657.4L149.6 661.6L146.0 658.4M175.4 648.1L178.2 663.0M180.4 658.7L178.2 663.0L174.6 659.8M203.6 648.1L207.0 663.4M209.0 659.1L207.0 663.4L203.3 660.4M231.7 648.1L237.3 664.9M238.9 660.4L237.3 664.9L233.3 662.2M259.8 648.1L265.5 665.1M267.1 660.5L265.5 665.1L261.5 662.4M288.0 648.1L293.9 665.0M295.4 660.5L293.9 665.0L289.8 662.4M316.1 648.1L324.2 665.4M325.3 660.7L324.2 665.4L319.9 663.2M344.3 648.1L352.7 665.8M353.8 661.2L352.7 665.8L348.4 663.7M372.4 648.1L380.4 665.0M381.5 660.3L380.4 665.0L376.2 662.9M400.5 648.1L407.8 664.7M409.0 660.1L407.8 664.7L403.5 662.4M428.7 648.1L435.7 665.1M437.0 660.4L435.7 665.1L431.5 662.7M456.8 648.1L464.9 661.7M465.5 656.9L464.9 661.7L460.4 659.9M485.0 648.1L494.7 659.1M494.4 654.3L494.7 659.1L490.0 658.2M513.1 648.1L523.0 660.8M523.0 656.0L523.0 660.8L518.3 659.6M541.2 648.1L552.3 659.6M551.8 654.8L552.3 659.6L547.6 658.9M569.4 648.1L581.4 659.1M580.6 654.3L581.4 659.1L576.6 658.7M597.5 648.1L608.5 659.1M607.9 654.3L608.5 659.1L603.8 658.5M625.7 648.1L636.7 660.1M636.3 655.3L636.7 660.1L631.9 659.3M653.8 648.1L663.9 660.1M663.7 655.3L663.9 660.1L659.2 659.1M681.9 648.1L692.9 655.5M691.5 650.9L692.9 655.5L688.2 655.8M710.1 648.1L719.3 649.9M716.1 646.2L719.3 649.9L715.0 652.0M738.2 648.1L742.4 652.3M742.0 648.7L742.4 652.3L738.9 651.8M850.8 648.1L854.3 652.6M854.3 649.2L854.3 652.6L850.9 651.8" fill="none" stroke="#0808f0" stroke-width="2.3" stroke-linecap="round" stroke-linejoin="miter"/>
<g fill="#fff"><rect x="80.5" y="127" width="19" height="11"/><rect x="105.1" y="127" width="19" height="11"/><rect x="129.8" y="127" width="19" height="11"/><rect x="154.4" y="127" width="19" height="11"/><rect x="179.0" y="127" width="19" height="11"/><rect x="203.7" y="127" width="19" height="11"/><rect x="228.3" y="127" width="19" height="11"/><rect x="253.0" y="127" width="19" height="11"/><rect x="277.6" y="127" width="19" height="11"/><rect x="302.2" y="127" width="19" height="11"/><rect x="326.9" y="127" width="19" height="11"/><rect x="351.5" y="127" width="19" height="11"/><rect x="376.1" y="127" width="19" height="11"/><rect x="400.8" y="127" width="19" height="11"/><rect x="425.4" y="127" width="19" height="11"/><rect x="450.0" y="127" width="19" height="11"/><rect x="474.7" y="127" width="19" height="11"/><rect x="499.3" y="127" width="19" height="11"/><rect x="523.9" y="127" width="19" height="11"/><rect x="548.6" y="127" width="19" height="11"/><rect x="573.2" y="127" width="19" height="11"/><rect x="597.9" y="127" width="19" height="11"/><rect x="622.5" y="127" width="19" height="11"/><rect x="647.1" y="127" width="19" height="11"/><rect x="671.8" y="127" width="19" height="11"/><rect x="696.4" y="127" width="19" height="11"/><rect x="721.0" y="127" width="19" height="11"/><rect x="745.7" y="127" width="19" height="11"/><rect x="770.3" y="127" width="19" height="11"/><rect x="794.9" y="127" width="19" height="11"/><rect x="819.6" y="127" width="19" height="11"/><rect x="844.2" y="127" width="19" height="11"/><rect x="868.9" y="127" width="19" height="11"/><rect x="893.5" y="127" width="19" height="11"/></g><g font-family="Liberation Sans, sans-serif" font-size="7" fill="#333"><text x="90.0" y="136.0" text-anchor="middle">85°W</text><text x="90.0" y="673.7" text-anchor="middle">85°W</text><text x="114.6" y="136.0" text-anchor="middle">84°W</text><text x="114.6" y="673.7" text-anchor="middle">84°W</text><text x="139.3" y="136.0" text-anchor="middle">83°W</text><text x="139.3" y="673.7" text-anchor="middle">83°W</text><text x="163.9" y="136.0" text-anchor="middle">82°W</text><text x="163.9" y="673.7" text-anchor="middle">82°W</text><text x="188.5" y="136.0" text-anchor="middle">81°W</text><text x="188.5" y="673.7" text-anchor="middle">81°W</text><text x="213.2" y="136.0" text-anchor="middle">80°W</text><text x="213.2" y="673.7" text-anchor="middle">80°W</text><text x="237.8" y="136.0" text-anchor="middle">79°W</text><text x="237.8" y="673.7" text-anchor="middle">79°W</text><text x="262.5" y="136.0" text-anchor="middle">78°W</text><text x="262.5" y="673.7" text-anchor="middle">78°W</text><text x="287.1" y="136.0" text-anchor="middle">77°W</text><text x="287.1" y="673.7" text-anchor="middle">77°W</text><text x="311.7" y="136.0" text-anchor="middle">76°W</text><text x="311.7" y="673.7" text-anchor="middle">76°W</text><text x="336.4" y="136.0" text-anchor="middle">75°W</text><text x="336.4" y="673.7" text-anchor="middle">75°W</text><text x="361.0" y="136.0" text-anchor="middle">74°W</text><text x="361.0" y="673.7" text-anchor="middle">74°W</text><text x="385.6" y="136.0" text-anchor="middle">73°W</text><text x="385.6" y="673.7" text-anchor="middle">73°W</text><text x="410.3" y="136.0" text-anchor="middle">72°W</text><text x="410.3" y="673.7" text-anchor="middle">72°W</text><text x="434.9" y="136.0" text-anchor="middle">71°W</text><text x="434.9" y="673.7" text-anchor="middle">71°W</text><text x="459.5" y="136.0" text-anchor="middle">70°W</text><text x="459.5" y="673.7" text-anchor="middle">70°W</text><text x="484.2" y="136.0" text-anchor="middle">69°W</text><text x="484.2" y="673.7" text-anchor="middle">69°W</text><text x="508.8" y="136.0" text-anchor="middle">68°W</text><text x="508.8" y="673.7" text-anchor="middle">68°W</text><text x="533.4" y="136.0" text-anchor="middle">67°W</text><text x="533.4" y="673.7" text-anchor="middle">67°W</text><text x="558.1" y="136.0" text-anchor="middle">66°W</text><text x="558.1" y="673.7" text-anchor="middle">66°W</text><text x="582.7" y="136.0" text-anchor="middle">65°W</text><text x="582.7" y="673.7" text-anchor="middle">65°W</text><text x="607.4" y="136.0" text-anchor="middle">64°W</text><text x="607.4" y="673.7" text-anchor="middle">64°W</text><text x="632.0" y="136.0" text-anchor="middle">63°W</text><text x="632.0" y="673.7" text-anchor="middle">63°W</text><text x="656.6" y="136.0" text-anchor="middle">62°W</text><text x="656.6" y="673.7" text-anchor="middle">62°W</text><text x="681.3" y="136.0" text-anchor="middle">61°W</text><text x="681.3" y="673.7" text-anchor="middle">61°W</text><text x="705.9" y="136.0" text-anchor="middle">60°W</text><text x="705.9" y="673.7" text-anchor="middle">60°W</text><text x="730.5" y="136.0" text-anchor="middle">59°W</text><text x="730.5" y="673.7" text-anchor="middle">59°W</text><text x="755.2" y="136.0" text-anchor="middle">58°W</text><text x="755.2" y="673.7" text-anchor="middle">58°W</text><text x="779.8" y="136.0" text-anchor="middle">57°W</text><text x="779.8" y="673.7" text-anchor="middle">57°W</text><text x="804.4" y="136.0" text-anchor="middle">56°W</text><text x="804.4" y="673.7" text-anchor="middle">56°W</text><text x="829.1" y="136.0" text-anchor="middle">55°W</text><text x="829.1" y="673.7" text-anchor="middle">55°W</text><text x="853.7" y="136.0" text-anchor="middle">54°W</text><text x="853.7" y="673.7" text-anchor="middle">54°W</text><text x="878.4" y="136.0" text-anchor="middle">53°W</text><text x="878.4" y="673.7" text-anchor="middle">53°W</text><text x="903.0" y="136.0" text-anchor="middle">52°W</text><text x="903.0" y="673.7" text-anchor="middle">52°W</text><text x="87.0" y="172.0" text-anchor="end">53°S</text><text x="906.0" y="172.0" text-anchor="start">53°S</text><text x="87.0" y="213.4" text-anchor="end">54°S</text><text x="906.0" y="213.4" text-anchor="start">54°S</text><text x="87.0" y="255.8" text-anchor="end">55°S</text><text x="906.0" y="255.8" text-anchor="start">55°S</text><text x="87.0" y="299.3" text-anchor="end">56°S</text><text x="906.0" y="299.3" text-anchor="start">56°S</text><text x="87.0" y="344.0" text-anchor="end">57°S</text><text x="906.0" y="344.0" text-anchor="start">57°S</text><text x="87.0" y="389.8" text-anchor="end">58°S</text><text x="906.0" y="389.8" text-anchor="start">58°S</text><text x="87.0" y="437.0" text-anchor="end">59°S</text><text x="906.0" y="437.0" text-anchor="start">59°S</text><text x="87.0" y="485.5" text-anchor="end">60°S</text><text x="906.0" y="485.5" text-anchor="start">60°S</text><text x="87.0" y="535.6" text-anchor="end">61°S</text><text x="906.0" y="535.6" text-anchor="start">61°S</text><text x="87.0" y="587.2" text-anchor="end">62°S</text><text x="906.0" y="587.2" text-anchor="start">62°S</text><text x="87.0" y="640.6" text-anchor="end">63°S</text><text x="906.0" y="640.6" text-anchor="start">63°S</text></g>
<g><rect x="60.00" y="684" width="81.82" height="18" fill="#cde0f8"/><rect x="141.82" y="684" width="81.82" height="18" fill="#0a78f8"/><rect x="223.64" y="684" width="81.82" height="18" fill="#78a8f8"/><rect x="305.45" y="684" width="81.82" height="18" fill="#1ff000"/><rect x="387.27" y="684" width="81.82" height="18" fill="#ffff00"/><rect x="469.09" y="684" width="81.82" height="18" fill="#ffd700"/><rect x="550.91" y="684" width="81.82" height="18" fill="#ffa500"/><rect x="632.73" y="684" width="81.82" height="18" fill="#ff7700"/><rect x="714.55" y="684" width="81.82" height="18" fill="#ff0000"/><rect x="796.36" y="684" width="81.82" height="18" fill="#6a1000"/><rect x="878.18" y="684" width="81.82" height="18" fill="#333333"/><rect x="60" y="684" width="900" height="18" fill="none" stroke="#333" stroke-width="1.2"/><line x1="141.82" y1="684" x2="141.82" y2="702" stroke="#333" stroke-width="1"/><line x1="223.64" y1="684" x2="223.64" y2="702" stroke="#333" stroke-width="1"/><line x1="305.45" y1="684" x2="305.45" y2="702" stroke="#333" stroke-width="1"/><line x1="387.27" y1="684" x2="387.27" y2="702" stroke="#333" stroke-width="1"/><line x1="469.09" y1="684" x2="469.09" y2="702" stroke="#333" stroke-width="1"/><line x1="550.91" y1="684" x2="550.91" y2="702" stroke="#333" stroke-width="1"/><line x1="632.73" y1="684" x2="632.73" y2="702" stroke="#333" stroke-width="1"/><line x1="714.55" y1="684" x2="714.55" y2="702" stroke="#333" stroke-width="1"/><line x1="796.36" y1="684" x2="796.36" y2="702" stroke="#333" stroke-width="1"/><line x1="878.18" y1="684" x2="878.18" y2="702" stroke="#333" stroke-width="1"/></g><g font-family="Liberation Sans, sans-serif" font-size="11" font-weight="bold" fill="#1010e0"><text x="60.00" y="678" text-anchor="middle">0</text><text x="141.82" y="678" text-anchor="middle">0.5</text><text x="223.64" y="678" text-anchor="middle">1</text><text x="305.45" y="678" text-anchor="middle">2</text><text x="387.27" y="678" text-anchor="middle">3</text><text x="469.09" y="678" text-anchor="middle">4</text><text x="550.91" y="678" text-anchor="middle">6</text><text x="632.73" y="678" text-anchor="middle">8</text><text x="714.55" y="678" text-anchor="middle">10</text><text x="796.36" y="678" text-anchor="middle">12</text><text x="878.18" y="678" text-anchor="middle">14</text><text x="960.00" y="678" text-anchor="middle">20</text></g>
</svg>
</body></html>
